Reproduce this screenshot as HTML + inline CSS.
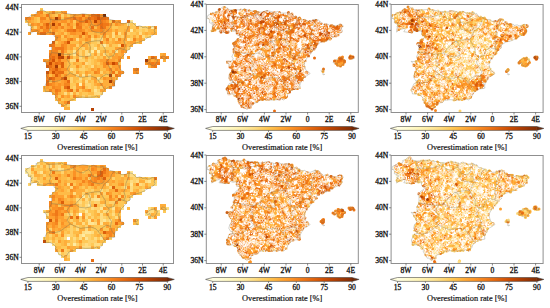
<!DOCTYPE html>
<html><head><meta charset="utf-8"><style>
html,body{margin:0;padding:0;background:#fff;width:550px;height:308px;overflow:hidden}
svg{display:block}
.t{font-family:"Liberation Serif",serif;font-size:7.6px;fill:#111;stroke:#111;stroke-width:0.3px}
.t2{font-family:"Liberation Serif",serif;font-size:8.3px;fill:#111;stroke:#111;stroke-width:0.2px}
</style></head><body>
<svg width="550" height="308" viewBox="0 0 550 308">
<defs><marker id="ra" markerUnits="userSpaceOnUse" markerWidth="8" markerHeight="8" refX="4" refY="4" overflow="visible"><circle cx="4" cy="4" r="2.40" fill="none" stroke="#fff" stroke-width="1.00"/></marker><marker id="rb" markerUnits="userSpaceOnUse" markerWidth="8" markerHeight="8" refX="4" refY="4" overflow="visible"><circle cx="4" cy="4" r="3.00" fill="none" stroke="#fff" stroke-width="1.10"/></marker></defs>
<rect width="550" height="308" fill="#fff"/>
<g shape-rendering="crispEdges"><path fill="#fff2b1" d="M79 83h3v3h-3z"/><path fill="#feeba2" d="M151 26h3v3h-3zM130 29h3v3h-3zM103 44h3v3h-3zM91 50h3v3h-3zM97 50h3v3h-3z"/><path fill="#fee595" d="M130 20h3v3h-3zM127 23h3v3h-3zM127 38h3v3h-3zM94 47h3v3h-3zM73 50h3v3h-3zM115 50h3v3h-3zM73 53h3v3h-3zM88 53h3v3h-3zM70 68h3v3h-3zM82 74h3v3h-3zM97 77h3v3h-3zM94 89h3v3h-3z"/><path fill="#fedc82" d="M139 26h3v3h-3zM112 32h3v3h-3zM118 32h3v3h-3zM139 32h3v3h-3zM112 35h3v3h-3zM142 35h3v3h-3zM76 38h3v3h-3zM91 38h3v3h-3zM100 38h3v3h-3zM118 44h3v3h-3zM85 50h3v3h-3zM85 53h3v3h-3zM103 53h3v3h-3zM79 56h3v3h-3zM70 59h3v3h-3zM73 59h3v3h-3zM85 62h3v3h-3zM91 65h3v3h-3zM76 74h3v3h-3zM88 74h3v3h-3zM79 77h3v3h-3zM85 80h3v3h-3zM64 92h3v3h-3zM70 92h3v3h-3zM94 92h3v3h-3zM97 92h3v3h-3z"/><path fill="#fed26d" d="M61 14h3v3h-3zM28 23h3v3h-3zM133 23h3v3h-3zM34 26h3v3h-3zM142 26h3v3h-3zM145 26h3v3h-3zM139 29h3v3h-3zM145 29h3v3h-3zM127 32h3v3h-3zM121 35h3v3h-3zM148 35h3v3h-3zM97 38h3v3h-3zM115 38h3v3h-3zM130 38h3v3h-3zM97 41h3v3h-3zM76 44h3v3h-3zM91 44h3v3h-3zM100 44h3v3h-3zM106 44h3v3h-3zM82 47h3v3h-3zM91 47h3v3h-3zM127 47h3v3h-3zM79 50h3v3h-3zM79 53h3v3h-3zM97 53h3v3h-3zM94 56h3v3h-3zM79 59h3v3h-3zM82 59h3v3h-3zM88 59h3v3h-3zM88 62h3v3h-3zM82 65h3v3h-3zM73 68h3v3h-3zM79 68h3v3h-3zM82 68h3v3h-3zM73 71h3v3h-3zM100 71h3v3h-3zM112 74h3v3h-3zM70 77h3v3h-3zM88 77h3v3h-3zM70 80h3v3h-3zM79 80h3v3h-3zM100 80h3v3h-3zM85 83h3v3h-3zM88 83h3v3h-3zM73 86h3v3h-3zM88 86h3v3h-3zM94 86h3v3h-3zM100 86h3v3h-3zM97 89h3v3h-3zM76 92h3v3h-3zM100 92h3v3h-3zM82 95h3v3h-3zM88 95h3v3h-3zM67 104h3v3h-3z"/><path fill="#fec857" d="M40 8h3v3h-3zM43 11h3v3h-3zM46 11h3v3h-3zM58 11h3v3h-3zM55 14h3v3h-3zM67 14h3v3h-3zM37 17h3v3h-3zM61 17h3v3h-3zM25 20h3v3h-3zM37 20h3v3h-3zM73 20h3v3h-3zM109 20h3v3h-3zM130 23h3v3h-3zM73 26h3v3h-3zM112 26h3v3h-3zM115 26h3v3h-3zM130 26h3v3h-3zM133 26h3v3h-3zM136 29h3v3h-3zM142 29h3v3h-3zM64 32h3v3h-3zM130 32h3v3h-3zM133 32h3v3h-3zM61 35h3v3h-3zM91 35h3v3h-3zM100 35h3v3h-3zM106 35h3v3h-3zM118 35h3v3h-3zM130 35h3v3h-3zM136 35h3v3h-3zM145 35h3v3h-3zM94 38h3v3h-3zM109 38h3v3h-3zM55 41h3v3h-3zM82 41h3v3h-3zM91 41h3v3h-3zM94 41h3v3h-3zM136 41h3v3h-3zM88 44h3v3h-3zM94 44h3v3h-3zM112 44h3v3h-3zM115 44h3v3h-3zM73 47h3v3h-3zM79 47h3v3h-3zM100 47h3v3h-3zM103 47h3v3h-3zM106 47h3v3h-3zM109 47h3v3h-3zM112 47h3v3h-3zM67 50h3v3h-3zM88 50h3v3h-3zM109 50h3v3h-3zM64 53h3v3h-3zM70 53h3v3h-3zM91 53h3v3h-3zM106 53h3v3h-3zM73 56h3v3h-3zM82 56h3v3h-3zM88 56h3v3h-3zM100 56h3v3h-3zM106 56h3v3h-3zM109 56h3v3h-3zM91 59h3v3h-3zM70 62h3v3h-3zM91 62h3v3h-3zM97 62h3v3h-3zM118 62h3v3h-3zM70 65h3v3h-3zM73 65h3v3h-3zM88 65h3v3h-3zM85 68h3v3h-3zM82 71h3v3h-3zM115 71h3v3h-3zM103 74h3v3h-3zM106 74h3v3h-3zM85 77h3v3h-3zM76 80h3v3h-3zM91 80h3v3h-3zM97 80h3v3h-3zM70 83h3v3h-3zM73 83h3v3h-3zM91 83h3v3h-3zM70 86h3v3h-3zM85 86h3v3h-3zM91 86h3v3h-3zM73 89h3v3h-3zM79 89h3v3h-3zM91 89h3v3h-3zM82 92h3v3h-3zM85 92h3v3h-3zM58 95h3v3h-3zM70 95h3v3h-3zM91 95h3v3h-3zM94 95h3v3h-3zM61 98h3v3h-3zM73 98h3v3h-3z"/><path fill="#febb47" d="M55 11h3v3h-3zM52 14h3v3h-3zM34 17h3v3h-3zM34 20h3v3h-3zM61 23h3v3h-3zM73 23h3v3h-3zM112 23h3v3h-3zM124 23h3v3h-3zM31 26h3v3h-3zM94 26h3v3h-3zM118 26h3v3h-3zM121 26h3v3h-3zM124 26h3v3h-3zM49 29h3v3h-3zM61 29h3v3h-3zM112 29h3v3h-3zM118 29h3v3h-3zM121 29h3v3h-3zM133 29h3v3h-3zM148 29h3v3h-3zM151 29h3v3h-3zM154 29h3v3h-3zM55 32h3v3h-3zM88 32h3v3h-3zM91 32h3v3h-3zM97 32h3v3h-3zM121 32h3v3h-3zM136 32h3v3h-3zM142 32h3v3h-3zM148 32h3v3h-3zM70 35h3v3h-3zM82 35h3v3h-3zM115 35h3v3h-3zM127 35h3v3h-3zM61 38h3v3h-3zM64 38h3v3h-3zM142 38h3v3h-3zM70 41h3v3h-3zM73 41h3v3h-3zM76 41h3v3h-3zM103 41h3v3h-3zM109 41h3v3h-3zM124 41h3v3h-3zM127 44h3v3h-3zM88 47h3v3h-3zM97 47h3v3h-3zM70 50h3v3h-3zM82 50h3v3h-3zM100 50h3v3h-3zM82 53h3v3h-3zM112 53h3v3h-3zM91 56h3v3h-3zM97 56h3v3h-3zM85 59h3v3h-3zM94 59h3v3h-3zM67 62h3v3h-3zM76 62h3v3h-3zM79 62h3v3h-3zM94 62h3v3h-3zM67 65h3v3h-3zM79 65h3v3h-3zM85 65h3v3h-3zM97 65h3v3h-3zM100 65h3v3h-3zM109 65h3v3h-3zM76 68h3v3h-3zM88 68h3v3h-3zM100 68h3v3h-3zM103 68h3v3h-3zM67 71h3v3h-3zM70 71h3v3h-3zM79 71h3v3h-3zM91 71h3v3h-3zM106 71h3v3h-3zM49 74h3v3h-3zM91 74h3v3h-3zM94 74h3v3h-3zM97 74h3v3h-3zM67 77h3v3h-3zM73 77h3v3h-3zM76 77h3v3h-3zM82 77h3v3h-3zM100 77h3v3h-3zM115 77h3v3h-3zM49 80h3v3h-3zM73 80h3v3h-3zM88 80h3v3h-3zM61 86h3v3h-3zM97 86h3v3h-3zM106 86h3v3h-3zM43 89h3v3h-3zM61 89h3v3h-3zM61 92h3v3h-3zM67 92h3v3h-3zM79 92h3v3h-3zM88 92h3v3h-3zM91 92h3v3h-3zM79 95h3v3h-3zM85 95h3v3h-3zM97 95h3v3h-3zM55 98h3v3h-3zM64 98h3v3h-3zM67 98h3v3h-3zM70 98h3v3h-3zM58 101h3v3h-3zM64 104h3v3h-3z"/><path fill="#feae3b" d="M49 11h3v3h-3zM31 14h3v3h-3zM43 14h3v3h-3zM49 14h3v3h-3zM64 14h3v3h-3zM70 14h3v3h-3zM85 14h3v3h-3zM46 17h3v3h-3zM31 20h3v3h-3zM67 20h3v3h-3zM40 23h3v3h-3zM64 23h3v3h-3zM85 23h3v3h-3zM121 23h3v3h-3zM64 26h3v3h-3zM82 26h3v3h-3zM88 26h3v3h-3zM109 26h3v3h-3zM148 26h3v3h-3zM40 29h3v3h-3zM58 29h3v3h-3zM85 29h3v3h-3zM124 29h3v3h-3zM58 32h3v3h-3zM67 32h3v3h-3zM94 32h3v3h-3zM106 32h3v3h-3zM109 32h3v3h-3zM145 32h3v3h-3zM151 32h3v3h-3zM154 32h3v3h-3zM67 35h3v3h-3zM73 35h3v3h-3zM76 35h3v3h-3zM97 35h3v3h-3zM109 35h3v3h-3zM133 35h3v3h-3zM79 38h3v3h-3zM82 38h3v3h-3zM103 38h3v3h-3zM112 38h3v3h-3zM121 38h3v3h-3zM136 38h3v3h-3zM58 41h3v3h-3zM85 41h3v3h-3zM88 41h3v3h-3zM112 41h3v3h-3zM121 41h3v3h-3zM127 41h3v3h-3zM139 41h3v3h-3zM55 44h3v3h-3zM58 44h3v3h-3zM67 44h3v3h-3zM79 44h3v3h-3zM85 44h3v3h-3zM97 44h3v3h-3zM109 44h3v3h-3zM130 44h3v3h-3zM67 47h3v3h-3zM76 47h3v3h-3zM85 47h3v3h-3zM124 47h3v3h-3zM58 50h3v3h-3zM76 50h3v3h-3zM94 50h3v3h-3zM103 50h3v3h-3zM106 50h3v3h-3zM118 50h3v3h-3zM67 53h3v3h-3zM100 53h3v3h-3zM109 53h3v3h-3zM118 53h3v3h-3zM160 53h3v3h-3zM76 56h3v3h-3zM121 56h3v3h-3zM148 56h3v3h-3zM67 59h3v3h-3zM97 59h3v3h-3zM115 59h3v3h-3zM151 59h3v3h-3zM163 59h3v3h-3zM64 62h3v3h-3zM73 62h3v3h-3zM100 62h3v3h-3zM64 65h3v3h-3zM94 65h3v3h-3zM148 65h3v3h-3zM67 68h3v3h-3zM94 68h3v3h-3zM112 68h3v3h-3zM64 71h3v3h-3zM88 71h3v3h-3zM103 71h3v3h-3zM61 74h3v3h-3zM67 74h3v3h-3zM70 74h3v3h-3zM73 74h3v3h-3zM79 74h3v3h-3zM85 74h3v3h-3zM100 74h3v3h-3zM91 77h3v3h-3zM58 80h3v3h-3zM82 80h3v3h-3zM103 80h3v3h-3zM106 80h3v3h-3zM94 83h3v3h-3zM103 83h3v3h-3zM106 83h3v3h-3zM109 83h3v3h-3zM43 86h3v3h-3zM49 86h3v3h-3zM46 89h3v3h-3zM64 89h3v3h-3zM82 89h3v3h-3zM103 89h3v3h-3zM52 92h3v3h-3zM58 92h3v3h-3zM73 92h3v3h-3zM64 95h3v3h-3zM76 95h3v3h-3zM61 101h3v3h-3zM64 107h3v3h-3zM67 107h3v3h-3z"/><path fill="#fea030" d="M61 11h3v3h-3zM40 14h3v3h-3zM76 14h3v3h-3zM79 14h3v3h-3zM88 14h3v3h-3zM31 17h3v3h-3zM52 17h3v3h-3zM82 17h3v3h-3zM28 20h3v3h-3zM43 20h3v3h-3zM46 20h3v3h-3zM49 20h3v3h-3zM58 20h3v3h-3zM115 20h3v3h-3zM34 23h3v3h-3zM70 23h3v3h-3zM82 23h3v3h-3zM91 23h3v3h-3zM118 23h3v3h-3zM37 26h3v3h-3zM58 26h3v3h-3zM67 26h3v3h-3zM85 26h3v3h-3zM106 26h3v3h-3zM127 26h3v3h-3zM136 26h3v3h-3zM55 29h3v3h-3zM64 29h3v3h-3zM88 29h3v3h-3zM103 29h3v3h-3zM109 29h3v3h-3zM115 29h3v3h-3zM127 29h3v3h-3zM28 32h3v3h-3zM46 32h3v3h-3zM61 32h3v3h-3zM76 32h3v3h-3zM79 32h3v3h-3zM100 32h3v3h-3zM85 35h3v3h-3zM124 35h3v3h-3zM139 35h3v3h-3zM58 38h3v3h-3zM73 38h3v3h-3zM88 38h3v3h-3zM124 38h3v3h-3zM139 38h3v3h-3zM61 41h3v3h-3zM79 41h3v3h-3zM106 41h3v3h-3zM115 41h3v3h-3zM118 41h3v3h-3zM130 41h3v3h-3zM133 41h3v3h-3zM70 44h3v3h-3zM73 44h3v3h-3zM82 44h3v3h-3zM124 44h3v3h-3zM70 47h3v3h-3zM115 47h3v3h-3zM118 47h3v3h-3zM121 47h3v3h-3zM64 50h3v3h-3zM112 50h3v3h-3zM124 50h3v3h-3zM76 53h3v3h-3zM94 53h3v3h-3zM115 53h3v3h-3zM121 53h3v3h-3zM163 53h3v3h-3zM64 56h3v3h-3zM70 56h3v3h-3zM85 56h3v3h-3zM103 56h3v3h-3zM112 56h3v3h-3zM115 56h3v3h-3zM46 59h3v3h-3zM61 59h3v3h-3zM64 59h3v3h-3zM100 59h3v3h-3zM103 59h3v3h-3zM109 59h3v3h-3zM112 59h3v3h-3zM154 59h3v3h-3zM82 62h3v3h-3zM58 65h3v3h-3zM106 65h3v3h-3zM112 65h3v3h-3zM115 65h3v3h-3zM91 68h3v3h-3zM106 68h3v3h-3zM118 68h3v3h-3zM76 71h3v3h-3zM85 71h3v3h-3zM109 71h3v3h-3zM52 74h3v3h-3zM94 77h3v3h-3zM106 77h3v3h-3zM109 77h3v3h-3zM112 77h3v3h-3zM55 80h3v3h-3zM61 80h3v3h-3zM94 80h3v3h-3zM55 83h3v3h-3zM61 83h3v3h-3zM76 83h3v3h-3zM82 83h3v3h-3zM97 83h3v3h-3zM46 86h3v3h-3zM76 86h3v3h-3zM79 86h3v3h-3zM103 86h3v3h-3zM52 89h3v3h-3zM85 89h3v3h-3zM100 89h3v3h-3zM55 95h3v3h-3zM67 95h3v3h-3zM61 104h3v3h-3z"/><path fill="#fb9225" d="M37 11h3v3h-3zM64 11h3v3h-3zM34 14h3v3h-3zM37 14h3v3h-3zM58 14h3v3h-3zM73 14h3v3h-3zM100 14h3v3h-3zM49 17h3v3h-3zM64 17h3v3h-3zM67 17h3v3h-3zM40 20h3v3h-3zM55 20h3v3h-3zM61 20h3v3h-3zM64 20h3v3h-3zM70 20h3v3h-3zM76 20h3v3h-3zM91 20h3v3h-3zM106 20h3v3h-3zM118 20h3v3h-3zM31 23h3v3h-3zM37 23h3v3h-3zM49 23h3v3h-3zM55 23h3v3h-3zM88 23h3v3h-3zM94 23h3v3h-3zM109 23h3v3h-3zM115 23h3v3h-3zM43 26h3v3h-3zM49 26h3v3h-3zM52 26h3v3h-3zM70 26h3v3h-3zM97 26h3v3h-3zM154 26h3v3h-3zM31 29h3v3h-3zM34 29h3v3h-3zM37 29h3v3h-3zM52 29h3v3h-3zM76 29h3v3h-3zM82 29h3v3h-3zM91 29h3v3h-3zM94 29h3v3h-3zM97 29h3v3h-3zM106 29h3v3h-3zM37 32h3v3h-3zM49 32h3v3h-3zM70 32h3v3h-3zM73 32h3v3h-3zM85 32h3v3h-3zM115 32h3v3h-3zM124 32h3v3h-3zM55 35h3v3h-3zM58 35h3v3h-3zM64 35h3v3h-3zM94 35h3v3h-3zM103 35h3v3h-3zM55 38h3v3h-3zM67 38h3v3h-3zM85 38h3v3h-3zM64 44h3v3h-3zM64 47h3v3h-3zM49 50h3v3h-3zM121 50h3v3h-3zM118 56h3v3h-3zM127 56h3v3h-3zM163 56h3v3h-3zM43 59h3v3h-3zM55 59h3v3h-3zM148 59h3v3h-3zM157 59h3v3h-3zM103 62h3v3h-3zM145 62h3v3h-3zM76 65h3v3h-3zM103 65h3v3h-3zM118 65h3v3h-3zM61 68h3v3h-3zM64 68h3v3h-3zM97 68h3v3h-3zM115 68h3v3h-3zM49 71h3v3h-3zM97 71h3v3h-3zM121 71h3v3h-3zM133 71h3v3h-3zM136 71h3v3h-3zM64 74h3v3h-3zM118 74h3v3h-3zM55 77h3v3h-3zM58 77h3v3h-3zM103 77h3v3h-3zM64 80h3v3h-3zM112 80h3v3h-3zM52 83h3v3h-3zM58 83h3v3h-3zM100 83h3v3h-3zM55 86h3v3h-3zM58 86h3v3h-3zM88 89h3v3h-3zM61 95h3v3h-3zM58 98h3v3h-3zM64 101h3v3h-3z"/><path fill="#f5851f" d="M40 11h3v3h-3zM52 11h3v3h-3zM25 17h3v3h-3zM28 17h3v3h-3zM40 17h3v3h-3zM43 17h3v3h-3zM70 17h3v3h-3zM76 17h3v3h-3zM85 17h3v3h-3zM52 20h3v3h-3zM82 20h3v3h-3zM88 20h3v3h-3zM97 20h3v3h-3zM103 20h3v3h-3zM43 23h3v3h-3zM67 23h3v3h-3zM79 23h3v3h-3zM97 23h3v3h-3zM55 26h3v3h-3zM61 26h3v3h-3zM43 29h3v3h-3zM46 29h3v3h-3zM79 29h3v3h-3zM100 29h3v3h-3zM103 32h3v3h-3zM79 35h3v3h-3zM88 35h3v3h-3zM106 38h3v3h-3zM118 38h3v3h-3zM133 38h3v3h-3zM64 41h3v3h-3zM61 44h3v3h-3zM52 47h3v3h-3zM52 50h3v3h-3zM55 50h3v3h-3zM52 53h3v3h-3zM55 53h3v3h-3zM61 53h3v3h-3zM55 56h3v3h-3zM154 56h3v3h-3zM160 56h3v3h-3zM166 56h3v3h-3zM106 59h3v3h-3zM118 59h3v3h-3zM46 62h3v3h-3zM52 62h3v3h-3zM109 62h3v3h-3zM148 62h3v3h-3zM154 62h3v3h-3zM52 65h3v3h-3zM151 65h3v3h-3zM49 68h3v3h-3zM58 68h3v3h-3zM109 68h3v3h-3zM133 68h3v3h-3zM94 71h3v3h-3zM118 71h3v3h-3zM46 74h3v3h-3zM58 74h3v3h-3zM46 77h3v3h-3zM52 80h3v3h-3zM49 83h3v3h-3zM64 83h3v3h-3zM67 83h3v3h-3zM112 83h3v3h-3zM52 86h3v3h-3zM82 86h3v3h-3zM109 86h3v3h-3zM49 89h3v3h-3zM58 89h3v3h-3zM67 89h3v3h-3zM76 89h3v3h-3zM55 92h3v3h-3zM73 95h3v3h-3z"/><path fill="#f07818" d="M46 14h3v3h-3zM58 17h3v3h-3zM79 17h3v3h-3zM91 17h3v3h-3zM106 17h3v3h-3zM79 20h3v3h-3zM100 20h3v3h-3zM103 23h3v3h-3zM106 23h3v3h-3zM40 26h3v3h-3zM76 26h3v3h-3zM79 26h3v3h-3zM103 26h3v3h-3zM67 29h3v3h-3zM70 29h3v3h-3zM70 38h3v3h-3zM100 41h3v3h-3zM49 44h3v3h-3zM52 44h3v3h-3zM55 47h3v3h-3zM58 47h3v3h-3zM61 47h3v3h-3zM61 50h3v3h-3zM49 53h3v3h-3zM49 56h3v3h-3zM49 59h3v3h-3zM58 59h3v3h-3zM76 59h3v3h-3zM58 62h3v3h-3zM151 62h3v3h-3zM157 62h3v3h-3zM154 65h3v3h-3zM52 68h3v3h-3zM136 68h3v3h-3zM55 71h3v3h-3zM112 71h3v3h-3zM115 74h3v3h-3zM55 89h3v3h-3z"/><path fill="#e86c12" d="M82 14h3v3h-3zM91 14h3v3h-3zM94 14h3v3h-3zM73 17h3v3h-3zM88 17h3v3h-3zM94 17h3v3h-3zM100 17h3v3h-3zM103 17h3v3h-3zM112 20h3v3h-3zM127 20h3v3h-3zM58 23h3v3h-3zM76 23h3v3h-3zM100 23h3v3h-3zM46 26h3v3h-3zM91 26h3v3h-3zM100 26h3v3h-3zM73 29h3v3h-3zM40 32h3v3h-3zM43 32h3v3h-3zM52 32h3v3h-3zM52 56h3v3h-3zM151 56h3v3h-3zM55 62h3v3h-3zM115 62h3v3h-3zM49 65h3v3h-3zM58 71h3v3h-3zM61 71h3v3h-3zM52 77h3v3h-3zM61 77h3v3h-3zM46 80h3v3h-3zM67 80h3v3h-3zM46 83h3v3h-3zM64 86h3v3h-3zM70 89h3v3h-3zM67 101h3v3h-3z"/><path fill="#dd5f0c" d="M97 14h3v3h-3zM85 20h3v3h-3zM46 23h3v3h-3zM52 41h3v3h-3zM61 62h3v3h-3zM106 62h3v3h-3zM46 65h3v3h-3zM61 65h3v3h-3zM55 68h3v3h-3zM55 74h3v3h-3zM49 77h3v3h-3z"/><path fill="#d35406" d="M97 17h3v3h-3zM82 32h3v3h-3zM67 41h3v3h-3zM121 44h3v3h-3zM67 56h3v3h-3zM52 59h3v3h-3zM46 71h3v3h-3zM52 71h3v3h-3zM67 86h3v3h-3z"/><path fill="#c84a02" d="M58 56h3v3h-3zM49 62h3v3h-3zM112 62h3v3h-3z"/><path fill="#b84203" d="M94 20h3v3h-3zM61 56h3v3h-3zM109 74h3v3h-3zM64 77h3v3h-3zM91 108h3v3h-3z"/><path fill="#a63a03" d="M55 17h3v3h-3zM52 23h3v3h-3zM145 59h3v3h-3zM55 65h3v3h-3zM109 80h3v3h-3z"/><path fill="#762a05" d="M103 14h3v3h-3zM58 53h3v3h-3z"/></g>
<path d="M49.1 13.2L49.5 17.4L51.1 21.1L49.5 23.6L51.1 26.0L49.5 29.7L50.6 32.9M50.1 19.2L54.7 19.9L59.9 19.9L65.0 19.2L70.2 18.0L73.3 16.8L75.4 14.9M73.3 16.8L76.4 19.9L80.5 21.7L83.6 21.7L85.7 19.9L88.8 18.6L89.3 15.5M88.8 18.6L90.9 21.1L91.9 24.8L96.0 26.0L99.1 24.8L101.2 22.9L100.2 19.9L103.3 17.4L103.8 15.8M90.9 24.2L89.8 27.3L91.9 31.0L96.0 32.2L100.2 32.8L102.7 32.2L104.3 29.7L101.2 26.6M114.1 20.5L111.5 23.6L110.5 27.3L107.4 31.0L104.3 32.8M104.3 32.8L102.2 37.1L100.2 40.8L102.2 44.5L105.3 49.5L105.3 54.4L108.4 56.9M129.1 21.7L128.6 26.0L126.0 32.2L125.5 37.1L123.9 40.8L125.5 45.8L123.9 49.5M123.9 49.5L119.8 48.3L115.7 50.7L113.6 55.7L108.4 56.9M123.9 49.5L127.0 50.5M51.6 52.6L57.8 53.2L65.0 54.4L70.2 54.4L75.4 53.2M75.4 53.2L78.5 49.5L81.6 46.4L85.7 42.7L88.8 43.3L90.3 47.0L89.8 52.0L90.9 55.7L85.7 56.9L79.5 56.3L75.4 53.2M85.7 42.7L90.9 41.5L96.0 40.8L100.2 40.8M70.2 54.4L67.1 59.4L70.2 64.3L67.1 69.2L70.2 73.0M70.2 73.0L65.0 76.7L59.9 80.4L54.7 81.6L49.5 81.0M70.2 73.0L75.4 75.4L80.5 77.3L85.7 76.7L90.9 76.0L96.0 77.9L98.1 80.4M98.1 80.4L102.2 76.7L106.4 74.2L110.5 75.4M98.1 80.4L101.2 84.1L103.3 87.8L105.1 89.3M110.5 75.4L111.5 79.1L113.6 82.8L114.6 83.5M110.5 75.4L111.5 70.5L108.4 65.5L106.4 61.8L109.5 58.1L108.4 56.9M103.5 15.3L101.4 15.9L99.1 16.0L96.9 15.9L93.4 14.3L90.3 15.5L88.6 15.0L86.2 14.3L82.7 13.8L77.5 15.0L72.8 14.7L69.6 14.0L63.4 13.1L61.4 11.7L60.6 12.6L58.3 12.8L54.3 13.1L49.1 13.2L46.9 12.8L45.8 11.7L42.4 10.1L40.6 10.3L38.7 11.7L35.9 12.8L36.6 14.0L35.1 15.2L30.8 15.8L29.0 17.1L26.7 17.9L26.6 18.6L25.8 19.2L26.1 21.3L26.9 20.6L27.6 22.1L28.3 22.7L28.1 25.0L29.0 25.4L31.3 24.8L30.2 26.1L30.8 27.3L32.5 26.9L30.2 29.1L31.8 29.2L30.4 30.7L30.2 33.8L32.5 32.0L34.6 31.2L37.5 30.3L38.4 31.6L37.1 33.4L40.2 33.9L43.3 34.3L45.2 34.2L48.0 32.3L50.6 32.9L53.9 32.7L54.2 36.3L56.9 37.4L57.9 37.4L55.9 39.9L53.2 41.6L51.6 43.9L50.3 44.3L51.6 46.4L51.6 50.7L51.1 53.6L50.1 55.4L49.3 57.1L50.8 58.5L49.3 61.0L46.1 61.3L44.1 61.1L46.4 63.7L47.2 65.8L49.0 68.0L50.1 69.9L49.0 70.9L47.5 72.3L46.4 76.0L48.5 79.4L50.3 79.0L49.5 81.4L47.0 81.8L44.4 87.2L44.9 89.0L45.4 91.7L46.2 91.6L50.1 91.5L51.6 92.3L54.2 94.0L56.2 96.5L55.4 97.2L56.2 98.6L56.8 99.8L58.1 101.6L59.6 104.1L60.7 104.0L63.9 106.2L65.6 104.7L66.6 104.8L68.7 101.1L71.4 100.0L74.1 99.6L76.2 97.5L81.8 97.0L85.5 97.4L90.7 97.2L94.9 96.9L96.4 96.0L99.2 97.4L102.2 94.1L103.0 91.7L105.5 89.0L108.8 87.0L111.7 86.8L114.7 86.2L114.4 84.1L114.8 81.8L116.5 79.3L116.9 77.4L119.5 75.4L120.5 75.1L122.4 73.7L124.2 72.6L122.9 71.2L120.3 69.6L119.5 67.3L118.5 63.7L119.6 61.1L121.6 57.3L123.3 55.8L126.1 52.5L126.8 51.1L130.8 48.0L129.6 47.0L130.1 46.0L133.8 43.7L134.8 43.2L140.5 41.7L144.4 39.9L147.2 37.9L150.8 36.3L154.2 34.1L155.1 32.8L154.2 30.7L154.7 29.0L156.1 28.2L154.6 26.9L152.3 26.5L149.4 28.0L147.5 28.0L145.6 27.0L142.5 27.6L142.0 26.6L139.7 26.0L136.8 26.6L132.2 22.4L128.8 21.8L124.9 23.6L121.8 23.7L118.6 21.8L116.2 22.4L114.1 20.5L111.5 19.9L108.4 19.0L106.9 16.5L105.3 16.8ZM146.1 62.1L147.9 63.6L149.9 62.5L150.3 64.7L153.4 65.9L155.4 64.6L157.8 60.4L154.9 59.1L155.0 57.4L153.4 58.1L150.6 58.9L146.6 61.5ZM161.3 56.9L161.6 57.8L164.2 59.0L166.5 58.5L165.8 57.1L162.7 56.0ZM134.6 69.9L135.5 71.0L136.8 70.7L138.0 69.0L136.8 68.1L135.5 69.1ZM136.3 72.7L138.2 73.3L137.3 73.7L136.1 73.2Z" fill="none" stroke="#6f6b52" stroke-width="0.45" stroke-linejoin="round" opacity="0.85"/>
<rect x="21.5" y="4.5" width="152.0" height="108.0" fill="none" stroke="#8f8f8f" stroke-width="1"/>
<line x1="19.5" y1="7.5" x2="21.5" y2="7.5" stroke="#555" stroke-width="0.7"/>
<text x="18.7" y="10.1" class="t" text-anchor="end">44N</text>
<line x1="19.5" y1="32.2" x2="21.5" y2="32.2" stroke="#555" stroke-width="0.7"/>
<text x="18.7" y="34.8" class="t" text-anchor="end">42N</text>
<line x1="19.5" y1="56.9" x2="21.5" y2="56.9" stroke="#555" stroke-width="0.7"/>
<text x="18.7" y="59.5" class="t" text-anchor="end">40N</text>
<line x1="19.5" y1="81.6" x2="21.5" y2="81.6" stroke="#555" stroke-width="0.7"/>
<text x="18.7" y="84.2" class="t" text-anchor="end">38N</text>
<line x1="19.5" y1="106.3" x2="21.5" y2="106.3" stroke="#555" stroke-width="0.7"/>
<text x="18.7" y="108.9" class="t" text-anchor="end">36N</text>
<line x1="39.2" y1="112.5" x2="39.2" y2="114.5" stroke="#555" stroke-width="0.7"/>
<text x="39.2" y="121.9" class="t" text-anchor="middle">8W</text>
<line x1="59.9" y1="112.5" x2="59.9" y2="114.5" stroke="#555" stroke-width="0.7"/>
<text x="59.9" y="121.9" class="t" text-anchor="middle">6W</text>
<line x1="80.5" y1="112.5" x2="80.5" y2="114.5" stroke="#555" stroke-width="0.7"/>
<text x="80.5" y="121.9" class="t" text-anchor="middle">4W</text>
<line x1="101.2" y1="112.5" x2="101.2" y2="114.5" stroke="#555" stroke-width="0.7"/>
<text x="101.2" y="121.9" class="t" text-anchor="middle">2W</text>
<line x1="121.8" y1="112.5" x2="121.8" y2="114.5" stroke="#555" stroke-width="0.7"/>
<text x="121.8" y="121.9" class="t" text-anchor="middle">0</text>
<line x1="142.5" y1="112.5" x2="142.5" y2="114.5" stroke="#555" stroke-width="0.7"/>
<text x="142.5" y="121.9" class="t" text-anchor="middle">2E</text>
<line x1="163.2" y1="112.5" x2="163.2" y2="114.5" stroke="#555" stroke-width="0.7"/>
<text x="163.2" y="121.9" class="t" text-anchor="middle">4E</text>
<defs><linearGradient id="g0" x1="0" x2="1" y1="0" y2="0"><stop offset="0.000" stop-color="#ffffe5"/><stop offset="0.050" stop-color="#fffcd7"/><stop offset="0.100" stop-color="#fff9c7"/><stop offset="0.150" stop-color="#fff5b8"/><stop offset="0.200" stop-color="#ffeea8"/><stop offset="0.250" stop-color="#fee697"/><stop offset="0.300" stop-color="#fedc82"/><stop offset="0.350" stop-color="#fed069"/><stop offset="0.400" stop-color="#fec550"/><stop offset="0.450" stop-color="#feb541"/><stop offset="0.500" stop-color="#fea433"/><stop offset="0.550" stop-color="#fd9627"/><stop offset="0.600" stop-color="#f6861f"/><stop offset="0.650" stop-color="#ef7718"/><stop offset="0.700" stop-color="#e56910"/><stop offset="0.750" stop-color="#d95b09"/><stop offset="0.800" stop-color="#cd4d03"/><stop offset="0.850" stop-color="#bb4403"/><stop offset="0.900" stop-color="#a83b03"/><stop offset="0.950" stop-color="#943304"/><stop offset="1.000" stop-color="#812d05"/></linearGradient></defs>
<rect x="27.9" y="126.5" width="139.4" height="3.9" fill="url(#g0)"/>
<path d="M28.2 126.5 L20.8 128.4 L28.2 130.4 Z" fill="#fffddc"/>
<path d="M167.0 126.5 L174.3 128.4 L167.0 130.4 Z" fill="#712806"/>
<path d="M27.9 126.5L20.8 128.4L27.9 130.4L167.3 130.4L174.3 128.4L167.3 126.5Z" fill="none" stroke="#3a3a3a" stroke-width="0.55"/>
<line x1="27.9" y1="130.4" x2="27.9" y2="132.0" stroke="#444" stroke-width="0.6"/>
<text x="27.9" y="139.3" class="t" text-anchor="middle">15</text>
<line x1="55.8" y1="130.4" x2="55.8" y2="132.0" stroke="#444" stroke-width="0.6"/>
<text x="55.8" y="139.3" class="t" text-anchor="middle">30</text>
<line x1="83.7" y1="130.4" x2="83.7" y2="132.0" stroke="#444" stroke-width="0.6"/>
<text x="83.7" y="139.3" class="t" text-anchor="middle">45</text>
<line x1="111.5" y1="130.4" x2="111.5" y2="132.0" stroke="#444" stroke-width="0.6"/>
<text x="111.5" y="139.3" class="t" text-anchor="middle">60</text>
<line x1="139.4" y1="130.4" x2="139.4" y2="132.0" stroke="#444" stroke-width="0.6"/>
<text x="139.4" y="139.3" class="t" text-anchor="middle">75</text>
<line x1="167.3" y1="130.4" x2="167.3" y2="132.0" stroke="#444" stroke-width="0.6"/>
<text x="167.3" y="139.3" class="t" text-anchor="middle">90</text>
<text x="97.4" y="150.4" class="t2" text-anchor="middle">Overestimation rate [%]</text>
<g fill="none" stroke-linecap="round" transform="scale(0.5)"><path stroke="#fec857" stroke-width="6.00" d="M574 113h0M533 173h0M593 105h0"/><path stroke="#febb47" stroke-width="6.00" d="M480 123h0M531 137h0M540 54h0M472 151h0M476 145h0M616 98h0M600 139h0M588 58h0M593 82h0M605 119h0"/><path stroke="#feae3b" stroke-width="6.00" d="M522 135h0M554 169h0M562 47h0M562 184h0M608 83h0M574 136h0M494 171h0M521 122h0M548 171h0M475 106h0M659 58h0M476 106h0M552 74h0M595 39h0M556 188h0M440 29h0M580 79h0M512 163h0M672 57h0M513 63h0M563 179h0M557 81h0M565 126h0M459 179h0M578 61h0M536 93h0M491 143h0M468 154h0M571 84h0M583 91h0M521 122h0M612 145h0M646 143h0"/><path stroke="#fea030" stroke-width="6.00" d="M633 49h0M557 92h0M539 155h0M670 62h0M610 113h0M493 155h0M533 193h0M503 72h0M439 25h0M524 108h0M570 139h0M565 103h0M534 176h0M505 173h0M564 170h0M554 163h0M501 190h0M589 154h0M609 53h0M513 169h0M525 139h0M533 148h0M560 44h0M497 78h0M547 123h0M559 93h0M508 160h0M499 191h0M498 87h0M495 121h0M567 59h0M503 169h0M531 86h0M510 148h0M442 51h0M526 69h0M564 115h0M585 120h0M505 163h0M468 21h0M598 38h0M570 189h0M498 107h0M531 104h0M532 104h0M475 91h0M490 105h0M588 125h0M439 25h0M528 127h0M605 156h0M549 196h0M599 105h0M476 113h0M549 107h0M569 155h0"/><path stroke="#fb9225" stroke-width="6.00" d="M483 23h0M545 188h0M481 81h0M427 34h0M590 38h0M474 63h0M567 119h0M517 199h0M529 52h0M562 148h0M530 79h0M517 114h0M579 180h0M535 27h0M559 80h0M483 43h0M576 40h0M577 82h0M603 116h0M469 147h0M480 203h0M461 154h0M532 36h0M469 89h0M534 174h0M584 100h0M583 99h0M602 158h0M490 142h0M590 72h0M507 168h0M474 186h0M619 51h0M602 73h0M468 185h0M549 183h0M558 48h0M568 122h0M574 107h0M516 25h0M526 184h0M584 178h0M569 79h0M530 190h0M632 57h0M487 171h0M590 115h0M485 70h0M527 158h0M511 172h0M538 113h0M438 45h0M468 144h0M609 51h0M619 92h0M453 22h0M497 194h0M500 30h0M605 143h0M672 127h0M681 129h0M683 122h0M671 122h0"/><path stroke="#f5851f" stroke-width="6.00" d="M460 156h0M576 70h0M484 132h0M468 104h0M637 51h0M658 74h0M502 186h0M597 122h0M508 97h0M500 42h0M535 125h0M482 30h0M605 114h0M568 110h0M519 174h0M507 100h0M558 46h0M590 94h0M487 157h0M503 189h0M486 158h0M553 81h0M561 64h0M521 171h0M485 34h0M582 143h0M489 170h0M460 151h0M448 34h0M614 99h0M508 171h0M455 125h0M595 177h0M539 68h0M476 79h0M536 94h0M576 47h0M488 205h0M616 45h0M575 177h0M489 58h0M474 43h0M431 30h0M476 161h0M495 200h0M612 109h0M547 26h0M501 214h0M601 142h0M575 68h0M506 115h0M541 93h0M604 141h0M548 95h0M573 156h0M604 45h0M555 172h0M591 176h0M518 36h0M495 27h0M479 113h0M498 160h0M447 25h0M521 31h0M542 82h0M521 79h0M569 188h0M589 107h0M482 121h0M586 109h0M494 190h0M502 83h0M506 197h0M509 32h0M578 153h0M516 138h0M539 196h0M626 79h0M440 56h0M487 182h0M551 144h0M679 128h0M681 128h0M685 114h0"/><path stroke="#f07818" stroke-width="6.00" d="M492 159h0M478 87h0M563 141h0M585 53h0M561 32h0M531 108h0M489 127h0M536 199h0M597 146h0M509 164h0M541 55h0M513 154h0M602 54h0M499 165h0M579 55h0M538 48h0M571 56h0M639 79h0M515 128h0M454 43h0M529 40h0M463 45h0M561 173h0M447 18h0M616 68h0M661 77h0M615 102h0M485 67h0M478 198h0M469 86h0M521 149h0M521 162h0M482 20h0M571 163h0M558 50h0M515 52h0M623 91h0M588 157h0M578 153h0M519 127h0M505 35h0M494 112h0M486 100h0M495 205h0M511 70h0M487 104h0M526 149h0M550 36h0M618 78h0M428 42h0M542 78h0M558 176h0M482 167h0M507 193h0M487 33h0M512 171h0M468 184h0M460 43h0M582 169h0M525 159h0M569 181h0M495 198h0M427 29h0M581 129h0M491 172h0M499 100h0M602 76h0"/><path stroke="#e86c12" stroke-width="6.00" d="M495 32h0M532 135h0M476 181h0M619 45h0M536 179h0M545 86h0M491 21h0M486 160h0M532 53h0M571 148h0M466 180h0M493 105h0M527 37h0M652 52h0M574 129h0M467 37h0M540 87h0M495 78h0M682 63h0M586 65h0M486 164h0M498 181h0M560 191h0M555 61h0M540 184h0M541 130h0M601 50h0M604 161h0M479 192h0M536 124h0M564 171h0M484 181h0M617 47h0M485 45h0M506 72h0M502 180h0M503 47h0M614 145h0M572 100h0M584 84h0M511 54h0M469 187h0M629 116h0"/><path stroke="#dd5f0c" stroke-width="6.00" d="M521 37h0M579 159h0M495 208h0M540 187h0M475 35h0M653 54h0M534 191h0M470 184h0M525 53h0M530 33h0M452 61h0M484 197h0M526 90h0M456 45h0M468 45h0M471 25h0M639 46h0M481 95h0M620 44h0M553 52h0M490 178h0M438 35h0M498 34h0M472 100h0M578 134h0M582 114h0M509 69h0M627 63h0M571 49h0"/><path stroke="#d35406" stroke-width="6.00" d="M469 56h0M632 90h0M601 45h0M509 164h0M516 151h0M504 193h0M510 198h0M539 81h0M557 34h0M443 43h0M590 48h0M578 48h0M468 183h0M617 68h0M533 69h0M488 96h0"/><path stroke="#c84a02" stroke-width="6.00" d="M544 30h0M504 29h0M447 54h0M529 196h0M681 58h0M538 61h0M508 33h0M640 64h0M648 62h0M451 55h0M538 47h0"/><path stroke="#a63a03" stroke-width="6.00" d="M588 171h0"/><path stroke="#862e05" stroke-width="6.00" d="M609 49h0"/><path stroke="#fed26d" stroke-width="6.00" d="M635 85h0"/><path stroke="#fec857" stroke-width="6.00" d="M615 72h0"/><path stroke="#febb47" stroke-width="6.00" d="M551 160h0M481 151h0M519 175h0M534 104h0M508 92h0M548 96h0M568 188h0M517 156h0M575 185h0M576 87h0M540 173h0M469 155h0"/><path stroke="#feae3b" stroke-width="6.00" d="M556 83h0M635 46h0M540 73h0M488 201h0M516 181h0M566 185h0M478 202h0M556 171h0M517 93h0M547 168h0M423 36h0M535 180h0M559 192h0M572 186h0M496 98h0M475 145h0M480 81h0M448 34h0M561 178h0M555 111h0M511 83h0M556 126h0M600 72h0M511 72h0M575 47h0M504 132h0"/><path stroke="#fea030" stroke-width="6.00" d="M528 141h0M535 153h0M517 152h0M500 81h0M516 197h0M539 100h0M516 165h0M529 137h0M495 170h0M618 73h0M538 160h0M617 100h0M538 178h0M615 68h0M494 73h0M532 178h0M622 87h0M432 47h0M500 172h0M519 131h0M559 135h0M531 147h0M534 197h0M517 60h0M532 105h0M576 32h0M476 91h0M488 122h0M525 62h0M603 116h0M529 172h0M539 95h0M615 105h0M498 101h0M586 60h0M537 89h0M532 89h0M462 150h0M480 26h0M520 188h0M546 146h0M541 111h0M593 102h0M500 122h0M540 61h0M533 110h0M642 55h0M565 173h0M605 89h0M497 129h0M483 170h0M518 167h0"/><path stroke="#fb9225" stroke-width="6.00" d="M581 150h0M600 130h0M488 187h0M518 109h0M523 98h0M518 119h0M574 66h0M527 64h0M515 97h0M559 177h0M585 108h0M487 167h0M567 153h0M484 175h0M500 79h0M489 20h0M562 98h0M545 51h0M490 104h0M534 55h0M565 50h0M596 172h0M506 135h0M507 117h0M508 62h0M575 145h0M591 98h0M606 108h0M560 124h0M556 90h0M468 53h0M551 83h0M553 97h0M586 61h0M556 156h0M465 134h0M608 52h0M544 36h0M594 160h0M594 39h0M583 59h0M520 123h0M473 118h0M502 42h0M550 170h0M565 61h0M582 29h0M516 88h0M548 177h0M633 67h0M643 70h0M500 100h0M569 85h0M480 157h0M590 109h0M541 139h0M630 60h0M654 59h0M676 63h0M463 170h0M557 127h0M530 181h0M529 154h0M547 90h0M503 77h0M631 79h0M519 145h0M629 43h0M611 89h0M525 199h0M480 109h0M516 134h0M571 195h0M611 58h0M592 115h0M465 44h0M482 73h0M502 103h0M464 58h0M493 184h0M593 83h0M480 27h0M598 42h0M613 99h0M539 177h0M675 125h0M701 112h0M681 126h0M686 129h0M705 114h0"/><path stroke="#f5851f" stroke-width="6.00" d="M470 136h0M649 50h0M529 67h0M585 147h0M472 178h0M671 72h0M525 82h0M486 84h0M552 114h0M519 139h0M475 97h0M479 54h0M564 192h0M595 175h0M600 77h0M497 215h0M429 45h0M569 194h0M535 168h0M426 61h0M551 136h0M540 116h0M594 44h0M512 96h0M596 64h0M510 87h0M575 149h0M525 167h0M604 152h0M513 193h0M608 100h0M474 107h0M423 28h0M630 85h0M667 62h0M479 104h0M518 197h0M490 60h0M630 53h0M564 128h0M536 173h0M496 201h0M637 60h0M518 41h0M517 123h0M540 72h0M586 70h0M626 68h0M570 43h0M584 77h0M472 86h0M600 154h0M553 96h0M510 91h0M555 134h0M491 66h0M510 165h0M565 47h0M483 123h0M523 157h0M546 167h0M459 173h0M488 204h0M560 82h0M520 76h0M477 121h0M604 62h0M563 89h0M589 117h0M585 77h0M484 178h0M526 184h0M599 36h0M568 142h0M482 160h0M531 126h0M595 67h0M618 45h0M485 122h0M549 78h0M487 201h0M544 170h0M540 185h0M597 155h0M669 65h0M680 116h0"/><path stroke="#f07818" stroke-width="6.00" d="M434 40h0M475 132h0M493 81h0M507 88h0M465 154h0M615 99h0M559 103h0M526 128h0M548 54h0M444 25h0M636 54h0M640 77h0M508 149h0M535 174h0M486 118h0M540 174h0M593 101h0M569 127h0M571 46h0M513 73h0M492 100h0M568 174h0M473 130h0M428 47h0M553 89h0M439 24h0M482 36h0M535 83h0M560 46h0M545 139h0M532 77h0M558 101h0M520 31h0M472 47h0M592 157h0M517 189h0M540 179h0M490 76h0M500 125h0M547 55h0M485 131h0M588 135h0M610 41h0M575 124h0M557 48h0M454 42h0M549 168h0M491 189h0M471 123h0M488 173h0M583 37h0M464 24h0M458 173h0M593 151h0M479 151h0M590 83h0M554 83h0M602 135h0M518 27h0M593 51h0M676 125h0"/><path stroke="#e86c12" stroke-width="6.00" d="M580 145h0M540 62h0M447 19h0M590 55h0M555 47h0M453 65h0M491 150h0M567 30h0M508 50h0M569 181h0M489 207h0M592 119h0M468 131h0M555 80h0M621 64h0M495 88h0M682 62h0M509 101h0M613 103h0M528 25h0M577 27h0M493 183h0M567 93h0M534 81h0M442 62h0M468 134h0M490 215h0M516 193h0M552 176h0M545 82h0M466 144h0M587 90h0M548 189h0M483 120h0M479 123h0M620 57h0M661 52h0M603 155h0M565 54h0M485 55h0M510 55h0M603 132h0M538 61h0M611 66h0M548 29h0M547 119h0M556 51h0M493 42h0M575 55h0M565 144h0M578 114h0M502 69h0M470 169h0M681 50h0M671 55h0M508 24h0M486 82h0M551 29h0M489 179h0M700 116h0"/><path stroke="#dd5f0c" stroke-width="6.00" d="M533 90h0M529 177h0M467 183h0M572 173h0M643 82h0M447 45h0M447 38h0M479 158h0M450 48h0M610 89h0M538 26h0M527 43h0M509 72h0M629 74h0M587 50h0M519 179h0M463 171h0M666 72h0M468 163h0M466 25h0M562 58h0M706 114h0"/><path stroke="#d35406" stroke-width="6.00" d="M526 43h0M609 153h0M499 72h0M484 30h0M478 68h0M450 39h0M488 70h0M538 120h0M535 72h0M595 125h0M676 130h0"/><path stroke="#c84a02" stroke-width="6.00" d="M451 58h0"/><path stroke="#b84203" stroke-width="6.00" d="M534 23h0"/><path stroke="#a63a03" stroke-width="6.00" d="M527 168h0"/><path stroke="#862e05" stroke-width="6.00" d="M542 53h0"/><path stroke="#fed26d" stroke-width="6.00" d="M605 103h0"/><path stroke="#fec857" stroke-width="6.00" d="M526 95h0M544 178h0M611 102h0M593 122h0M523 73h0"/><path stroke="#febb47" stroke-width="6.00" d="M581 141h0M630 68h0M548 192h0M526 152h0M468 184h0M534 97h0M493 31h0M571 153h0M508 103h0M581 114h0M435 56h0M616 98h0M564 180h0"/><path stroke="#feae3b" stroke-width="6.00" d="M541 61h0M663 60h0M539 137h0M607 153h0M645 78h0M543 36h0M558 178h0M424 61h0M486 126h0M474 122h0M483 63h0M546 185h0M488 46h0M514 133h0M565 137h0M527 186h0M579 117h0M558 193h0M506 120h0M565 159h0M592 38h0M555 77h0M516 67h0M584 61h0M578 130h0M565 173h0M568 144h0M547 65h0M613 96h0M447 37h0"/><path stroke="#fea030" stroke-width="6.00" d="M471 99h0M534 167h0M551 162h0M486 164h0M537 120h0M473 125h0M556 182h0M515 133h0M539 46h0M531 157h0M465 127h0M615 94h0M578 137h0M555 121h0M497 47h0M562 173h0M552 102h0M512 157h0M501 77h0M536 118h0M433 31h0M570 144h0M564 135h0M480 49h0M603 153h0M513 86h0M570 103h0M462 147h0M486 59h0M493 116h0M532 198h0M525 145h0M539 87h0M500 211h0M559 184h0M512 72h0M623 101h0M519 118h0M479 84h0M568 45h0M511 143h0M470 185h0M481 174h0M609 100h0M536 134h0M477 165h0M479 203h0M538 157h0M508 99h0M582 33h0M569 149h0M675 130h0M674 124h0M678 119h0"/><path stroke="#fb9225" stroke-width="6.00" d="M536 199h0M602 66h0M568 176h0M585 113h0M585 172h0M451 48h0M475 173h0M549 119h0M560 111h0M574 142h0M539 90h0M527 185h0M518 93h0M541 123h0M576 68h0M559 152h0M608 41h0M557 130h0M489 192h0M518 116h0M544 180h0M577 111h0M474 92h0M561 70h0M509 69h0M497 94h0M540 132h0M562 103h0M588 81h0M503 192h0M473 190h0M546 179h0M501 29h0M515 167h0M557 113h0M559 181h0M470 123h0M548 139h0M557 146h0M596 78h0M501 30h0M447 41h0M550 185h0M616 76h0M485 150h0M495 55h0M466 177h0M525 83h0M542 180h0M437 41h0M562 160h0M621 79h0M556 179h0M498 119h0M507 106h0M591 139h0M609 64h0M501 177h0M579 127h0M495 141h0M556 103h0M525 66h0M604 98h0M502 26h0M596 123h0M529 117h0M546 72h0M507 156h0M468 103h0M534 196h0M529 186h0M517 137h0M517 130h0M607 105h0M533 190h0M489 95h0M507 49h0"/><path stroke="#f5851f" stroke-width="6.00" d="M477 121h0M628 68h0M499 153h0M516 147h0M531 58h0M477 99h0M455 124h0M489 121h0M589 88h0M574 169h0M511 88h0M485 76h0M531 163h0M575 158h0M593 80h0M512 201h0M477 107h0M538 180h0M646 78h0M475 105h0M502 69h0M498 21h0M618 97h0M500 149h0M534 73h0M535 83h0M587 55h0M551 159h0M587 166h0M529 91h0M537 149h0M617 55h0M477 63h0M518 106h0M457 185h0M533 143h0M654 75h0M510 118h0M614 59h0M514 133h0M552 76h0M598 111h0M541 168h0M516 190h0M523 163h0M579 150h0M440 31h0M453 23h0M635 47h0M579 144h0M563 162h0M573 149h0M505 75h0M545 167h0M653 62h0M508 126h0M676 70h0M501 112h0M577 72h0M589 47h0M575 78h0M611 62h0M582 78h0M605 99h0M487 117h0M589 173h0M546 194h0M521 189h0M587 120h0M560 120h0M487 36h0M640 74h0M517 78h0M509 128h0M437 55h0M595 109h0M606 150h0M551 129h0M567 121h0M561 147h0M547 111h0M675 129h0M677 123h0M684 117h0M700 116h0"/><path stroke="#f07818" stroke-width="6.00" d="M490 214h0M529 192h0M507 64h0M539 102h0M483 126h0M555 112h0M547 30h0M562 161h0M481 118h0M463 57h0M501 125h0M480 202h0M607 102h0M496 48h0M519 81h0M545 98h0M452 55h0M506 53h0M528 134h0M559 25h0M468 157h0M524 70h0M632 82h0M543 51h0M568 176h0M538 46h0M541 198h0M599 134h0M500 102h0M520 32h0M514 71h0M486 42h0M532 141h0M499 73h0M488 214h0M533 50h0M472 104h0M642 47h0M514 182h0M515 190h0M569 161h0M591 109h0M512 177h0M470 176h0M614 44h0M503 79h0M517 160h0M647 54h0M551 136h0M497 139h0M466 45h0M497 212h0M492 133h0M505 180h0M680 53h0M567 45h0M625 97h0M511 126h0M634 63h0M476 189h0M507 34h0M490 203h0M525 64h0M526 133h0M626 61h0M534 99h0M486 142h0M524 142h0M495 123h0M488 196h0M435 34h0M647 71h0M591 108h0M489 173h0M598 147h0M643 69h0M523 116h0M647 138h0M686 126h0"/><path stroke="#e86c12" stroke-width="6.00" d="M444 54h0M636 55h0M469 158h0M533 37h0M553 149h0M642 57h0M546 140h0M555 36h0M536 113h0M463 22h0M450 50h0M583 59h0M460 134h0M497 210h0M466 184h0M580 71h0M507 137h0M469 56h0M584 32h0M464 51h0M567 182h0M597 165h0M634 86h0M572 180h0M485 140h0M483 188h0M584 51h0M491 84h0M483 45h0M503 92h0M478 113h0M455 64h0M661 69h0M563 111h0M470 141h0M585 55h0M556 160h0M568 187h0M492 196h0M649 69h0M465 158h0M598 157h0M668 53h0M501 208h0M501 210h0M450 36h0M493 137h0M532 189h0M518 90h0M568 156h0M508 58h0M652 50h0M501 212h0M625 68h0M669 122h0M669 122h0"/><path stroke="#dd5f0c" stroke-width="6.00" d="M451 60h0M553 143h0M623 69h0M457 40h0M641 80h0M563 88h0M560 53h0M475 158h0M567 184h0M626 42h0M544 106h0M510 147h0M654 69h0M490 141h0M557 31h0M600 102h0M498 196h0M492 147h0M599 153h0M501 122h0M530 136h0M448 39h0M497 58h0M539 39h0M547 84h0M442 64h0M561 78h0M505 43h0M456 45h0M617 90h0M456 64h0M612 72h0M511 23h0M683 125h0"/><path stroke="#d35406" stroke-width="6.00" d="M453 21h0M580 175h0M565 59h0M587 116h0M569 167h0M444 47h0M556 68h0M589 169h0M525 27h0M542 28h0M533 53h0M492 24h0M497 37h0M446 23h0M525 43h0M494 137h0M578 178h0M572 162h0M588 167h0M457 52h0"/><path stroke="#c84a02" stroke-width="6.00" d="M472 34h0M522 187h0M475 170h0M555 130h0M452 59h0M471 21h0M564 140h0M447 56h0M525 44h0"/><path stroke="#b84203" stroke-width="6.00" d="M474 111h0M583 81h0M570 146h0M526 88h0"/><path stroke="#a63a03" stroke-width="6.00" d="M580 83h0"/><path stroke="#fec857" stroke-width="6.00" d="M589 92h0M496 144h0M487 122h0"/><path stroke="#febb47" stroke-width="6.00" d="M507 149h0M509 101h0M543 150h0M515 185h0M594 42h0M565 192h0M522 149h0M581 150h0M580 133h0"/><path stroke="#feae3b" stroke-width="6.00" d="M544 140h0M625 83h0M517 74h0M508 161h0M554 130h0M582 134h0M529 170h0M493 34h0M619 101h0M511 159h0M595 67h0M496 65h0M482 203h0M498 154h0M475 124h0M590 147h0M518 75h0M538 191h0M540 99h0M484 22h0M581 106h0M533 113h0M608 107h0M487 136h0"/><path stroke="#fea030" stroke-width="6.00" d="M469 185h0M534 166h0M520 43h0M511 61h0M524 119h0M537 86h0M580 173h0M528 192h0M606 127h0M502 136h0M539 91h0M442 44h0M601 39h0M509 172h0M535 128h0M580 146h0M509 55h0M627 65h0M433 25h0M548 157h0M605 83h0M569 51h0M542 60h0M464 61h0M468 140h0M489 167h0M476 129h0M573 144h0M623 97h0M493 102h0M555 72h0M516 98h0M427 34h0M500 101h0M583 145h0M521 170h0M419 36h0M638 71h0M555 100h0M573 174h0M439 26h0M430 60h0M468 45h0M558 152h0M679 127h0"/><path stroke="#fb9225" stroke-width="6.00" d="M612 80h0M597 122h0M577 66h0M652 60h0M527 82h0M544 154h0M514 133h0M591 89h0M511 86h0M605 109h0M509 122h0M590 112h0M449 20h0M438 49h0M567 145h0M460 180h0M615 92h0M484 30h0M425 28h0M607 92h0M595 98h0M514 202h0M552 82h0M502 186h0M585 84h0M498 167h0M468 123h0M491 112h0M564 170h0M578 114h0M570 78h0M505 32h0M608 41h0M438 57h0M519 181h0M559 188h0M586 39h0M560 69h0M538 159h0M497 41h0M497 170h0M559 101h0M500 203h0M472 138h0M552 100h0M562 113h0M475 40h0M457 180h0M470 158h0M458 173h0M538 187h0M476 155h0M571 181h0M476 42h0M487 156h0M579 92h0M522 37h0M555 123h0M437 43h0M549 52h0M512 197h0M484 161h0M498 104h0M682 125h0M687 121h0"/><path stroke="#f5851f" stroke-width="6.00" d="M522 84h0M556 149h0M644 76h0M444 47h0M452 39h0M504 123h0M583 61h0M571 91h0M555 197h0M535 163h0M506 133h0M570 110h0M615 107h0M496 213h0M546 168h0M572 154h0M577 155h0M470 42h0M533 162h0M521 116h0M605 119h0M562 31h0M566 102h0M520 121h0M497 158h0M496 202h0M472 84h0M552 81h0M547 179h0M570 70h0M527 175h0M474 39h0M627 81h0M457 52h0M564 173h0M592 139h0M522 166h0M531 87h0M603 48h0M539 124h0M476 85h0M582 176h0M521 157h0M460 157h0M621 76h0M474 36h0M518 97h0M683 52h0M509 28h0M576 173h0M506 112h0M503 65h0M480 181h0M577 41h0M487 133h0M585 114h0M584 55h0M551 124h0M519 90h0M502 106h0M490 172h0M681 132h0M679 116h0M677 124h0"/><path stroke="#f07818" stroke-width="6.00" d="M474 193h0M568 38h0M549 55h0M671 70h0M575 55h0M549 73h0M507 72h0M494 132h0M493 189h0M547 142h0M598 156h0M500 32h0M507 28h0M489 121h0M480 192h0M550 175h0M629 80h0M671 61h0M540 129h0M512 53h0M496 138h0M522 147h0M493 92h0M593 38h0M573 147h0M593 72h0M593 167h0M584 40h0M487 127h0M461 49h0M469 49h0M608 71h0M533 121h0M509 176h0M591 91h0M514 119h0M594 105h0M522 128h0M580 70h0M550 25h0M619 88h0M531 51h0M543 152h0M532 174h0M540 61h0M427 56h0M665 63h0M579 65h0M513 137h0M618 52h0M632 87h0M543 50h0M609 48h0M591 144h0M510 140h0M455 20h0M506 44h0M590 114h0M539 109h0M463 29h0M475 189h0M587 78h0M538 119h0M547 54h0M540 41h0M567 103h0M543 65h0M582 150h0M654 66h0M460 24h0M486 126h0M542 152h0M523 48h0M628 98h0M607 42h0M481 133h0M589 81h0M591 174h0M504 159h0M532 77h0M646 55h0M542 48h0M565 158h0M582 152h0M457 32h0M485 113h0M513 177h0M600 122h0M616 45h0M643 69h0M620 43h0M538 111h0M599 41h0M521 196h0M526 85h0M552 77h0M686 125h0M679 121h0M677 122h0M701 115h0M682 121h0"/><path stroke="#e86c12" stroke-width="6.00" d="M522 31h0M537 77h0M631 64h0M586 62h0M570 39h0M584 49h0M500 41h0M498 120h0M542 76h0M502 59h0M554 149h0M521 70h0M512 155h0M577 25h0M541 170h0M547 30h0M488 46h0M508 57h0M572 152h0M595 47h0M524 171h0M502 132h0M541 163h0M478 188h0M547 150h0M626 77h0M496 48h0M493 89h0M468 127h0M580 57h0M638 65h0M529 186h0M508 34h0M636 81h0M552 46h0M468 99h0M586 128h0M481 112h0M514 82h0M538 65h0M625 63h0M450 63h0M541 78h0M479 121h0M435 35h0M541 53h0M600 130h0M606 76h0M504 195h0M615 74h0M470 26h0M679 58h0M617 112h0M533 110h0M523 54h0M519 196h0M531 31h0M528 60h0M481 68h0M503 209h0M597 57h0M529 197h0M532 146h0M525 78h0M501 79h0M689 122h0"/><path stroke="#dd5f0c" stroke-width="6.00" d="M610 50h0M632 42h0M559 153h0M573 49h0M547 46h0M503 104h0M587 38h0M494 30h0M605 115h0M510 96h0M448 50h0M494 48h0M530 133h0M579 41h0M495 138h0M572 37h0M501 40h0M480 127h0M455 177h0M575 53h0M472 172h0M544 72h0M590 160h0M496 213h0M539 85h0M700 114h0"/><path stroke="#d35406" stroke-width="6.00" d="M467 34h0M559 198h0M526 112h0M652 58h0M476 120h0M578 43h0M439 19h0M675 57h0M451 48h0M517 54h0M600 49h0M448 26h0M449 53h0M486 213h0M552 27h0"/><path stroke="#c84a02" stroke-width="6.00" d="M515 39h0M510 122h0M610 71h0M427 51h0"/><path stroke="#963304" stroke-width="6.00" d="M550 57h0"/><path stroke="#fec857" stroke-width="6.00" d="M426 41h0M536 121h0M598 71h0M562 117h0M589 123h0"/><path stroke="#febb47" stroke-width="6.00" d="M526 193h0M507 121h0M523 78h0M546 160h0M537 174h0"/><path stroke="#feae3b" stroke-width="6.00" d="M531 124h0M583 145h0M508 177h0M573 97h0M556 79h0M534 191h0M548 198h0M510 153h0M581 108h0M601 139h0M607 125h0M446 42h0M506 42h0M486 157h0M522 52h0M524 67h0M566 82h0M468 150h0M513 99h0M604 112h0M627 78h0M469 156h0M543 78h0M573 130h0M526 158h0M522 188h0M469 190h0M532 57h0M506 56h0M678 129h0"/><path stroke="#fea030" stroke-width="6.00" d="M557 96h0M509 194h0M509 38h0M494 118h0M546 95h0M612 61h0M523 132h0M533 108h0M566 189h0M424 34h0M550 123h0M468 160h0M554 195h0M594 71h0M555 132h0M549 104h0M509 64h0M463 178h0M559 112h0M588 70h0M578 50h0M534 178h0M520 198h0M590 87h0M507 127h0M460 131h0M588 157h0M582 113h0M514 86h0M469 126h0M443 49h0M507 138h0M574 86h0M563 194h0M556 124h0M533 144h0M477 88h0M564 110h0M503 163h0M573 77h0M558 35h0M564 155h0M592 89h0M484 144h0M474 95h0M518 151h0M467 155h0M513 202h0M544 110h0M572 129h0M473 55h0M600 112h0M626 59h0M525 171h0M685 126h0"/><path stroke="#fb9225" stroke-width="6.00" d="M599 99h0M604 156h0M614 60h0M544 42h0M528 187h0M604 111h0M578 126h0M533 112h0M480 53h0M502 195h0M508 129h0M648 82h0M482 112h0M469 26h0M493 38h0M483 123h0M485 48h0M423 28h0M634 76h0M532 176h0M562 132h0M557 85h0M489 93h0M498 181h0M583 152h0M427 32h0M501 137h0M662 63h0M554 145h0M533 26h0M587 173h0M593 70h0M565 109h0M520 126h0M504 187h0M485 71h0M549 158h0M482 67h0M512 192h0M565 114h0M511 142h0M446 53h0M584 134h0M521 147h0M554 29h0M554 168h0M514 60h0M597 68h0M581 109h0M594 105h0M539 28h0M541 67h0M505 135h0M435 33h0M571 128h0M541 133h0M563 110h0M555 80h0M484 26h0M508 121h0M511 119h0M425 28h0M583 49h0M448 26h0M524 61h0M488 44h0M614 46h0M549 88h0M566 196h0M506 156h0M544 154h0M597 134h0M592 93h0M570 118h0M483 150h0M570 48h0M480 43h0M583 97h0M581 131h0M684 116h0"/><path stroke="#f5851f" stroke-width="6.00" d="M513 42h0M525 176h0M491 101h0M521 75h0M582 35h0M470 190h0M545 182h0M499 135h0M510 59h0M556 33h0M531 96h0M489 151h0M551 58h0M468 124h0M500 151h0M467 87h0M608 106h0M554 167h0M587 38h0M561 84h0M541 76h0M493 116h0M569 164h0M633 45h0M518 75h0M574 166h0M545 68h0M518 86h0M506 52h0M580 104h0M508 151h0M433 51h0M465 129h0M516 186h0M490 153h0M474 107h0M462 179h0M569 178h0M658 74h0M537 197h0M522 166h0M541 79h0M666 70h0M611 100h0M585 93h0M476 81h0M551 163h0M570 129h0M544 103h0M490 35h0M578 172h0M556 58h0M592 67h0M573 193h0M500 134h0M560 149h0M570 133h0M549 83h0M541 73h0M516 122h0M473 35h0M455 124h0M578 176h0M480 163h0M608 152h0M486 213h0M540 71h0M545 31h0M551 99h0M620 66h0M610 122h0M587 83h0M505 108h0M466 28h0M671 69h0M562 63h0M458 27h0M585 149h0M583 97h0M596 141h0M654 71h0M627 94h0M510 58h0M579 164h0M572 99h0M598 164h0M468 187h0M526 197h0M500 55h0M526 103h0M438 30h0M683 119h0M682 116h0"/><path stroke="#f07818" stroke-width="6.00" d="M601 157h0M454 178h0M541 132h0M587 111h0M606 116h0M584 28h0M650 58h0M563 56h0M524 71h0M528 168h0M488 67h0M614 102h0M516 84h0M471 103h0M501 84h0M543 59h0M574 132h0M475 40h0M566 134h0M554 166h0M449 52h0M570 96h0M603 147h0M516 52h0M504 106h0M530 74h0M512 51h0M576 76h0M584 28h0M567 100h0M581 129h0M448 33h0M483 210h0M652 80h0M459 124h0M621 87h0M572 91h0M596 81h0M601 161h0M648 79h0M547 65h0M636 79h0M493 40h0M500 195h0M561 34h0M538 178h0M599 115h0M590 50h0M539 45h0M522 178h0M632 41h0M498 74h0M477 171h0M441 29h0M462 160h0M531 129h0M535 88h0M514 147h0M442 29h0M639 60h0M513 44h0M492 71h0M483 142h0M583 140h0M484 213h0M612 58h0M573 135h0M487 34h0M544 168h0M633 58h0M564 174h0M567 153h0M703 116h0"/><path stroke="#e86c12" stroke-width="6.00" d="M485 204h0M572 78h0M490 113h0M665 57h0M573 41h0M549 188h0M561 173h0M484 178h0M608 58h0M614 94h0M595 77h0M546 103h0M545 94h0M573 64h0M653 51h0M597 156h0M599 58h0M571 145h0M459 43h0M580 79h0M537 146h0M514 75h0M514 57h0M535 196h0M664 71h0M604 78h0M549 131h0M501 205h0M517 70h0M489 36h0M489 208h0M457 44h0M462 134h0M590 138h0M675 58h0M549 63h0M630 54h0M583 167h0M617 96h0M532 46h0M488 64h0M547 33h0M489 51h0M554 96h0M599 72h0M596 155h0M597 101h0M472 52h0M465 141h0M589 137h0M480 206h0M563 70h0M496 69h0M683 118h0"/><path stroke="#dd5f0c" stroke-width="6.00" d="M474 190h0M446 52h0M470 92h0M603 51h0M530 158h0M624 67h0M588 177h0M485 33h0M639 69h0M668 57h0M529 151h0M594 55h0M465 32h0M458 40h0M572 39h0M522 43h0M514 100h0M519 58h0M513 47h0M479 178h0M630 94h0M483 134h0M577 135h0M496 109h0M442 27h0M569 42h0M470 175h0M501 191h0M461 24h0M560 65h0M505 188h0M517 199h0M628 79h0"/><path stroke="#d35406" stroke-width="6.00" d="M516 179h0M488 36h0M449 45h0M620 104h0M570 90h0M457 32h0M496 150h0M543 62h0M555 51h0M650 53h0M451 24h0M449 48h0M518 90h0M493 211h0M517 41h0M484 40h0M655 77h0"/><path stroke="#c84a02" stroke-width="6.00" d="M520 69h0M658 66h0M471 145h0M471 60h0M472 110h0M541 64h0M577 135h0"/><path stroke="#b84203" stroke-width="6.00" d="M521 45h0"/><path stroke="#a63a03" stroke-width="6.00" d="M512 33h0M628 87h0"/><path stroke="#963304" stroke-width="6.00" d="M600 141h0M466 144h0"/><path stroke="#fec857" stroke-width="6.00" d="M507 104h0M529 167h0M480 145h0"/><path stroke="#febb47" stroke-width="6.00" d="M603 108h0M592 75h0M497 175h0M485 27h0M536 118h0M574 130h0M481 166h0M499 122h0M570 171h0M583 55h0M467 134h0M471 111h0"/><path stroke="#feae3b" stroke-width="6.00" d="M573 150h0M512 150h0M620 85h0M487 60h0M573 97h0M543 126h0M554 81h0M527 109h0M640 54h0M501 203h0M524 183h0M518 127h0M486 131h0M491 102h0M604 125h0M511 144h0M504 107h0M527 190h0M564 114h0M558 47h0M498 92h0M582 84h0M587 97h0M478 40h0M577 71h0M546 134h0M604 79h0M496 38h0M516 137h0"/><path stroke="#fea030" stroke-width="6.00" d="M562 122h0M527 101h0M436 46h0M554 86h0M548 111h0M590 133h0M510 23h0M535 134h0M624 49h0M527 76h0M488 148h0M502 58h0M510 155h0M477 122h0M508 76h0M602 59h0M616 59h0M496 40h0M571 107h0M483 103h0M568 83h0M557 50h0M574 85h0M594 116h0M532 102h0M598 140h0M616 91h0M514 177h0M428 53h0M492 56h0M608 134h0M599 175h0M571 144h0M442 37h0M487 99h0M543 132h0M520 175h0M607 88h0M559 92h0M524 72h0M476 127h0M660 78h0M547 86h0M531 140h0M598 175h0M449 15h0M505 126h0M512 102h0M583 89h0M489 204h0M506 141h0M679 63h0M567 76h0M525 107h0M459 173h0M482 129h0M680 129h0"/><path stroke="#fb9225" stroke-width="6.00" d="M531 160h0M503 92h0M597 136h0M544 47h0M609 77h0M605 102h0M595 107h0M454 44h0M531 185h0M551 27h0M501 184h0M446 26h0M484 31h0M551 142h0M561 169h0M544 91h0M560 66h0M491 185h0M471 153h0M606 111h0M493 188h0M567 66h0M465 134h0M499 121h0M493 193h0M542 29h0M626 93h0M491 211h0M584 127h0M591 78h0M495 192h0M547 112h0M536 116h0M478 120h0M457 55h0M542 156h0M573 47h0M570 195h0M447 37h0M474 112h0M433 35h0M585 167h0M539 67h0M570 35h0M483 38h0M553 54h0M524 192h0M474 55h0M555 188h0M514 143h0M484 157h0M553 115h0M585 82h0M577 129h0M513 96h0M548 192h0M528 196h0M519 188h0M504 108h0M601 131h0M540 103h0M492 187h0M580 117h0M636 65h0M576 98h0M535 43h0M498 173h0M470 98h0M554 181h0M483 144h0M543 118h0M495 149h0M498 69h0M554 149h0"/><path stroke="#f5851f" stroke-width="6.00" d="M467 133h0M637 54h0M465 186h0M513 176h0M504 175h0M607 119h0M527 29h0M515 131h0M507 132h0M488 64h0M490 188h0M664 51h0M478 133h0M536 84h0M606 137h0M514 187h0M556 193h0M458 46h0M527 127h0M611 63h0M589 98h0M503 78h0M570 172h0M647 55h0M532 84h0M463 134h0M480 84h0M602 41h0M625 64h0M505 85h0M585 165h0M543 145h0M586 170h0M604 117h0M479 128h0M648 75h0M508 100h0M594 117h0M652 52h0M509 26h0M476 190h0M542 57h0M675 53h0M576 145h0M488 153h0M602 129h0M482 114h0M552 112h0M513 46h0M467 50h0M526 123h0M474 138h0M571 32h0M548 126h0M486 74h0M623 66h0M652 63h0M531 166h0M565 174h0M555 62h0M628 92h0M591 174h0M483 130h0M478 179h0M481 83h0M617 60h0M573 168h0M581 165h0M537 81h0M515 76h0M602 64h0M573 108h0M523 120h0M512 144h0M536 136h0M578 38h0M533 87h0M630 93h0M444 29h0M484 136h0M625 46h0M572 66h0M527 32h0M626 86h0M551 160h0M537 73h0M507 185h0M512 89h0M481 37h0"/><path stroke="#f07818" stroke-width="6.00" d="M490 172h0M493 193h0M529 68h0M515 63h0M489 103h0M530 167h0M548 42h0M581 67h0M474 54h0M548 50h0M478 95h0M495 194h0M471 125h0M535 79h0M614 146h0M494 134h0M591 34h0M522 56h0M474 66h0M508 123h0M548 144h0M557 105h0M638 55h0M592 166h0M439 47h0M567 100h0M607 61h0M635 86h0M506 207h0M476 103h0M486 119h0M508 169h0M571 92h0M521 146h0M536 31h0M553 48h0M579 80h0M485 207h0M491 121h0M522 76h0M588 131h0M496 50h0M492 198h0M595 155h0M655 74h0M564 74h0M470 161h0M445 28h0M525 182h0M544 132h0M496 185h0M482 151h0M583 134h0M503 85h0M670 71h0M452 54h0M521 85h0M458 188h0M565 141h0M442 43h0M583 157h0M492 136h0M518 46h0M565 48h0M562 63h0M592 69h0M603 71h0M585 160h0M518 84h0M449 24h0M472 186h0M477 163h0M507 58h0M563 113h0M550 97h0M517 83h0M624 62h0M469 182h0M652 58h0M513 57h0M567 186h0M689 124h0"/><path stroke="#e86c12" stroke-width="6.00" d="M530 136h0M490 46h0M502 205h0M679 60h0M455 48h0M484 135h0M533 52h0M552 192h0M526 189h0M524 154h0M497 52h0M512 126h0M446 61h0M491 74h0M465 172h0M499 33h0M538 178h0M582 76h0M527 57h0M486 42h0M487 100h0M498 124h0M541 43h0M546 112h0M518 64h0M551 187h0M499 171h0M485 166h0M496 86h0M483 119h0M519 165h0M452 61h0M512 30h0M589 80h0M500 149h0M589 52h0M527 29h0M503 192h0M550 148h0M554 55h0M668 61h0M488 94h0M550 129h0M585 32h0M485 37h0M668 57h0M545 120h0M643 81h0M431 33h0M579 44h0M554 36h0M633 75h0M533 82h0M448 51h0M621 57h0M589 171h0M533 166h0M485 83h0M547 73h0M530 187h0M500 37h0M583 63h0M658 70h0M549 222h0"/><path stroke="#dd5f0c" stroke-width="6.00" d="M549 52h0M525 57h0M481 65h0M518 173h0M594 43h0M525 185h0M579 184h0M674 54h0M546 54h0M528 139h0M572 121h0M456 179h0M524 36h0M508 186h0M451 58h0M597 67h0M459 43h0M560 97h0M500 162h0M462 151h0M543 30h0M615 91h0M556 41h0M580 36h0M489 33h0M489 33h0M502 157h0M445 51h0M607 48h0M595 161h0M681 118h0"/><path stroke="#d35406" stroke-width="6.00" d="M537 68h0M524 155h0M614 103h0M472 131h0M570 47h0M466 179h0M526 79h0M478 178h0M543 76h0M536 26h0M558 34h0"/><path stroke="#c84a02" stroke-width="6.00" d="M627 97h0M555 49h0M464 52h0M569 118h0M481 176h0M612 103h0M643 68h0M654 65h0"/><path stroke="#b84203" stroke-width="6.00" d="M502 138h0M653 71h0M523 29h0M478 198h0"/><path stroke="#fff" stroke-width="2.00" d="M489 196h0M547 155h0M538 190h0M636 63h0M489 206h0M487 161h0M512 32h0M503 96h0M475 26h0M516 32h0M530 163h0M505 200h0M646 49h0M489 178h0M512 159h0M567 186h0M531 194h0M520 178h0M488 115h0M533 134h0M653 72h0M495 202h0M567 116h0M610 128h0M458 33h0M545 114h0M519 50h0M519 183h0M439 45h0M531 179h0M487 213h0M604 101h0M647 60h0M507 25h0M596 170h0M462 50h0M586 93h0M514 83h0M485 89h0M685 51h0M594 117h0M535 106h0M483 40h0M534 157h0M554 152h0M665 67h0M537 61h0M487 32h0M598 62h0M617 73h0M572 73h0M497 164h0M532 122h0M554 60h0M469 163h0M423 25h0M480 156h0M455 180h0M541 105h0M616 115h0M540 109h0M560 107h0M600 99h0M502 206h0M470 27h0M610 134h0M612 146h0M552 148h0M496 107h0M592 52h0M549 43h0M608 54h0M637 55h0M519 140h0M565 100h0M504 198h0M461 46h0M495 185h0M523 123h0M447 46h0M612 92h0M605 153h0M462 125h0M482 209h0M539 153h0M599 37h0M591 149h0M640 73h0M517 77h0M496 19h0M612 39h0M539 162h0M581 137h0M475 59h0M532 23h0M500 173h0M482 209h0M422 31h0M593 114h0M555 78h0M482 52h0M476 49h0M535 147h0M506 30h0M637 38h0M627 53h0M466 160h0M519 27h0M501 183h0M543 32h0M485 81h0M469 100h0M473 178h0M535 51h0M540 122h0M468 154h0M504 130h0M538 22h0M490 17h0M473 176h0M575 161h0M543 201h0M510 109h0M639 62h0M509 105h0M605 77h0M459 152h0M552 86h0M594 159h0M527 187h0M569 115h0M676 62h0M427 37h0M551 49h0M585 130h0M516 58h0M488 28h0M499 150h0M559 200h0M529 40h0M650 55h0M575 181h0M570 175h0M476 194h0M666 70h0M526 48h0M548 167h0M563 158h0M553 191h0M497 187h0"/><path stroke="#fff" stroke-width="2.80" d="M545 60h0M629 78h0M460 43h0M572 148h0M483 51h0M532 167h0M617 146h0M490 194h0M570 39h0M673 70h0M576 47h0M465 157h0M547 79h0M627 87h0M492 188h0M555 51h0M526 135h0M524 122h0M593 164h0M551 137h0M603 132h0M558 166h0M554 94h0M429 23h0M556 178h0M555 134h0M551 58h0M473 167h0M585 143h0M501 121h0M487 120h0M582 146h0M608 85h0M600 109h0M684 47h0M456 58h0M641 57h0M657 82h0M560 37h0M586 125h0M534 143h0M593 68h0M618 49h0M525 158h0M510 161h0M532 170h0M612 94h0M542 103h0M521 192h0M493 175h0M685 47h0M472 50h0M582 133h0M486 37h0M570 146h0M584 79h0M616 81h0M470 63h0M555 156h0M508 148h0M498 194h0M465 51h0M430 35h0M553 189h0M508 105h0M552 188h0M566 47h0M488 92h0M598 163h0M602 77h0M492 107h0M499 36h0M573 192h0M478 130h0M548 121h0M433 53h0M576 184h0M470 92h0M560 41h0M550 117h0M556 127h0M590 142h0M549 142h0M624 71h0M489 57h0M488 103h0M541 137h0M503 138h0M605 163h0M638 42h0M559 125h0M534 41h0M520 40h0M570 66h0M561 155h0M493 78h0M672 61h0M514 55h0M588 98h0M524 124h0M573 175h0M559 152h0M614 43h0M558 171h0M600 60h0M552 147h0M526 52h0M594 38h0M501 90h0M589 46h0M465 62h0M547 57h0M444 34h0M503 175h0M591 42h0M594 115h0M504 33h0M535 125h0M526 74h0M612 85h0M574 140h0M468 136h0M490 216h0M529 195h0M634 84h0M555 126h0M542 156h0M441 48h0M542 185h0M459 181h0M529 115h0M502 19h0M463 162h0M523 93h0M464 117h0M492 220h0M479 174h0M506 184h0M572 145h0M513 118h0M567 139h0M666 71h0M548 164h0M630 55h0M671 50h0M550 136h0M617 76h0M569 28h0M441 58h0M661 68h0"/><path stroke="#fff" stroke-width="3.60" d="M571 76h0M491 43h0M518 53h0M513 145h0M590 40h0M599 67h0M517 196h0M516 167h0M646 51h0M601 59h0M566 74h0M433 32h0M548 31h0M512 136h0M608 83h0M553 95h0M579 164h0M486 159h0M460 131h0M482 207h0M541 108h0M486 174h0M529 122h0M513 107h0M601 80h0M424 33h0M527 142h0M627 57h0M605 143h0M552 111h0M533 36h0M464 30h0M487 159h0M499 172h0M456 152h0M613 51h0M540 32h0M471 137h0M471 38h0M483 155h0M593 160h0M571 106h0M538 184h0M569 131h0M523 104h0M555 60h0M529 160h0M536 24h0M510 164h0M642 45h0M458 190h0M469 130h0M507 167h0M470 189h0M521 127h0M489 202h0M531 121h0M550 96h0M577 78h0M509 94h0M609 119h0M417 30h0M580 171h0M550 144h0M585 95h0M422 59h0M529 113h0M586 132h0M501 32h0M587 74h0M541 165h0M441 35h0M630 65h0M601 98h0M544 101h0M509 209h0M572 107h0M575 55h0M602 64h0M487 154h0M632 65h0M472 149h0M567 35h0M462 39h0M522 121h0M644 55h0M575 38h0M547 85h0M510 149h0M505 85h0M505 158h0M568 199h0M564 63h0M503 172h0M506 110h0M580 174h0M476 70h0M464 122h0M520 91h0M559 152h0M490 200h0M596 142h0M525 191h0M490 101h0M528 94h0M516 164h0M454 60h0M636 70h0M611 79h0M498 35h0M608 119h0M444 19h0M472 164h0M468 189h0M611 125h0M581 57h0M560 179h0M589 104h0M488 67h0M639 62h0M483 19h0M541 113h0M491 55h0M626 64h0M502 184h0M535 154h0M539 135h0M504 200h0M502 132h0M533 118h0M640 76h0M541 201h0M542 180h0M559 27h0M471 56h0M497 96h0M531 29h0M577 72h0M487 73h0M504 136h0M539 182h0M508 102h0M512 169h0M503 89h0M493 69h0M597 92h0M462 18h0M576 184h0M573 190h0M485 77h0"/><path stroke="none" marker-start="url(#ra)" marker-mid="url(#ra)" marker-end="url(#ra)" d="M514 160L522 88L536 199L541 38L524 115L492 131L509 86L517 183L680 48L582 34L549 168L586 150L588 143L493 47L468 160L418 33L484 179L462 27L585 111L531 176L479 88L520 70L652 66L490 63L589 132L664 73L481 19L555 160L549 116L528 30L504 138L553 94L482 183L616 60L520 175L577 46L615 71L661 61L640 88L491 35L455 53L502 202L482 24L568 72L549 82L524 111L592 73L479 118L485 97L434 49L414 30L495 149L640 86L544 165L602 127L619 62L574 88L597 65L462 165L518 166L541 44L624 95L494 145L496 138L663 65L631 67L517 126L511 59L589 84L439 25L633 61L563 84L556 173L518 40L554 147L591 76L542 176L625 54L532 158L643 62L594 74L527 140L651 56L671 50L507 59L492 168L601 172L591 176L566 67L523 35L539 167L453 120L584 84L511 200L594 55L482 117L467 104L542 179L505 190L502 210L569 69L581 119L514 116L502 152L563 147L548 26L624 55L507 138L514 125L452 32L666 59L447 63L549 152L607 39L483 104L506 86L489 148L510 194L499 67L497 41L575 169L522 93L603 107L554 24L551 112L480 153L593 168L426 27L510 144L517 158L603 43L524 60L487 108L424 46L546 80L535 182L602 102L562 100L517 171L558 185L516 104L507 54L569 89L563 23L661 60L538 106L587 163L418 40L536 96L485 57L537 80L483 85L503 202L467 62L554 183L497 206L466 188L505 91L637 55L501 35L498 33L486 148L594 99L517 159L477 43L455 24L526 75L485 75L549 100L525 105L631 57L505 37L482 31L571 99L484 131L587 84L564 104L562 176L574 91L538 178L470 60L521 188L458 157L588 32L495 220L457 121L490 38L534 75L594 44L634 44L622 43L552 60L481 114L488 191L623 98L511 31L568 145L494 23L519 119L635 67L465 128L603 44L461 123L481 118L563 169L618 63L426 34L566 81L573 54L484 57L543 119L492 128L542 163L599 111L569 122L511 132L461 35L603 44L506 44L433 38L509 143L616 142L462 52L639 51L480 86L580 47L430 41L558 148L444 25L632 77L468 65L539 93L620 106L443 36L488 123L504 165L649 62L606 102L596 94L556 181L509 131L576 87L657 50L484 116L684 63L540 156L605 136L666 48L557 194L541 140L503 80L473 118L519 74L501 212L483 176L551 141L512 73L683 56L482 156L523 79L504 188L461 53L481 65L659 60L505 136L539 59L592 160L418 38L509 41L419 34L472 180L505 162L605 144L509 96L507 77L455 187L472 33L598 174L478 123L578 28L596 67L534 173L477 86L602 165L507 134L487 123L551 27L502 67L496 118L583 158L434 26L518 26L610 152L657 71L500 159L609 137L550 145L479 134L492 105L521 113L582 157L475 122L480 144L612 148L540 130L544 173L527 108L500 121L639 85L566 189L477 159L611 60L507 41L499 35L465 49L458 127L496 127L481 182L482 113L481 184L512 43L557 126L518 34L613 151L603 110"/><path stroke="none" marker-start="url(#rb)" marker-mid="url(#rb)" marker-end="url(#rb)" d="M521 37L602 68L649 48L546 57L604 67L511 79L480 170L574 151L685 60L504 122L556 144L597 174L622 91L486 129L599 173L543 143L497 129L501 99L589 72L442 53L606 138L579 30L510 192L537 20L491 90L482 63L418 32L490 153L494 131L631 66L551 73L543 32L567 54L570 170L547 78L464 182L586 92L566 41L510 199L477 152L574 72L553 27L454 17L482 74L510 59L610 128L502 54L567 87L493 196L478 39L554 22L606 89L575 173L575 164L542 192L484 22L488 175L495 82L678 70L572 184L602 52L456 127L466 164L579 126L526 37L462 39L474 99L515 111L447 61L477 136L587 107L477 100L541 87L559 150L555 144L474 67L586 29L458 61L528 28L428 49L609 80L542 150L507 128L583 121L514 36L531 135L571 148L481 201L608 54L422 34L478 61L507 113L553 55L535 197L475 36L447 51L562 55L536 56L426 34L438 62L563 163L616 103L581 39L664 72L627 97L591 87L527 113L545 141L485 178L462 40L547 141L596 100L497 101L540 128L524 172L564 190L487 113L477 45L570 37L541 177L602 85L509 125L465 116L685 58L520 78L517 111L607 77L543 180L499 154L518 79L532 94L592 173L545 118L564 200L609 56L605 125L542 85L455 47L481 205L497 22L522 72L495 155L447 19L497 86L536 194L512 32L492 212L458 48L646 72L681 61L472 134L507 37L593 167L589 42L587 70L589 174L534 96L669 66L571 149L524 131L527 74L683 65L514 65L549 55L426 47L555 157L535 65L603 100L458 167L507 166L526 80L519 172L514 131L493 27L545 94L542 81L522 180L444 22L560 191L538 164L669 73L563 62L508 170L518 35L484 137L490 195L564 186L507 163L549 145L627 75L497 104L615 57L459 160L458 129L553 61L524 126L557 195L507 194L494 217L545 38L493 50L591 146L587 155L486 100L534 75L466 152L573 128L526 171L592 69L534 158L583 150L595 124L488 26L518 108L496 139L534 167L518 170L594 126L566 106L517 106L542 138L564 114L502 120L530 183L487 214L453 186L606 80L469 118L517 124L423 49L487 156L465 185L497 180L520 181L518 108L536 63L625 73L464 41L496 141L494 70L561 108L464 185L630 52L599 120L537 190L579 143L458 23L559 172L494 182L484 94L481 192L591 168L422 49L489 43L573 138L570 113L533 179L442 30L528 124L492 193L611 105L549 89L556 111L547 86L467 52L502 181L583 139L571 87L516 197L633 59L538 134L528 173L511 96L591 146L532 131L508 187L624 45L606 119L535 155L514 189L555 198L420 39L603 42L619 82L601 169L518 95L527 30L481 79L584 91L485 61L535 22L576 79L504 213L636 46L529 127L493 155L574 116L498 92L594 143L612 85L427 37L587 71L484 141L472 98L508 98L601 130L597 77L505 113L566 147L426 51L547 89L540 169L550 70L488 175L506 98L515 82L660 81L579 177L490 106L571 85L614 62L443 27L564 35L471 138L545 100"/></g>
<path d="M231.6 10.1L232.0 14.6L233.6 18.5L232.0 21.2L233.6 23.8L232.0 27.8L233.1 31.2M232.5 16.5L237.4 17.2L242.8 17.2L248.2 16.5L253.6 15.2L256.8 13.9L259.0 11.9M256.8 13.9L260.1 17.2L264.4 19.2L267.6 19.2L269.8 17.2L273.0 15.9L273.6 12.6M273.0 15.9L275.2 18.5L276.3 22.5L280.6 23.8L283.8 22.5L286.0 20.5L284.9 17.2L288.2 14.6L288.7 12.8M275.2 21.8L274.1 25.1L276.3 29.1L280.6 30.4L284.9 31.1L287.6 30.4L289.2 27.8L286.0 24.5M299.5 17.9L296.8 21.2L295.7 25.1L292.5 29.1L289.2 31.1M289.2 31.1L287.1 35.7L284.9 39.6L287.1 43.6L290.3 48.9L290.3 54.2L293.6 56.8M315.2 19.2L314.6 23.8L311.9 30.4L311.4 35.7L309.8 39.6L311.4 44.9L309.8 48.9M309.8 48.9L305.4 47.6L301.1 50.2L299.0 55.5L293.6 56.8M309.8 48.9L313.0 49.9M234.2 52.2L240.6 52.8L248.2 54.2L253.6 54.2L259.0 52.8M259.0 52.8L262.2 48.9L265.5 45.6L269.8 41.6L273.0 42.3L274.7 46.2L274.1 51.5L275.2 55.5L269.8 56.8L263.3 56.1L259.0 52.8M269.8 41.6L275.2 40.3L280.6 39.6L284.9 39.6M253.6 54.2L250.4 59.4L253.6 64.7L250.4 70.0L253.6 74.0M253.6 74.0L248.2 77.9L242.8 81.9L237.4 83.2L232.0 82.5M253.6 74.0L259.0 76.6L264.4 78.6L269.8 77.9L275.2 77.3L280.6 79.2L282.8 81.9M282.8 81.9L287.1 77.9L291.4 75.3L295.7 76.6M282.8 81.9L286.0 85.8L288.2 89.8L290.1 91.4M295.7 76.6L296.8 80.6L299.0 84.5L300.0 85.2M295.7 76.6L296.8 71.3L293.6 66.0L291.4 62.1L294.6 58.1L293.6 56.8M288.4 12.3L286.2 13.0L283.8 13.1L281.5 13.0L277.9 11.3L274.7 12.6L272.8 12.1L270.3 11.3L266.7 10.7L261.3 12.1L256.3 11.7L253.0 11.0L246.5 9.9L244.4 8.5L243.6 9.4L241.2 9.7L237.0 9.9L231.6 10.1L229.2 9.7L228.1 8.5L224.5 6.8L222.6 7.0L220.7 8.5L217.7 9.7L218.5 11.0L216.9 12.2L212.5 12.8L210.5 14.3L208.1 15.1L208.0 15.9L207.2 16.5L207.5 18.8L208.3 18.0L209.1 19.6L209.8 20.2L209.5 22.7L210.5 23.1L212.9 22.5L211.8 23.9L212.5 25.1L214.2 24.7L211.8 27.1L213.4 27.2L212.0 28.8L211.8 32.1L214.2 30.1L216.3 29.3L219.4 28.4L220.3 29.7L219.0 31.7L222.3 32.2L225.5 32.6L227.5 32.5L230.4 30.5L233.1 31.2L236.5 30.9L236.9 34.8L239.7 35.9L240.7 35.9L238.7 38.6L235.8 40.4L234.2 42.9L232.8 43.3L234.2 45.6L234.2 50.2L233.6 53.2L232.5 55.2L231.8 57.1L233.3 58.5L231.8 61.2L228.4 61.6L226.3 61.3L228.8 64.1L229.5 66.3L231.5 68.7L232.5 70.7L231.5 71.7L229.8 73.3L228.8 77.3L230.9 80.8L232.8 80.4L232.0 82.9L229.3 83.5L226.6 89.1L227.1 91.1L227.7 94.0L228.5 93.9L232.5 93.8L234.2 94.7L236.9 96.4L238.9 99.2L238.2 99.8L238.9 101.4L239.6 102.6L241.0 104.6L242.5 107.2L243.7 107.1L247.0 109.5L248.7 107.9L249.8 108.0L252.0 104.1L254.9 102.9L257.7 102.5L259.9 100.2L265.7 99.7L269.6 100.1L275.0 99.8L279.4 99.6L281.0 98.6L283.9 100.1L287.1 96.5L287.9 94.0L290.5 91.1L294.0 89.0L297.0 88.7L300.1 88.1L299.8 85.8L300.3 83.5L302.0 80.7L302.4 78.7L305.1 76.6L306.2 76.2L308.1 74.8L310.1 73.6L308.7 72.1L306.0 70.4L305.1 67.9L304.1 64.1L305.2 61.3L307.4 57.2L309.1 55.6L312.0 52.0L312.8 50.6L317.0 47.3L315.7 46.2L316.2 45.2L320.1 42.7L321.1 42.1L327.1 40.6L331.1 38.6L334.1 36.5L337.8 34.8L341.4 32.4L342.4 31.1L341.4 28.8L341.9 27.0L343.5 26.2L341.8 24.7L339.5 24.3L336.4 25.9L334.4 25.9L332.4 24.9L329.2 25.5L328.7 24.5L326.3 23.8L323.3 24.5L318.4 20.0L314.8 19.3L310.8 21.2L307.6 21.3L304.3 19.3L301.7 20.0L299.5 17.9L296.8 17.2L293.6 16.3L291.9 13.6L290.3 13.9ZM333.0 62.3L334.8 63.9L337.0 62.7L337.3 65.1L340.5 66.4L342.7 65.0L345.2 60.5L342.2 59.2L342.3 57.3L340.5 58.1L337.6 58.9L333.5 61.7ZM348.9 56.8L349.2 57.7L351.9 59.0L354.3 58.5L353.5 57.1L350.3 55.9ZM320.9 70.7L321.9 71.8L323.3 71.6L324.4 69.7L323.3 68.8L321.9 69.9ZM322.7 73.7L324.7 74.4L323.8 74.8L322.5 74.2Z" fill="none" stroke="#6f6b52" stroke-width="0.45" stroke-linejoin="round" opacity="0.65"/>
<rect x="206.3" y="4.5" width="152.0" height="108.0" fill="none" stroke="#8f8f8f" stroke-width="1"/>
<line x1="204.3" y1="4.0" x2="206.3" y2="4.0" stroke="#555" stroke-width="0.7"/>
<text x="203.5" y="6.6" class="t" text-anchor="end">44N</text>
<line x1="204.3" y1="30.4" x2="206.3" y2="30.4" stroke="#555" stroke-width="0.7"/>
<text x="203.5" y="33.0" class="t" text-anchor="end">42N</text>
<line x1="204.3" y1="56.8" x2="206.3" y2="56.8" stroke="#555" stroke-width="0.7"/>
<text x="203.5" y="59.4" class="t" text-anchor="end">40N</text>
<line x1="204.3" y1="83.2" x2="206.3" y2="83.2" stroke="#555" stroke-width="0.7"/>
<text x="203.5" y="85.8" class="t" text-anchor="end">38N</text>
<line x1="204.3" y1="109.6" x2="206.3" y2="109.6" stroke="#555" stroke-width="0.7"/>
<text x="203.5" y="112.2" class="t" text-anchor="end">36N</text>
<line x1="221.2" y1="112.5" x2="221.2" y2="114.5" stroke="#555" stroke-width="0.7"/>
<text x="221.2" y="121.9" class="t" text-anchor="middle">8W</text>
<line x1="242.8" y1="112.5" x2="242.8" y2="114.5" stroke="#555" stroke-width="0.7"/>
<text x="242.8" y="121.9" class="t" text-anchor="middle">6W</text>
<line x1="264.4" y1="112.5" x2="264.4" y2="114.5" stroke="#555" stroke-width="0.7"/>
<text x="264.4" y="121.9" class="t" text-anchor="middle">4W</text>
<line x1="286.0" y1="112.5" x2="286.0" y2="114.5" stroke="#555" stroke-width="0.7"/>
<text x="286.0" y="121.9" class="t" text-anchor="middle">2W</text>
<line x1="307.6" y1="112.5" x2="307.6" y2="114.5" stroke="#555" stroke-width="0.7"/>
<text x="307.6" y="121.9" class="t" text-anchor="middle">0</text>
<line x1="329.2" y1="112.5" x2="329.2" y2="114.5" stroke="#555" stroke-width="0.7"/>
<text x="329.2" y="121.9" class="t" text-anchor="middle">2E</text>
<line x1="350.8" y1="112.5" x2="350.8" y2="114.5" stroke="#555" stroke-width="0.7"/>
<text x="350.8" y="121.9" class="t" text-anchor="middle">4E</text>
<defs><linearGradient id="g1" x1="0" x2="1" y1="0" y2="0"><stop offset="0.000" stop-color="#ffffe5"/><stop offset="0.050" stop-color="#fffcd7"/><stop offset="0.100" stop-color="#fff9c7"/><stop offset="0.150" stop-color="#fff5b8"/><stop offset="0.200" stop-color="#ffeea8"/><stop offset="0.250" stop-color="#fee697"/><stop offset="0.300" stop-color="#fedc82"/><stop offset="0.350" stop-color="#fed069"/><stop offset="0.400" stop-color="#fec550"/><stop offset="0.450" stop-color="#feb541"/><stop offset="0.500" stop-color="#fea433"/><stop offset="0.550" stop-color="#fd9627"/><stop offset="0.600" stop-color="#f6861f"/><stop offset="0.650" stop-color="#ef7718"/><stop offset="0.700" stop-color="#e56910"/><stop offset="0.750" stop-color="#d95b09"/><stop offset="0.800" stop-color="#cd4d03"/><stop offset="0.850" stop-color="#bb4403"/><stop offset="0.900" stop-color="#a83b03"/><stop offset="0.950" stop-color="#943304"/><stop offset="1.000" stop-color="#812d05"/></linearGradient></defs>
<rect x="212.7" y="126.5" width="139.4" height="3.9" fill="url(#g1)"/>
<path d="M213.0 126.5 L205.6 128.4 L213.0 130.4 Z" fill="#fffddc"/>
<path d="M351.8 126.5 L359.1 128.4 L351.8 130.4 Z" fill="#712806"/>
<path d="M212.7 126.5L205.6 128.4L212.7 130.4L352.1 130.4L359.1 128.4L352.1 126.5Z" fill="none" stroke="#3a3a3a" stroke-width="0.55"/>
<line x1="212.7" y1="130.4" x2="212.7" y2="132.0" stroke="#444" stroke-width="0.6"/>
<text x="212.7" y="139.3" class="t" text-anchor="middle">15</text>
<line x1="240.6" y1="130.4" x2="240.6" y2="132.0" stroke="#444" stroke-width="0.6"/>
<text x="240.6" y="139.3" class="t" text-anchor="middle">30</text>
<line x1="268.5" y1="130.4" x2="268.5" y2="132.0" stroke="#444" stroke-width="0.6"/>
<text x="268.5" y="139.3" class="t" text-anchor="middle">45</text>
<line x1="296.3" y1="130.4" x2="296.3" y2="132.0" stroke="#444" stroke-width="0.6"/>
<text x="296.3" y="139.3" class="t" text-anchor="middle">60</text>
<line x1="324.2" y1="130.4" x2="324.2" y2="132.0" stroke="#444" stroke-width="0.6"/>
<text x="324.2" y="139.3" class="t" text-anchor="middle">75</text>
<line x1="352.1" y1="130.4" x2="352.1" y2="132.0" stroke="#444" stroke-width="0.6"/>
<text x="352.1" y="139.3" class="t" text-anchor="middle">90</text>
<text x="282.2" y="150.4" class="t2" text-anchor="middle">Overestimation rate [%]</text>
<g fill="none" stroke-linecap="round" transform="scale(0.5)"><path stroke="#fffacb" stroke-width="6.00" d="M981 57h0"/><path stroke="#fff7be" stroke-width="6.00" d="M901 152h0"/><path stroke="#fff2b1" stroke-width="6.00" d="M972 87h0M921 110h0M950 134h0"/><path stroke="#feeba2" stroke-width="6.00" d="M888 65h0M873 30h0M880 38h0M932 86h0M894 106h0"/><path stroke="#fee595" stroke-width="6.00" d="M973 79h0M901 50h0M875 206h0M944 45h0M981 150h0M885 36h0M915 108h0M913 84h0M925 122h0M901 45h0M953 75h0M831 186h0M972 98h0M930 177h0M961 69h0"/><path stroke="#fedc82" stroke-width="6.00" d="M885 60h0M860 202h0M922 120h0M858 154h0M878 78h0M953 60h0M904 61h0M1014 76h0M938 61h0M890 102h0M883 110h0M900 72h0M892 30h0M985 113h0M971 102h0M833 145h0M905 189h0M948 91h0M948 57h0M877 189h0M880 161h0M938 137h0M839 127h0M876 22h0M867 83h0M914 60h0M847 129h0M869 34h0"/><path stroke="#fed26d" stroke-width="6.00" d="M966 112h0M924 140h0M939 48h0M926 85h0M880 29h0M915 156h0M900 114h0M863 203h0M848 163h0M910 65h0M905 138h0M913 165h0M952 75h0M878 69h0M908 57h0M905 185h0M941 147h0M896 163h0M972 61h0M913 154h0M911 142h0M930 115h0M887 42h0M928 59h0M936 58h0M978 106h0M928 157h0M887 112h0M860 210h0M889 28h0M973 88h0M911 112h0M932 146h0M838 114h0M911 107h0"/><path stroke="#fec857" stroke-width="6.00" d="M907 124h0M937 195h0M953 117h0M955 59h0M884 121h0M960 105h0M957 57h0M934 27h0M917 78h0M946 110h0M918 46h0M916 108h0M985 66h0M869 95h0M853 160h0M988 93h0M933 77h0M922 60h0M852 168h0M823 20h0M885 166h0M855 186h0M835 49h0M858 155h0M907 123h0M971 122h0M914 65h0M966 136h0M999 41h0M880 170h0M907 95h0M945 81h0M790 36h0M866 130h0M919 152h0M857 156h0M933 99h0M919 58h0M911 74h0M960 105h0M1051 124h0"/><path stroke="#febb47" stroke-width="6.00" d="M882 66h0M964 112h0M920 25h0M924 103h0M893 198h0M995 55h0M907 24h0M951 57h0M870 49h0M909 83h0M867 81h0M912 55h0M891 38h0M868 120h0M947 77h0M831 180h0M909 35h0M871 184h0M925 76h0M883 69h0M943 62h0M936 148h0M833 166h0M919 70h0M886 27h0M956 95h0M903 131h0M964 81h0M964 117h0M935 125h0M842 105h0M859 129h0M875 111h0M869 105h0M834 177h0M976 141h0M951 144h0M924 103h0M850 167h0M907 110h0M985 66h0M872 209h0M945 130h0M907 182h0M898 108h0M841 135h0M847 199h0M866 42h0M920 119h0M890 150h0M881 91h0M963 38h0M917 58h0M889 130h0M839 160h0M955 128h0M840 110h0M962 133h0M882 27h0M948 180h0"/><path stroke="#feae3b" stroke-width="6.00" d="M835 37h0M980 102h0M878 52h0M898 102h0M903 91h0M955 114h0M1002 57h0M934 87h0M944 113h0M887 157h0M902 119h0M930 38h0M972 110h0M950 61h0M903 81h0M902 33h0M955 133h0M886 168h0M1040 59h0M928 55h0M879 161h0M834 139h0M986 144h0M865 153h0M938 164h0M858 166h0M983 147h0M846 143h0M876 109h0M938 58h0M852 30h0M885 112h0M850 149h0M890 132h0M887 119h0M908 28h0M861 87h0M948 153h0M897 80h0M890 42h0M896 42h0M837 176h0M895 83h0M963 152h0M846 58h0M1033 74h0M879 114h0M942 137h0M849 172h0M957 79h0M1048 117h0"/><path stroke="#fea030" stroke-width="6.00" d="M861 172h0M849 64h0M993 101h0M999 84h0M926 175h0M923 135h0M969 87h0M929 113h0M860 194h0M864 188h0M879 96h0M889 142h0M848 116h0M817 31h0M1012 49h0M925 106h0M857 49h0M996 80h0M841 174h0M933 81h0M847 70h0M931 170h0M919 98h0M1014 65h0M933 167h0M958 154h0M986 48h0M972 127h0M932 142h0M1033 55h0M800 41h0M919 41h0M938 171h0M969 83h0M1051 61h0M867 54h0M955 155h0M949 178h0M847 120h0M846 168h0M881 100h0M913 57h0M845 79h0M834 177h0M873 74h0M800 46h0M1038 58h0M859 196h0M874 186h0M960 156h0M886 107h0M899 62h0M872 155h0M878 157h0M892 47h0M955 38h0M955 121h0M976 139h0M927 188h0M904 159h0M873 148h0M877 133h0M967 122h0M981 70h0M924 114h0M863 79h0M966 128h0M906 40h0M849 118h0M866 116h0M1049 125h0M1071 116h0"/><path stroke="#fb9225" stroke-width="6.00" d="M876 191h0M969 135h0M793 36h0M793 33h0M946 91h0M874 201h0M918 198h0M843 84h0M943 72h0M864 200h0M857 145h0M977 57h0M874 80h0M945 41h0M948 94h0M850 102h0M898 40h0M858 37h0M900 181h0M848 117h0M922 101h0M848 48h0M859 196h0M853 172h0M965 70h0M876 68h0M1002 78h0M1026 65h0M871 189h0M914 79h0M847 24h0M924 145h0M1032 76h0M936 49h0M827 37h0M816 14h0M1007 60h0M807 27h0M978 75h0M873 39h0M931 174h0M954 169h0M918 166h0M809 20h0M949 167h0M1050 131h0"/><path stroke="#f5851f" stroke-width="6.00" d="M868 208h0M820 40h0M944 111h0M992 65h0M842 174h0M850 191h0M849 116h0M925 138h0M847 28h0M827 44h0M930 37h0M956 136h0M839 172h0M1036 60h0M915 114h0M889 31h0M841 135h0M857 170h0M858 56h0M916 28h0M843 180h0M983 116h0M878 72h0M957 67h0M995 79h0M1022 50h0M1015 49h0M870 124h0M860 61h0M982 70h0M884 171h0M831 25h0M819 19h0M1074 114h0M1048 131h0"/><path stroke="#f07818" stroke-width="6.00" d="M862 214h0M909 193h0M791 31h0M965 171h0M864 194h0M845 87h0M1047 69h0M878 181h0M1009 48h0M849 47h0M855 89h0M861 210h0M838 31h0M949 174h0M943 173h0M824 34h0"/><path stroke="#e86c12" stroke-width="6.00" d="M830 53h0M891 63h0M834 60h0M873 97h0M857 169h0M835 26h0M847 54h0M935 61h0M844 41h0M889 174h0M917 42h0M872 74h0M961 152h0M797 46h0M943 61h0M992 97h0M892 49h0"/><path stroke="#dd5f0c" stroke-width="6.00" d="M842 122h0M857 100h0M1011 75h0M947 139h0M954 178h0M1045 68h0M848 117h0M1023 65h0"/><path stroke="#d35406" stroke-width="6.00" d="M832 49h0M962 173h0"/><path stroke="#c84a02" stroke-width="6.00" d="M847 67h0M845 94h0M846 62h0M1047 128h0"/><path stroke="#fffacb" stroke-width="6.00" d="M938 112h0"/><path stroke="#feeba2" stroke-width="6.00" d="M923 82h0M938 100h0M908 68h0M939 143h0M907 112h0M967 57h0M911 53h0M899 172h0M932 138h0M898 64h0M954 72h0M868 161h0M957 144h0"/><path stroke="#fee595" stroke-width="6.00" d="M883 44h0M833 168h0M907 94h0M926 61h0M868 31h0M919 183h0M981 108h0M930 87h0M869 175h0M934 130h0"/><path stroke="#fedc82" stroke-width="6.00" d="M954 57h0M915 32h0M964 48h0M876 53h0M935 71h0M938 127h0M898 164h0M893 62h0M854 139h0M911 108h0M914 49h0M945 40h0M898 156h0M890 88h0M871 152h0M933 36h0M897 64h0M978 83h0M945 128h0M900 138h0M900 79h0M858 175h0M914 51h0"/><path stroke="#fed26d" stroke-width="6.00" d="M888 94h0M912 25h0M905 93h0M916 112h0M886 121h0M886 115h0M979 64h0M955 43h0M981 42h0M809 55h0M887 118h0M931 145h0M952 83h0M947 45h0M884 79h0M917 63h0M922 183h0M933 122h0M946 152h0M891 101h0M935 122h0M906 109h0M881 138h0M922 144h0M986 45h0M913 70h0M909 162h0M938 151h0M964 94h0M913 75h0M913 65h0M927 93h0M982 66h0M908 99h0M955 154h0M863 64h0M908 58h0M932 79h0M963 134h0M940 175h0M967 54h0M924 68h0M1050 123h0M920 222h0"/><path stroke="#fec857" stroke-width="6.00" d="M877 185h0M981 84h0M968 38h0M998 49h0M879 93h0M956 48h0M910 194h0M909 48h0M972 87h0M968 55h0M951 42h0M904 118h0M875 61h0M920 112h0M906 126h0M890 24h0M879 108h0M996 93h0M912 32h0M908 31h0M897 40h0M1011 66h0M939 151h0M939 115h0M859 159h0M929 118h0M835 177h0M909 47h0M833 170h0M942 29h0M1022 79h0M882 70h0M968 153h0M869 84h0M978 46h0M799 33h0M874 51h0M935 78h0M909 130h0M838 165h0M872 69h0M874 143h0M976 65h0M866 73h0M810 23h0M962 60h0M857 110h0M992 106h0M970 77h0M892 47h0M850 165h0M1052 123h0"/><path stroke="#febb47" stroke-width="6.00" d="M839 165h0M874 103h0M871 201h0M930 177h0M1014 60h0M919 157h0M960 141h0M894 124h0M924 199h0M937 195h0M920 91h0M1050 59h0M1013 49h0M866 27h0M915 162h0M896 49h0M995 97h0M894 53h0M946 88h0M954 84h0M882 100h0M933 93h0M878 125h0M958 125h0M1015 59h0M940 170h0M884 74h0M868 31h0M935 64h0M870 57h0M883 136h0M834 171h0M912 31h0M928 119h0M945 67h0M897 169h0M878 197h0M916 39h0M852 28h0M837 142h0M865 39h0M939 113h0M892 46h0M830 151h0M868 167h0M957 44h0M953 77h0M862 172h0M909 47h0M1020 67h0M973 69h0M853 41h0M1008 77h0M863 160h0M945 119h0M923 113h0M973 70h0M858 33h0M936 161h0M879 66h0M865 22h0M850 177h0M1046 129h0M1051 125h0M1048 131h0"/><path stroke="#feae3b" stroke-width="6.00" d="M888 152h0M947 175h0M854 185h0M834 147h0M837 41h0M1048 52h0M880 43h0M903 149h0M932 99h0M833 61h0M967 147h0M867 139h0M936 51h0M949 107h0M990 53h0M925 140h0M862 65h0M937 175h0M919 189h0M999 83h0M834 22h0M939 195h0M887 129h0M853 193h0M860 150h0M886 116h0M952 127h0M945 25h0M901 133h0M825 179h0M1015 64h0M910 90h0M952 149h0M855 53h0M855 134h0M952 79h0M871 30h0M921 183h0M921 195h0M885 102h0M877 172h0M882 60h0M842 121h0M978 124h0M907 170h0M976 139h0M875 26h0M951 56h0M963 115h0M865 48h0M893 59h0M912 134h0M997 90h0M880 194h0M826 55h0M933 163h0M874 47h0M953 164h0M1021 70h0M859 28h0M964 50h0M1044 120h0M1048 126h0"/><path stroke="#fea030" stroke-width="6.00" d="M847 46h0M934 181h0M966 90h0M805 27h0M920 87h0M938 61h0M997 46h0M868 61h0M922 85h0M919 184h0M922 189h0M924 43h0M912 197h0M919 71h0M929 190h0M949 133h0M864 207h0M930 62h0M927 41h0M890 195h0M828 131h0M917 78h0M869 38h0M881 43h0M838 165h0M872 80h0M929 50h0M906 91h0M833 33h0M870 147h0M980 68h0M809 20h0M1003 47h0M866 21h0M938 55h0M846 163h0M876 179h0M851 164h0M884 62h0M851 173h0M967 152h0M869 190h0M838 39h0M984 94h0M870 90h0M1037 56h0M893 87h0M863 127h0M1012 64h0M848 59h0M1031 63h0"/><path stroke="#fb9225" stroke-width="6.00" d="M898 140h0M858 175h0M888 188h0M786 31h0M912 115h0M881 57h0M869 125h0M844 49h0M797 59h0M899 45h0M849 67h0M811 22h0M987 56h0M879 185h0M806 22h0M993 73h0M895 193h0M953 33h0M874 94h0M815 32h0M841 169h0M836 126h0M805 36h0M844 51h0M851 53h0M1015 79h0M945 145h0M864 46h0M859 195h0M825 43h0M902 184h0M960 41h0M979 151h0M877 175h0M831 145h0M948 106h0M988 59h0M933 57h0M936 152h0M994 56h0M840 188h0M840 163h0M1007 72h0M1005 75h0M848 196h0M1050 120h0M1038 126h0M1053 131h0"/><path stroke="#f5851f" stroke-width="6.00" d="M823 64h0M889 80h0M958 142h0M911 177h0M833 37h0M837 24h0M870 164h0M1028 62h0M810 20h0M867 26h0M847 46h0M971 44h0M927 177h0M847 163h0M950 177h0M819 41h0M861 93h0M847 47h0M855 86h0M853 126h0M836 115h0M988 73h0M1040 67h0M981 111h0M855 175h0M1017 54h0M1001 39h0M871 89h0M982 72h0M952 72h0M922 184h0M1045 130h0M1073 115h0"/><path stroke="#f07818" stroke-width="6.00" d="M896 111h0M913 93h0M834 126h0M901 139h0M858 105h0M872 46h0M863 116h0M876 145h0M837 58h0M971 41h0M799 39h0M867 87h0M855 26h0M845 126h0M899 27h0M854 48h0M984 148h0"/><path stroke="#e86c12" stroke-width="6.00" d="M845 134h0M854 99h0M867 193h0M838 148h0M1018 80h0M869 195h0M939 28h0M1032 67h0M869 153h0M852 71h0M849 186h0M965 174h0M869 42h0M896 197h0M991 90h0"/><path stroke="#dd5f0c" stroke-width="6.00" d="M866 212h0M1022 53h0M990 43h0M834 143h0M829 59h0M832 56h0M862 193h0M802 42h0M1073 115h0"/><path stroke="#d35406" stroke-width="6.00" d="M934 44h0M878 194h0M825 49h0"/><path stroke="#963304" stroke-width="6.00" d="M1004 71h0"/><path stroke="#fffacb" stroke-width="6.00" d="M923 44h0"/><path stroke="#fff7be" stroke-width="6.00" d="M879 145h0M927 57h0"/><path stroke="#fff2b1" stroke-width="6.00" d="M886 106h0M847 136h0M906 100h0M959 54h0M953 68h0"/><path stroke="#feeba2" stroke-width="6.00" d="M946 140h0M947 126h0M911 52h0M901 98h0M879 51h0M900 113h0M928 27h0M861 134h0M951 64h0M888 131h0M926 170h0"/><path stroke="#fee595" stroke-width="6.00" d="M905 98h0M976 94h0M858 174h0M940 181h0M969 48h0M903 41h0M907 67h0M934 153h0M896 99h0M861 167h0M902 140h0M941 63h0M893 104h0M894 156h0M897 34h0M881 120h0"/><path stroke="#fedc82" stroke-width="6.00" d="M968 90h0M904 55h0M933 27h0M988 101h0M842 167h0M903 97h0M853 138h0M848 170h0M967 69h0M900 64h0M933 127h0M916 38h0M985 74h0M902 192h0M893 86h0M961 88h0M804 52h0M954 84h0M937 65h0M937 145h0M944 89h0M870 130h0M926 70h0M929 118h0M947 26h0M960 104h0M906 140h0M930 122h0M1057 119h0"/><path stroke="#fed26d" stroke-width="6.00" d="M929 69h0M917 36h0M795 37h0M878 133h0M993 86h0M941 33h0M983 45h0M854 177h0M934 101h0M943 167h0M880 59h0M932 136h0M929 123h0M899 100h0M925 152h0M947 122h0M942 63h0M936 177h0M883 45h0M934 146h0M918 83h0M901 50h0M792 32h0M951 48h0M926 135h0M864 78h0M860 33h0M869 45h0M893 125h0M854 144h0M903 64h0"/><path stroke="#fec857" stroke-width="6.00" d="M951 56h0M905 94h0M882 51h0M902 107h0M994 48h0M991 67h0M916 134h0M903 153h0M933 53h0M974 156h0M899 78h0M967 103h0M972 118h0M901 117h0M924 99h0M954 143h0M932 168h0M841 23h0M963 106h0M921 198h0M862 129h0M900 150h0M859 138h0M894 45h0M981 84h0M888 74h0M809 40h0M985 89h0M832 150h0M908 58h0M899 53h0M967 124h0M930 59h0M974 44h0M945 74h0M949 50h0M799 33h0M866 133h0M883 80h0M912 135h0M903 68h0M889 106h0M906 69h0M885 172h0M975 105h0M878 67h0M847 39h0M940 27h0M890 182h0M892 150h0M805 27h0M892 59h0M951 91h0M866 137h0M931 109h0M969 36h0M913 197h0M856 206h0M867 159h0"/><path stroke="#febb47" stroke-width="6.00" d="M953 132h0M888 49h0M1019 51h0M955 130h0M883 68h0M964 73h0M970 108h0M873 145h0M945 65h0M797 51h0M884 168h0M863 21h0M974 117h0M834 153h0M888 173h0M940 66h0M882 39h0M983 60h0M854 136h0M926 61h0M896 59h0M876 102h0M951 161h0M966 156h0M870 114h0M902 188h0M890 116h0M995 84h0M835 172h0M908 151h0M934 158h0M973 97h0M917 169h0M865 42h0M892 189h0M871 148h0M891 113h0M852 41h0M852 167h0M985 95h0M886 29h0M945 94h0M884 168h0M917 51h0M870 102h0M913 50h0M840 136h0M977 97h0M1044 69h0M930 47h0M932 77h0M825 36h0M948 118h0M892 164h0M993 68h0M925 167h0M991 52h0M878 31h0M911 156h0M944 117h0M873 68h0M906 31h0M879 48h0M915 44h0M973 115h0"/><path stroke="#feae3b" stroke-width="6.00" d="M928 81h0M872 172h0M927 58h0M974 47h0M835 133h0M885 200h0M859 178h0M888 46h0M877 68h0M882 123h0M950 96h0M839 58h0M893 159h0M941 194h0M942 39h0M869 111h0M887 108h0M871 92h0M878 32h0M962 94h0M858 169h0M841 163h0M1035 67h0M913 69h0M913 137h0M1034 72h0M929 114h0M979 50h0M868 73h0M992 88h0M930 164h0M921 37h0M865 108h0M867 50h0M876 89h0M794 27h0M990 92h0M888 197h0M842 176h0M920 110h0M915 157h0M835 145h0M813 48h0M920 193h0M880 139h0M899 165h0M943 78h0M981 59h0M890 155h0M999 50h0M921 150h0M844 99h0M848 186h0M844 44h0"/><path stroke="#fea030" stroke-width="6.00" d="M831 184h0M900 67h0M828 29h0M1022 51h0M887 175h0M904 141h0M836 164h0M889 165h0M854 185h0M913 193h0M832 33h0M974 42h0M831 148h0M971 53h0M1017 75h0M890 187h0M943 53h0M906 183h0M958 40h0M930 172h0M920 128h0M863 105h0M921 112h0M996 76h0M862 188h0M896 184h0M836 27h0M987 77h0M840 91h0M930 171h0M874 198h0M840 116h0M972 40h0M963 42h0M841 86h0M880 95h0M899 71h0M839 188h0M926 89h0M838 29h0M956 171h0M954 152h0M1005 58h0M851 41h0M955 150h0M932 193h0M974 112h0M961 76h0M971 66h0M851 74h0M951 31h0M1009 77h0M969 85h0M829 178h0M1001 94h0M946 56h0M859 201h0M991 82h0"/><path stroke="#fb9225" stroke-width="6.00" d="M893 148h0M843 135h0M936 32h0M979 85h0M848 187h0M928 27h0M808 22h0M829 174h0M955 97h0M863 178h0M938 66h0M866 55h0M905 171h0M889 85h0M857 70h0M882 55h0M816 26h0M845 149h0M849 154h0M986 74h0M917 56h0M869 186h0M867 46h0M969 134h0M999 41h0M863 53h0M919 45h0M931 40h0M1003 86h0M892 180h0M857 64h0M849 182h0M872 190h0M989 85h0M1012 45h0M943 59h0M902 100h0M1006 78h0M869 55h0M857 142h0M838 43h0M865 126h0M873 173h0M852 31h0M953 114h0M968 147h0M969 52h0M849 39h0M879 65h0M1017 80h0M1041 122h0M1052 129h0"/><path stroke="#f5851f" stroke-width="6.00" d="M856 55h0M870 189h0M939 176h0M876 191h0M959 169h0M1023 58h0M810 48h0M856 94h0M867 47h0M1042 53h0M925 140h0M923 35h0M863 67h0M797 58h0M828 130h0M847 172h0M876 41h0M848 101h0M925 170h0M820 31h0M848 41h0M839 146h0M851 49h0M867 89h0M924 171h0M799 28h0M953 173h0M814 21h0M926 161h0M866 77h0M816 42h0M838 189h0M880 173h0M979 63h0M863 206h0M880 125h0M878 101h0M901 23h0M953 154h0M864 98h0M1039 125h0M1072 118h0"/><path stroke="#f07818" stroke-width="6.00" d="M799 26h0M819 63h0M833 28h0M898 45h0M854 109h0M858 40h0M945 174h0M853 113h0M980 142h0M901 117h0M837 119h0M910 35h0M860 86h0M859 214h0M961 164h0M846 47h0M930 65h0M849 134h0M879 123h0M945 187h0M1013 143h0"/><path stroke="#e86c12" stroke-width="6.00" d="M914 31h0M876 170h0M982 93h0M950 166h0M1041 65h0M858 206h0M846 147h0M817 26h0M904 168h0M864 92h0M892 196h0M958 163h0"/><path stroke="#dd5f0c" stroke-width="6.00" d="M875 204h0M1009 49h0M883 144h0M819 40h0M849 180h0"/><path stroke="#d35406" stroke-width="6.00" d="M860 212h0M854 42h0M1073 118h0"/><path stroke="#b84203" stroke-width="6.00" d="M848 107h0"/><path stroke="#a63a03" stroke-width="6.00" d="M1047 55h0"/><path stroke="#fffacb" stroke-width="6.00" d="M901 102h0"/><path stroke="#fff7be" stroke-width="6.00" d="M871 25h0M904 123h0"/><path stroke="#fff2b1" stroke-width="6.00" d="M924 65h0M929 112h0"/><path stroke="#feeba2" stroke-width="6.00" d="M911 104h0M861 207h0M872 109h0M900 83h0M940 107h0M857 18h0"/><path stroke="#fee595" stroke-width="6.00" d="M895 159h0M888 101h0M935 110h0M888 82h0M910 76h0M974 51h0M884 80h0M913 116h0M890 103h0"/><path stroke="#fedc82" stroke-width="6.00" d="M842 24h0M797 27h0M881 104h0M914 97h0M901 46h0M950 81h0M938 43h0M984 113h0M905 74h0M902 106h0M887 33h0M934 130h0M925 92h0M934 130h0M950 36h0M976 80h0M903 56h0M880 117h0M911 150h0M943 104h0M910 105h0M903 48h0M902 29h0"/><path stroke="#fed26d" stroke-width="6.00" d="M970 119h0M988 99h0M878 160h0M870 172h0M910 144h0M955 37h0M890 64h0M924 180h0M859 200h0M875 66h0M887 50h0M962 81h0M918 169h0M936 132h0M934 152h0M940 110h0M935 131h0M968 142h0M906 140h0M974 145h0M892 123h0M872 165h0M891 68h0M895 128h0M939 189h0M879 109h0M792 43h0M885 85h0M909 136h0M938 149h0M885 26h0M869 73h0M938 58h0M844 134h0M949 52h0M884 186h0M889 103h0M898 129h0"/><path stroke="#fec857" stroke-width="6.00" d="M888 95h0M977 51h0M899 124h0M832 123h0M880 30h0M934 176h0M882 51h0M881 42h0M874 175h0M934 189h0M871 106h0M991 79h0M906 142h0M892 42h0M900 107h0M935 177h0M879 64h0M846 170h0M921 147h0M905 115h0M839 47h0M904 173h0M925 155h0M952 133h0M924 71h0M878 164h0M946 176h0M917 40h0M848 46h0M867 58h0M939 120h0M968 82h0M886 33h0M921 124h0M970 61h0"/><path stroke="#febb47" stroke-width="6.00" d="M847 129h0M944 68h0M923 98h0M871 96h0M967 159h0M1048 51h0M919 191h0M938 72h0M949 155h0M860 160h0M913 120h0M856 27h0M896 131h0M971 57h0M904 129h0M942 181h0M868 147h0M811 26h0M805 30h0M944 108h0M956 117h0M896 154h0M926 130h0M904 25h0M838 160h0M834 143h0M863 115h0M921 129h0M862 58h0M935 197h0M953 59h0M962 174h0M933 143h0M909 168h0M955 112h0M871 196h0M1000 77h0M868 49h0M873 144h0M919 35h0M949 139h0M976 115h0M944 64h0M884 52h0M965 90h0M890 146h0M837 41h0M877 77h0M876 160h0M975 55h0M842 188h0M970 90h0M954 61h0M850 68h0M865 41h0M986 147h0M958 63h0M787 31h0M930 171h0M937 115h0M915 105h0M937 28h0M917 169h0M951 161h0M923 119h0"/><path stroke="#feae3b" stroke-width="6.00" d="M918 148h0M897 187h0M965 37h0M940 43h0M853 152h0M957 70h0M837 131h0M920 172h0M922 189h0M853 41h0M918 41h0M876 64h0M836 164h0M886 72h0M892 183h0M837 142h0M881 47h0M987 72h0M869 54h0M882 157h0M889 50h0M873 104h0M909 54h0M902 38h0M894 126h0M839 189h0M979 107h0M868 188h0M845 114h0M959 65h0M867 71h0M972 159h0M976 48h0M927 198h0M797 29h0M1033 66h0M904 151h0M860 162h0M985 94h0M848 51h0M874 53h0M933 44h0M923 89h0M1048 123h0M1051 132h0"/><path stroke="#fea030" stroke-width="6.00" d="M963 64h0M851 108h0M862 33h0M955 113h0M987 92h0M907 192h0M912 190h0M978 112h0M952 112h0M908 48h0M918 126h0M913 57h0M882 200h0M970 40h0M878 157h0M973 138h0M916 59h0M850 205h0M883 27h0M864 114h0M953 37h0M867 29h0M883 40h0M862 169h0M915 69h0M844 146h0M970 136h0M842 111h0M854 55h0M880 189h0M868 141h0M855 175h0M937 124h0M920 174h0M842 81h0M934 162h0M895 180h0M940 62h0M840 98h0M819 18h0M825 31h0M935 85h0M901 162h0M858 154h0M943 66h0M929 171h0M906 31h0M1011 68h0M869 182h0M943 32h0M806 36h0M926 188h0M875 116h0M889 76h0M858 66h0M869 113h0M872 26h0M828 39h0M959 133h0M930 70h0M907 137h0M921 74h0M905 23h0M1022 55h0M1055 129h0M1052 131h0"/><path stroke="#fb9225" stroke-width="6.00" d="M1012 81h0M963 90h0M844 108h0M855 87h0M865 146h0M854 95h0M858 90h0M857 22h0M881 26h0M897 117h0M834 146h0M891 78h0M867 146h0M960 73h0M858 48h0M878 189h0M916 31h0M893 80h0M849 54h0M926 28h0M811 34h0M899 126h0M864 152h0M944 50h0M821 30h0M862 99h0M862 183h0M866 30h0M864 184h0M928 167h0M820 42h0M846 88h0M887 185h0M935 186h0M991 87h0M1032 61h0M888 103h0M974 47h0M999 60h0M996 49h0M1022 78h0M903 67h0M880 121h0M835 25h0M975 150h0M848 63h0M915 80h0M832 181h0M833 135h0M890 48h0M887 148h0M890 178h0M874 173h0M1059 125h0"/><path stroke="#f5851f" stroke-width="6.00" d="M895 173h0M836 171h0M999 48h0M929 197h0M871 146h0M980 142h0M864 93h0M898 184h0M879 152h0M971 153h0M886 44h0M874 208h0M844 179h0M841 144h0M1028 67h0M869 188h0M946 72h0M856 167h0M975 156h0M866 188h0M925 28h0M889 35h0M837 178h0M939 49h0M955 34h0M960 175h0M881 101h0M884 137h0M831 153h0M944 72h0M877 98h0M871 221h0"/><path stroke="#f07818" stroke-width="6.00" d="M967 141h0M943 40h0M832 22h0M912 189h0M1011 80h0M851 46h0M968 64h0M834 59h0M845 170h0M885 77h0M839 54h0M815 43h0M823 47h0M852 182h0M856 50h0M1003 61h0M898 78h0M869 50h0M840 91h0M931 140h0M923 78h0M972 93h0M1070 115h0"/><path stroke="#e86c12" stroke-width="6.00" d="M862 152h0M990 76h0M858 123h0M847 90h0M953 172h0M916 152h0M972 127h0M954 157h0M1019 63h0M822 54h0M859 128h0M854 212h0M923 132h0M861 215h0M907 47h0M936 174h0"/><path stroke="#dd5f0c" stroke-width="6.00" d="M866 197h0M1020 73h0M855 91h0M833 47h0M855 112h0M975 156h0M850 53h0"/><path stroke="#d35406" stroke-width="6.00" d="M834 61h0M850 53h0"/><path stroke="#c84a02" stroke-width="6.00" d="M905 68h0"/><path stroke="#a63a03" stroke-width="6.00" d="M823 48h0"/><path stroke="#fff7be" stroke-width="6.00" d="M904 177h0"/><path stroke="#fff2b1" stroke-width="6.00" d="M966 41h0M900 169h0M920 155h0M963 94h0M927 141h0"/><path stroke="#feeba2" stroke-width="6.00" d="M948 107h0M924 141h0M921 34h0M946 137h0M896 95h0M913 85h0"/><path stroke="#fee595" stroke-width="6.00" d="M959 143h0M932 80h0M894 29h0M918 89h0M951 113h0M978 49h0M973 139h0M913 126h0M974 97h0M899 54h0M939 153h0M950 98h0M979 106h0M953 124h0"/><path stroke="#fedc82" stroke-width="6.00" d="M908 200h0M795 29h0M981 139h0M922 122h0M912 133h0M955 137h0M798 49h0M891 132h0M892 99h0M901 114h0M841 168h0M894 76h0M927 60h0M919 80h0M845 132h0M943 92h0M871 39h0M911 162h0M981 111h0M903 29h0M926 122h0M838 149h0M987 96h0"/><path stroke="#fed26d" stroke-width="6.00" d="M897 102h0M976 73h0M851 160h0M936 138h0M981 146h0M831 176h0M894 105h0M979 83h0M873 187h0M930 53h0M890 44h0M930 66h0M964 128h0M861 38h0M861 28h0M897 54h0M922 30h0M899 92h0M934 160h0M1012 52h0M932 96h0M879 98h0M908 73h0M934 122h0M945 159h0M914 138h0M966 57h0M892 98h0M904 157h0M944 144h0M887 82h0M873 45h0M934 190h0M864 192h0M940 139h0M941 86h0M951 90h0M982 102h0M967 118h0M967 138h0M909 161h0M853 117h0M948 104h0M1044 52h0"/><path stroke="#fec857" stroke-width="6.00" d="M939 104h0M923 121h0M942 45h0M993 80h0M910 126h0M837 139h0M961 139h0M978 51h0M965 116h0M915 83h0M866 146h0M973 91h0M951 114h0M951 80h0M924 180h0M909 64h0M930 72h0M855 40h0M926 110h0M881 125h0M845 39h0M883 169h0M915 66h0M888 149h0M900 97h0M827 179h0M864 122h0M806 28h0M981 62h0M917 194h0M901 72h0M839 58h0M925 191h0M847 177h0M872 88h0M868 55h0M947 177h0M959 81h0M948 79h0M940 132h0M870 125h0M947 52h0M865 117h0M960 42h0M943 75h0M913 150h0M894 143h0M873 88h0M952 69h0M941 143h0M842 163h0M950 66h0"/><path stroke="#febb47" stroke-width="6.00" d="M873 134h0M881 113h0M879 90h0M920 90h0M913 42h0M954 81h0M1005 40h0M947 86h0M877 61h0M945 181h0M962 85h0M985 66h0M915 146h0M851 195h0M937 157h0M940 173h0M966 154h0M876 131h0M928 87h0M963 100h0M916 60h0M871 90h0M909 41h0M879 80h0M956 59h0M932 138h0M916 77h0M951 72h0M941 123h0M976 89h0M1014 66h0M935 163h0M918 72h0M908 102h0M879 174h0M935 63h0M999 51h0M833 146h0M926 25h0M875 176h0M907 71h0M981 58h0M973 126h0M942 36h0M926 60h0M881 82h0M862 73h0M849 139h0M990 46h0M1042 56h0M866 48h0M880 72h0M969 109h0M932 48h0M1042 67h0M889 45h0M921 123h0M865 187h0M1016 139h0"/><path stroke="#feae3b" stroke-width="6.00" d="M901 57h0M826 42h0M922 187h0M1050 66h0M997 94h0M831 172h0M885 125h0M910 91h0M926 53h0M989 108h0M868 167h0M910 94h0M939 52h0M942 29h0M795 39h0M860 94h0M867 136h0M863 180h0M934 189h0M888 161h0M899 78h0M866 59h0M848 53h0M861 94h0M925 182h0M879 178h0M917 47h0M972 159h0M851 200h0M1002 59h0M868 39h0M900 65h0M922 140h0M913 110h0M847 94h0M964 60h0M945 143h0M963 92h0M913 43h0M906 98h0M891 67h0M842 46h0M852 162h0M928 65h0M871 162h0M894 161h0M820 23h0M905 181h0M977 75h0M965 117h0M839 123h0M906 126h0M938 165h0M987 67h0M932 85h0M929 30h0M934 96h0M928 153h0M1044 123h0M1045 129h0"/><path stroke="#fea030" stroke-width="6.00" d="M976 46h0M847 67h0M936 97h0M883 184h0M923 59h0M902 174h0M827 31h0M863 82h0M887 191h0M989 46h0M895 63h0M897 72h0M874 107h0M895 176h0M869 61h0M917 134h0M861 117h0M856 78h0M887 109h0M842 164h0M897 127h0M869 106h0M965 51h0M975 151h0M855 27h0M889 39h0M936 169h0M908 189h0M835 142h0M862 126h0M1004 70h0M907 109h0M866 48h0M931 163h0M949 38h0M852 55h0M857 101h0M998 90h0M848 171h0M868 79h0M926 78h0M1002 61h0M864 65h0M967 162h0M858 18h0M882 110h0M885 160h0M959 60h0M857 173h0M1016 140h0M1047 118h0"/><path stroke="#fb9225" stroke-width="6.00" d="M933 167h0M923 181h0M862 184h0M1045 60h0M817 41h0M902 110h0M886 130h0M866 93h0M863 107h0M905 50h0M845 154h0M896 170h0M969 100h0M1015 56h0M945 162h0M909 71h0M971 67h0M962 165h0M878 182h0M881 163h0M891 195h0M920 168h0M901 126h0M847 185h0M830 178h0M861 205h0M941 123h0M855 131h0M1031 71h0M899 54h0M936 79h0M806 45h0M914 173h0M879 158h0M842 146h0M897 195h0M927 42h0M918 173h0M1020 49h0M861 97h0M874 187h0M939 156h0M873 91h0M949 175h0M868 29h0M898 65h0M1071 114h0"/><path stroke="#f5851f" stroke-width="6.00" d="M1014 81h0M901 39h0M995 44h0M817 44h0M839 172h0M961 168h0M1001 83h0M945 120h0M905 87h0M853 124h0M839 27h0M928 100h0M1002 79h0M970 106h0M876 197h0M957 94h0M800 47h0M818 44h0M973 56h0M856 86h0M819 34h0M901 29h0M865 176h0M863 198h0M859 147h0M841 86h0M807 49h0M911 91h0M964 160h0M879 128h0M1052 119h0"/><path stroke="#f07818" stroke-width="6.00" d="M859 121h0M818 37h0M945 162h0M886 167h0M972 128h0M829 176h0M859 119h0M852 100h0M893 180h0M948 165h0M967 153h0M1032 70h0M1045 54h0M1048 67h0M1000 92h0M822 60h0M825 31h0M987 57h0"/><path stroke="#e86c12" stroke-width="6.00" d="M852 108h0M953 53h0M1007 66h0M862 159h0M962 163h0M866 95h0M918 99h0M997 50h0M843 84h0M866 214h0M830 33h0"/><path stroke="#dd5f0c" stroke-width="6.00" d="M910 199h0M851 116h0M838 22h0M824 38h0M810 24h0M994 81h0M1021 72h0M878 202h0M857 48h0M993 51h0M864 218h0M856 89h0"/><path stroke="#d35406" stroke-width="6.00" d="M836 50h0M962 170h0"/><path stroke="#c84a02" stroke-width="6.00" d="M858 94h0M1070 115h0"/><path stroke="#fff7be" stroke-width="6.00" d="M916 78h0M926 61h0"/><path stroke="#fff2b1" stroke-width="6.00" d="M877 45h0M970 86h0"/><path stroke="#feeba2" stroke-width="6.00" d="M960 81h0M915 55h0M904 157h0M958 77h0"/><path stroke="#fee595" stroke-width="6.00" d="M839 130h0M952 74h0M929 69h0M926 33h0M941 155h0M897 75h0M982 87h0M985 61h0M907 72h0M912 57h0M948 115h0"/><path stroke="#fedc82" stroke-width="6.00" d="M891 66h0M977 105h0M904 141h0M878 29h0M869 40h0M899 180h0M893 61h0M864 213h0M925 79h0M911 46h0M937 69h0M962 130h0M848 174h0M972 134h0M940 56h0M945 154h0M896 27h0M907 103h0M907 143h0M897 53h0M907 179h0M931 42h0M798 50h0M923 90h0"/><path stroke="#fed26d" stroke-width="6.00" d="M871 119h0M872 31h0M956 36h0M901 77h0M877 201h0M943 105h0M871 182h0M967 92h0M1011 63h0M888 138h0M930 79h0M933 86h0M861 22h0M867 148h0M910 139h0M923 161h0M970 95h0M880 59h0M897 181h0M859 186h0M845 41h0M992 69h0M852 195h0M882 31h0M861 148h0M926 150h0M903 39h0M956 86h0M961 34h0M927 42h0M933 64h0M843 21h0M904 175h0M884 123h0M969 131h0M989 48h0M867 159h0M871 125h0M922 143h0"/><path stroke="#fec857" stroke-width="6.00" d="M881 156h0M958 48h0M859 62h0M953 58h0M949 138h0M869 108h0M912 55h0M868 149h0M943 82h0M910 90h0M952 143h0M923 57h0M968 44h0M856 49h0M823 42h0M950 166h0M865 26h0M894 57h0M917 89h0M917 120h0M900 149h0M908 78h0M922 190h0M905 146h0M937 132h0M888 88h0M847 24h0M955 81h0M834 172h0M872 154h0M944 35h0M877 160h0M907 148h0M916 42h0M918 59h0M892 36h0M939 40h0M907 90h0M881 110h0M900 161h0M838 189h0M935 32h0M797 34h0M898 36h0M795 28h0M870 92h0M913 186h0M944 66h0M895 73h0M946 131h0M891 190h0M842 144h0M938 46h0M900 72h0M897 65h0M896 52h0M1045 119h0"/><path stroke="#febb47" stroke-width="6.00" d="M980 150h0M934 77h0M889 91h0M867 41h0M870 149h0M965 125h0M811 43h0M822 35h0M897 120h0M818 39h0M800 57h0M910 199h0M923 166h0M896 42h0M870 113h0M888 81h0M981 49h0M881 115h0M928 82h0M885 102h0M968 134h0M865 144h0M965 91h0M901 100h0M920 162h0M978 144h0M882 155h0M952 48h0M877 195h0M961 155h0M859 61h0M848 88h0M854 43h0M925 137h0M882 123h0M882 152h0M970 81h0M1024 68h0M890 103h0M838 26h0M939 104h0M880 153h0M861 31h0M929 85h0M944 28h0M846 41h0M954 132h0M791 38h0M851 32h0M959 158h0M998 52h0M894 62h0M884 39h0M936 62h0M904 56h0M1045 120h0"/><path stroke="#feae3b" stroke-width="6.00" d="M923 178h0M913 63h0M880 176h0M941 121h0M896 66h0M846 68h0M870 202h0M919 28h0M945 138h0M926 35h0M1017 56h0M977 135h0M916 140h0M872 134h0M853 63h0M960 75h0M966 56h0M1028 55h0M905 48h0M792 44h0M890 166h0M872 200h0M966 48h0M838 142h0M845 37h0M868 51h0M874 47h0M853 183h0M949 160h0M906 111h0M855 122h0M904 120h0M980 108h0M971 130h0M919 53h0M881 58h0M875 39h0M911 62h0M878 150h0M918 130h0M824 180h0M869 39h0M924 130h0M971 162h0M906 69h0M942 45h0M886 79h0M854 140h0M922 163h0M901 107h0M1034 66h0M1015 141h0M1053 116h0"/><path stroke="#fea030" stroke-width="6.00" d="M842 29h0M967 53h0M869 213h0M848 155h0M805 54h0M846 104h0M887 136h0M930 62h0M905 145h0M975 53h0M1026 72h0M842 35h0M938 96h0M939 123h0M998 77h0M941 74h0M951 111h0M1021 65h0M954 136h0M987 106h0M1043 64h0M960 37h0M960 101h0M950 181h0M836 148h0M980 150h0M833 131h0M825 18h0M955 40h0M848 186h0M977 115h0M940 178h0M799 44h0M1011 75h0M930 156h0M873 124h0M836 169h0M891 83h0M839 134h0M945 169h0M970 142h0M874 170h0M993 90h0M826 24h0M1000 88h0M1036 72h0M978 69h0M941 194h0M883 203h0M813 54h0M861 132h0M900 162h0M940 165h0"/><path stroke="#fb9225" stroke-width="6.00" d="M998 80h0M853 59h0M864 202h0M873 80h0M903 184h0M853 189h0M1054 53h0M905 70h0M835 23h0M863 51h0M1049 57h0M878 202h0M944 29h0M998 44h0M864 211h0M894 114h0M914 170h0M849 143h0M966 56h0M990 107h0M991 72h0M837 105h0M855 167h0M853 209h0M922 167h0M846 38h0M921 50h0M1051 63h0M938 187h0M830 36h0M859 191h0M857 154h0M1011 72h0M946 109h0M938 175h0M979 46h0M836 87h0M939 171h0M1051 119h0M1056 128h0"/><path stroke="#f5851f" stroke-width="6.00" d="M1011 59h0M820 29h0M894 75h0M855 72h0M916 172h0M996 99h0M964 158h0M865 184h0M849 67h0M862 201h0M809 38h0M851 107h0M910 73h0M971 139h0M827 177h0M951 52h0M933 78h0M953 135h0M841 114h0M843 117h0M1054 51h0M932 179h0M857 114h0M859 85h0M844 125h0M857 165h0M970 162h0M835 172h0M984 91h0M988 107h0M864 112h0M803 25h0M820 33h0M845 31h0M1051 62h0M964 151h0M900 80h0M953 157h0M848 92h0"/><path stroke="#f07818" stroke-width="6.00" d="M819 31h0M838 34h0M886 99h0M864 32h0M905 185h0M906 177h0M864 88h0M968 154h0M935 31h0M804 47h0M836 150h0M807 31h0M906 79h0M870 55h0M1015 70h0M846 44h0M906 48h0M862 97h0M799 53h0M936 34h0M947 166h0M966 155h0"/><path stroke="#e86c12" stroke-width="6.00" d="M875 54h0M824 53h0M894 126h0M815 48h0M871 97h0M833 39h0M912 191h0M857 212h0M934 40h0"/><path stroke="#dd5f0c" stroke-width="6.00" d="M854 62h0M952 170h0M860 51h0M1000 80h0M818 24h0M836 88h0M954 167h0M845 42h0M839 167h0M820 47h0"/><path stroke="#d35406" stroke-width="6.00" d="M827 41h0M894 56h0"/><path stroke="#c84a02" stroke-width="6.00" d="M859 74h0M912 149h0M1042 60h0"/><path stroke="#a63a03" stroke-width="6.00" d="M824 41h0"/><path stroke="#762a05" stroke-width="6.00" d="M839 93h0"/><path stroke="#fff" stroke-width="2.00" d="M841 138h0M865 81h0M869 112h0M856 182h0M912 42h0M926 65h0M957 75h0M957 149h0M869 170h0M952 78h0M859 153h0M957 117h0M927 41h0M898 150h0M891 100h0M964 115h0M851 116h0M886 146h0M888 80h0M982 155h0M999 54h0M968 108h0M913 114h0M1016 55h0M941 182h0M953 103h0M998 60h0M914 73h0M899 43h0M863 172h0M902 112h0M879 110h0M947 132h0M981 107h0M955 149h0M893 125h0M907 91h0M870 55h0M999 40h0M917 190h0M885 113h0M936 29h0M992 100h0M892 135h0M849 118h0M940 196h0M869 180h0M893 121h0M908 122h0M979 143h0M861 119h0M854 30h0M965 100h0M861 109h0M931 133h0M822 176h0M948 120h0M928 113h0M881 168h0M833 23h0M838 171h0M860 194h0M876 179h0M930 64h0M945 105h0M915 73h0M796 55h0M923 82h0M953 149h0M843 178h0M937 158h0M856 81h0M940 70h0M987 96h0M953 100h0M903 186h0M948 184h0M855 41h0M925 61h0M928 165h0M937 190h0M874 147h0M950 74h0M974 121h0M986 98h0M949 67h0M873 141h0M968 92h0M858 94h0M914 85h0M896 82h0M874 33h0M865 45h0M882 201h0M895 40h0M966 60h0M1001 38h0M908 88h0M931 111h0M838 111h0M924 122h0M973 86h0M868 32h0M896 38h0M928 54h0M883 72h0M968 109h0M1045 54h0M872 180h0M846 108h0M989 61h0M1031 62h0M886 117h0M854 70h0M897 58h0M920 122h0M918 32h0M850 149h0M911 191h0M908 83h0M886 127h0M811 42h0M866 214h0M851 137h0M899 116h0M845 35h0M855 195h0M826 131h0M909 159h0M800 55h0M955 115h0M888 161h0M855 31h0M976 117h0M1020 60h0M888 174h0M839 184h0M868 136h0M943 35h0M943 60h0M960 155h0M1013 79h0M901 76h0M971 110h0M895 85h0M867 186h0M947 91h0M991 48h0M1039 53h0M936 36h0"/><path stroke="#fff" stroke-width="2.80" d="M1036 65h0M792 39h0M832 136h0M934 36h0M809 65h0M992 79h0M913 26h0M832 22h0M960 133h0M920 110h0M969 101h0M877 114h0M885 74h0M874 136h0M878 72h0M885 30h0M843 163h0M980 64h0M977 72h0M819 14h0M787 30h0M931 29h0M848 195h0M929 27h0M811 28h0M868 21h0M972 141h0M956 72h0M859 127h0M862 105h0M875 94h0M987 93h0M872 109h0M816 26h0M960 65h0M1037 65h0M946 170h0M910 146h0M999 64h0M986 53h0M966 98h0M960 117h0M870 91h0M870 120h0M904 157h0M890 37h0M964 102h0M906 74h0M868 198h0M893 85h0M893 30h0M1033 59h0M967 175h0M939 108h0M896 151h0M901 100h0M980 113h0M825 181h0M903 35h0M922 188h0M884 204h0M988 81h0M947 118h0M930 64h0M994 89h0M830 160h0M923 97h0M848 46h0M871 90h0M1038 54h0M907 123h0M972 156h0M929 117h0M944 186h0M993 91h0M887 65h0M861 171h0M952 81h0M873 151h0M912 157h0M862 182h0M971 58h0M894 158h0M942 56h0M887 151h0M1008 59h0M930 128h0M978 138h0M924 40h0M894 194h0M873 28h0M874 22h0M899 55h0M868 75h0M921 168h0M871 114h0M842 192h0M851 167h0M909 62h0M927 100h0M941 109h0M1022 81h0M882 147h0M957 60h0M939 153h0M934 199h0M842 39h0M851 154h0M970 136h0M826 171h0M965 163h0M844 151h0M883 42h0M940 118h0M1043 65h0M937 130h0M871 211h0M915 49h0M863 56h0M983 41h0M936 194h0M862 171h0M935 99h0M909 177h0M959 134h0M941 113h0M873 78h0M821 18h0M841 157h0M918 142h0M866 31h0M867 78h0M792 32h0M855 139h0M905 57h0M954 86h0M932 88h0M912 89h0M927 128h0M833 33h0M912 105h0M880 134h0M946 144h0M914 73h0M826 17h0M890 116h0M847 198h0M895 35h0M974 162h0M880 91h0"/><path stroke="#fff" stroke-width="3.60" d="M946 152h0M953 98h0M958 176h0M920 62h0M972 42h0M970 86h0M874 155h0M887 82h0M836 126h0M894 60h0M912 157h0M792 59h0M837 127h0M897 78h0M848 155h0M969 126h0M893 115h0M901 48h0M923 189h0M966 104h0M959 149h0M834 113h0M890 79h0M961 145h0M879 206h0M916 51h0M947 149h0M917 68h0M916 150h0M899 45h0M947 146h0M931 179h0M946 131h0M930 74h0M892 189h0M936 108h0M854 112h0M859 139h0M985 46h0M975 114h0M891 114h0M964 99h0M900 185h0M869 127h0M912 77h0M930 132h0M1026 72h0M894 117h0M1020 81h0M921 73h0M902 65h0M951 156h0M836 89h0M959 32h0M857 190h0M927 77h0M953 127h0M847 118h0M936 199h0M982 122h0M885 65h0M839 138h0M972 129h0M931 112h0M895 76h0M987 101h0M912 84h0M960 124h0M844 170h0M893 89h0M1037 68h0M958 99h0M956 54h0M925 70h0M951 125h0M902 137h0M874 57h0M794 56h0M893 200h0M979 146h0M893 174h0M867 71h0M859 42h0M868 65h0M892 91h0M815 66h0M886 106h0M904 99h0M943 145h0M960 147h0M787 33h0M928 33h0M860 154h0M892 169h0M985 61h0M977 73h0M923 112h0M935 148h0M938 92h0M951 25h0M785 37h0M881 163h0M865 143h0M1003 95h0M906 119h0M949 86h0M869 121h0M909 41h0M876 32h0M903 32h0M938 141h0M836 95h0M944 103h0M888 85h0M854 118h0M963 67h0M866 123h0M873 193h0M821 124h0M900 86h0M849 152h0M931 34h0M1022 59h0M807 42h0M934 112h0M835 142h0M852 23h0M984 45h0M812 15h0M930 185h0M956 128h0M944 62h0M855 142h0M886 27h0M880 65h0M925 41h0M972 49h0M922 40h0M962 144h0M1018 82h0M927 75h0M893 94h0M871 152h0M963 46h0M957 49h0M897 59h0M860 108h0M895 144h0M899 134h0M954 101h0"/><path stroke="none" marker-start="url(#ra)" marker-mid="url(#ra)" marker-end="url(#ra)" d="M915 144L922 136L918 124L904 131L811 34L845 195L887 92L916 110L1028 66L943 117L904 113L870 40L964 123L813 42L849 47L876 144L938 154L888 163L864 181L1030 62L1026 57L984 56L987 87L842 181L987 40L909 59L799 32L856 144L848 193L931 53L900 92L994 69L902 71L865 18L845 162L851 143L874 145L971 63L952 69L1017 65L930 151L829 148L902 103L932 99L922 104L987 97L925 102L908 46L978 101L1006 65L965 82L873 149L848 176L894 140L865 116L829 169L833 152L871 147L802 57L945 187L1003 91L886 164L1015 53L1039 49L958 104L917 167L910 77L931 95L998 46L888 99L885 164L932 94L963 53L932 175L893 121L830 22L894 109L980 89L900 84L848 103L866 177L927 151L929 92L879 142L868 136L839 166L900 202L853 141L912 176L905 25L857 101L875 196L904 194L963 143L872 66L934 41L985 111L914 105L858 40L947 187L903 23L868 113L882 144L1039 57L899 56L965 109L953 31L894 118L860 67L860 204L956 46L903 132L919 146L938 114L864 101L919 123L954 52L900 27L952 138L887 106L852 116L860 114L906 23L843 53L847 76L855 117L930 80L834 176L848 124L956 65L877 76L883 191L978 152L876 126L896 107L906 161L929 67L926 112L862 147L820 65L859 64L944 122L844 49L922 132L868 125L972 128L956 84L853 169L845 138L937 119L870 138L890 165L931 118L963 47L862 123L871 113L916 144L945 24L912 121L1005 60L880 178L973 129L936 164L970 62L1018 67L932 67L1007 65L976 133L941 187L893 175L954 149L950 37L898 21L972 85L883 202L846 149L871 35L961 50L974 103L929 180L965 180L909 75L930 86L879 116L955 127L879 154L883 150L989 46L943 124L1036 68L934 100L947 187L855 21L874 122L940 128L895 126L951 76L999 46L864 129L942 33L932 27L916 181L944 140L890 134L968 132L803 42L929 64L863 63L962 83L941 71L872 106L991 79L895 201L804 31L884 184L971 62L879 59L796 64L943 156L937 153L910 100L849 169L961 80L987 68L924 120L951 153L1005 43L940 73L890 113L1014 66L854 165L819 37L940 73L978 66L982 74L954 107L946 69L860 172L857 40L864 43L876 38L972 151L1039 50L861 169L1009 50L850 20L958 52L1022 78L911 70L899 100L821 22L834 133L1004 51L931 48L959 92L961 121L903 134L917 107L859 189L918 34L898 141L969 107L956 106L900 139L876 51L849 174L917 111L885 39L882 94L935 90L947 151L904 93L892 45L885 23L899 200L870 45L949 115L855 69L926 81L897 174L959 47L980 44L936 106L969 121L975 120L887 102L927 99L915 162L893 153L963 65"/><path stroke="none" marker-start="url(#rb)" marker-mid="url(#rb)" marker-end="url(#rb)" d="M865 32L975 106L1010 44L862 24L850 55L939 183L805 29L920 141L900 87L834 156L851 132L912 139L842 187L884 154L855 85L821 180L924 112L917 129L791 63L816 37L932 115L928 28L928 136L865 157L858 140L879 193L876 153L889 109L877 195L945 145L857 38L954 124L857 98L923 185L892 121L937 127L913 64L937 69L890 110L837 142L992 47L828 28L835 37L959 129L838 142L884 177L1030 64L967 85L840 24L976 154L988 53L947 118L988 87L846 199L973 125L938 193L887 143L956 80L936 115L995 66L854 20L855 86L864 174L970 106L888 66L865 198L885 167L941 60L923 135L875 34L931 146L860 208L916 114L956 69L959 133L951 33L1028 50L810 33L826 179L866 169L861 31L869 180L961 120L948 151L986 99L971 146L934 125L931 71L964 87L877 23L850 32L897 99L865 26L930 190L987 106L830 33L911 99L930 32L855 197L903 73L920 88L1045 59L948 56L951 56L802 44L794 56L910 20L874 177L936 191L954 125L969 54L889 52L960 140L851 55L949 98L858 56L911 154L935 145L957 96L878 136L808 53L933 54L885 168L872 37L859 203L845 122L909 128L926 42L939 72L1021 59L978 89L879 33L947 67L956 141L935 51L947 30L933 143L884 127L939 39L884 128L920 193L944 97L956 140L975 157L791 59L976 88L889 120L924 59L907 57L929 73L935 148L912 94L850 178L903 189L984 142L989 94L854 155L842 156L884 172L905 136L961 69L958 123L860 138L860 87L856 184L894 71L957 94L854 111L1053 50L804 21L936 189L928 152L981 98L976 72L957 153L935 145L891 163L881 197L863 77L863 137L976 136L842 114L912 111L983 54L908 100L832 182L1025 66L1022 65L837 109L958 64L950 113L839 176L893 86L865 168L870 123L896 122L964 78L919 101L859 129L909 197L924 201L996 79L983 116L872 138L844 104L924 120L975 146L900 168L908 42L936 83L912 138L849 135L878 130L948 83L844 38L951 131L883 162L917 70L977 71L889 28L952 109L947 34L946 145L939 102L915 54L928 30L967 146L988 145L865 95L879 187L836 53L866 169L888 167L904 154L796 26L951 80L1040 51L850 160L911 147L837 91L897 147L894 45L877 166L911 146L813 42L905 96L888 182L925 62L977 57L986 142L829 167L945 99L909 116L910 190L862 31L953 67L870 136L904 183L870 176L978 74L974 94L913 133L853 130L837 26L939 27L919 138L936 144L813 33L830 176L946 158L885 128L869 195L1008 56L880 159L850 133L865 199L1002 98L934 76L868 104L826 121L1001 55L897 187L924 157L800 35L971 61L869 135L883 45L1011 75L884 179L969 134"/></g>
<path d="M416.4 10.1L416.8 14.6L418.4 18.5L416.8 21.2L418.4 23.8L416.8 27.8L417.9 31.2M417.3 16.5L422.2 17.2L427.6 17.2L433.0 16.5L438.4 15.2L441.6 13.9L443.8 11.9M441.6 13.9L444.9 17.2L449.2 19.2L452.4 19.2L454.6 17.2L457.8 15.9L458.4 12.6M457.8 15.9L460.0 18.5L461.1 22.5L465.4 23.8L468.6 22.5L470.8 20.5L469.7 17.2L473.0 14.6L473.5 12.8M460.0 21.8L458.9 25.1L461.1 29.1L465.4 30.4L469.7 31.1L472.4 30.4L474.0 27.8L470.8 24.5M484.3 17.9L481.6 21.2L480.5 25.1L477.3 29.1L474.0 31.1M474.0 31.1L471.9 35.7L469.7 39.6L471.9 43.6L475.1 48.9L475.1 54.2L478.4 56.8M500.0 19.2L499.4 23.8L496.7 30.4L496.2 35.7L494.6 39.6L496.2 44.9L494.6 48.9M494.6 48.9L490.2 47.6L485.9 50.2L483.8 55.5L478.4 56.8M494.6 48.9L497.8 49.9M419.0 52.2L425.4 52.8L433.0 54.2L438.4 54.2L443.8 52.8M443.8 52.8L447.0 48.9L450.3 45.6L454.6 41.6L457.8 42.3L459.5 46.2L458.9 51.5L460.0 55.5L454.6 56.8L448.1 56.1L443.8 52.8M454.6 41.6L460.0 40.3L465.4 39.6L469.7 39.6M438.4 54.2L435.2 59.4L438.4 64.7L435.2 70.0L438.4 74.0M438.4 74.0L433.0 77.9L427.6 81.9L422.2 83.2L416.8 82.5M438.4 74.0L443.8 76.6L449.2 78.6L454.6 77.9L460.0 77.3L465.4 79.2L467.6 81.9M467.6 81.9L471.9 77.9L476.2 75.3L480.5 76.6M467.6 81.9L470.8 85.8L473.0 89.8L474.9 91.4M480.5 76.6L481.6 80.6L483.8 84.5L484.8 85.2M480.5 76.6L481.6 71.3L478.4 66.0L476.2 62.1L479.4 58.1L478.4 56.8M473.2 12.3L471.0 13.0L468.6 13.1L466.3 13.0L462.7 11.3L459.5 12.6L457.6 12.1L455.1 11.3L451.5 10.7L446.1 12.1L441.1 11.7L437.8 11.0L431.3 9.9L429.2 8.5L428.4 9.4L426.0 9.7L421.8 9.9L416.4 10.1L414.0 9.7L412.9 8.5L409.3 6.8L407.4 7.0L405.5 8.5L402.5 9.7L403.3 11.0L401.7 12.2L397.3 12.8L395.3 14.3L392.9 15.1L392.8 15.9L392.0 16.5L392.3 18.8L393.1 18.0L393.9 19.6L394.6 20.2L394.3 22.7L395.3 23.1L397.7 22.5L396.6 23.9L397.3 25.1L399.0 24.7L396.6 27.1L398.2 27.2L396.8 28.8L396.6 32.1L399.0 30.1L401.1 29.3L404.2 28.4L405.1 29.7L403.8 31.7L407.1 32.2L410.3 32.6L412.3 32.5L415.2 30.5L417.9 31.2L421.3 30.9L421.7 34.8L424.5 35.9L425.5 35.9L423.5 38.6L420.6 40.4L419.0 42.9L417.6 43.3L419.0 45.6L419.0 50.2L418.4 53.2L417.3 55.2L416.6 57.1L418.1 58.5L416.6 61.2L413.2 61.6L411.1 61.3L413.6 64.1L414.3 66.3L416.3 68.7L417.3 70.7L416.3 71.7L414.6 73.3L413.6 77.3L415.7 80.8L417.6 80.4L416.8 82.9L414.1 83.5L411.4 89.1L411.9 91.1L412.5 94.0L413.3 93.9L417.3 93.8L419.0 94.7L421.7 96.4L423.7 99.2L423.0 99.8L423.7 101.4L424.4 102.6L425.8 104.6L427.3 107.2L428.5 107.1L431.8 109.5L433.5 107.9L434.6 108.0L436.8 104.1L439.7 102.9L442.5 102.5L444.7 100.2L450.5 99.7L454.4 100.1L459.8 99.8L464.2 99.6L465.8 98.6L468.7 100.1L471.9 96.5L472.7 94.0L475.3 91.1L478.8 89.0L481.8 88.7L484.9 88.1L484.6 85.8L485.1 83.5L486.8 80.7L487.2 78.7L489.9 76.6L491.0 76.2L492.9 74.8L494.9 73.6L493.5 72.1L490.8 70.4L489.9 67.9L488.9 64.1L490.0 61.3L492.2 57.2L493.9 55.6L496.8 52.0L497.6 50.6L501.8 47.3L500.5 46.2L501.0 45.2L504.9 42.7L505.9 42.1L511.9 40.6L515.9 38.6L518.9 36.5L522.6 34.8L526.2 32.4L527.2 31.1L526.2 28.8L526.7 27.0L528.3 26.2L526.6 24.7L524.3 24.3L521.2 25.9L519.2 25.9L517.2 24.9L514.0 25.5L513.5 24.5L511.1 23.8L508.1 24.5L503.2 20.0L499.6 19.3L495.6 21.2L492.4 21.3L489.1 19.3L486.5 20.0L484.3 17.9L481.6 17.2L478.4 16.3L476.7 13.6L475.1 13.9ZM517.8 62.3L519.6 63.9L521.8 62.7L522.1 65.1L525.3 66.4L527.5 65.0L530.0 60.5L527.0 59.2L527.1 57.3L525.3 58.1L522.4 58.9L518.3 61.7ZM533.7 56.8L534.0 57.7L536.7 59.0L539.1 58.5L538.3 57.1L535.1 55.9ZM505.7 70.7L506.7 71.8L508.1 71.6L509.2 69.7L508.1 68.8L506.7 69.9ZM507.5 73.7L509.5 74.4L508.6 74.8L507.3 74.2Z" fill="none" stroke="#6f6b52" stroke-width="0.45" stroke-linejoin="round" opacity="0.65"/>
<rect x="391.1" y="4.5" width="152.0" height="108.0" fill="none" stroke="#8f8f8f" stroke-width="1"/>
<line x1="389.1" y1="4.0" x2="391.1" y2="4.0" stroke="#555" stroke-width="0.7"/>
<text x="388.3" y="6.6" class="t" text-anchor="end">44N</text>
<line x1="389.1" y1="30.4" x2="391.1" y2="30.4" stroke="#555" stroke-width="0.7"/>
<text x="388.3" y="33.0" class="t" text-anchor="end">42N</text>
<line x1="389.1" y1="56.8" x2="391.1" y2="56.8" stroke="#555" stroke-width="0.7"/>
<text x="388.3" y="59.4" class="t" text-anchor="end">40N</text>
<line x1="389.1" y1="83.2" x2="391.1" y2="83.2" stroke="#555" stroke-width="0.7"/>
<text x="388.3" y="85.8" class="t" text-anchor="end">38N</text>
<line x1="389.1" y1="109.6" x2="391.1" y2="109.6" stroke="#555" stroke-width="0.7"/>
<text x="388.3" y="112.2" class="t" text-anchor="end">36N</text>
<line x1="406.0" y1="112.5" x2="406.0" y2="114.5" stroke="#555" stroke-width="0.7"/>
<text x="406.0" y="121.9" class="t" text-anchor="middle">8W</text>
<line x1="427.6" y1="112.5" x2="427.6" y2="114.5" stroke="#555" stroke-width="0.7"/>
<text x="427.6" y="121.9" class="t" text-anchor="middle">6W</text>
<line x1="449.2" y1="112.5" x2="449.2" y2="114.5" stroke="#555" stroke-width="0.7"/>
<text x="449.2" y="121.9" class="t" text-anchor="middle">4W</text>
<line x1="470.8" y1="112.5" x2="470.8" y2="114.5" stroke="#555" stroke-width="0.7"/>
<text x="470.8" y="121.9" class="t" text-anchor="middle">2W</text>
<line x1="492.4" y1="112.5" x2="492.4" y2="114.5" stroke="#555" stroke-width="0.7"/>
<text x="492.4" y="121.9" class="t" text-anchor="middle">0</text>
<line x1="514.0" y1="112.5" x2="514.0" y2="114.5" stroke="#555" stroke-width="0.7"/>
<text x="514.0" y="121.9" class="t" text-anchor="middle">2E</text>
<line x1="535.6" y1="112.5" x2="535.6" y2="114.5" stroke="#555" stroke-width="0.7"/>
<text x="535.6" y="121.9" class="t" text-anchor="middle">4E</text>
<defs><linearGradient id="g2" x1="0" x2="1" y1="0" y2="0"><stop offset="0.000" stop-color="#ffffe5"/><stop offset="0.050" stop-color="#fffcd7"/><stop offset="0.100" stop-color="#fff9c7"/><stop offset="0.150" stop-color="#fff5b8"/><stop offset="0.200" stop-color="#ffeea8"/><stop offset="0.250" stop-color="#fee697"/><stop offset="0.300" stop-color="#fedc82"/><stop offset="0.350" stop-color="#fed069"/><stop offset="0.400" stop-color="#fec550"/><stop offset="0.450" stop-color="#feb541"/><stop offset="0.500" stop-color="#fea433"/><stop offset="0.550" stop-color="#fd9627"/><stop offset="0.600" stop-color="#f6861f"/><stop offset="0.650" stop-color="#ef7718"/><stop offset="0.700" stop-color="#e56910"/><stop offset="0.750" stop-color="#d95b09"/><stop offset="0.800" stop-color="#cd4d03"/><stop offset="0.850" stop-color="#bb4403"/><stop offset="0.900" stop-color="#a83b03"/><stop offset="0.950" stop-color="#943304"/><stop offset="1.000" stop-color="#812d05"/></linearGradient></defs>
<rect x="397.5" y="126.5" width="139.4" height="3.9" fill="url(#g2)"/>
<path d="M397.8 126.5 L390.4 128.4 L397.8 130.4 Z" fill="#fffddc"/>
<path d="M536.6 126.5 L543.9 128.4 L536.6 130.4 Z" fill="#712806"/>
<path d="M397.5 126.5L390.4 128.4L397.5 130.4L536.9 130.4L543.9 128.4L536.9 126.5Z" fill="none" stroke="#3a3a3a" stroke-width="0.55"/>
<line x1="397.5" y1="130.4" x2="397.5" y2="132.0" stroke="#444" stroke-width="0.6"/>
<text x="397.5" y="139.3" class="t" text-anchor="middle">15</text>
<line x1="425.4" y1="130.4" x2="425.4" y2="132.0" stroke="#444" stroke-width="0.6"/>
<text x="425.4" y="139.3" class="t" text-anchor="middle">30</text>
<line x1="453.3" y1="130.4" x2="453.3" y2="132.0" stroke="#444" stroke-width="0.6"/>
<text x="453.3" y="139.3" class="t" text-anchor="middle">45</text>
<line x1="481.1" y1="130.4" x2="481.1" y2="132.0" stroke="#444" stroke-width="0.6"/>
<text x="481.1" y="139.3" class="t" text-anchor="middle">60</text>
<line x1="509.0" y1="130.4" x2="509.0" y2="132.0" stroke="#444" stroke-width="0.6"/>
<text x="509.0" y="139.3" class="t" text-anchor="middle">75</text>
<line x1="536.9" y1="130.4" x2="536.9" y2="132.0" stroke="#444" stroke-width="0.6"/>
<text x="536.9" y="139.3" class="t" text-anchor="middle">90</text>
<text x="467.0" y="150.4" class="t2" text-anchor="middle">Overestimation rate [%]</text>
<g shape-rendering="crispEdges"><path fill="#feeba2" d="M25 171h3v3h-3zM82 195h3v3h-3zM88 204h3v3h-3zM82 234h3v3h-3zM73 243h3v3h-3zM58 252h3v3h-3z"/><path fill="#fee595" d="M28 168h3v3h-3zM58 168h3v3h-3zM28 171h3v3h-3zM40 171h3v3h-3zM130 171h3v3h-3zM148 180h3v3h-3zM130 183h3v3h-3zM94 198h3v3h-3zM97 198h3v3h-3zM100 207h3v3h-3zM112 207h3v3h-3zM85 210h3v3h-3zM46 213h3v3h-3zM88 219h3v3h-3zM103 219h3v3h-3zM88 222h3v3h-3zM91 222h3v3h-3zM100 222h3v3h-3zM85 231h3v3h-3zM88 231h3v3h-3zM85 237h3v3h-3zM100 237h3v3h-3z"/><path fill="#fedc82" d="M37 162h3v3h-3zM34 165h3v3h-3zM49 165h3v3h-3zM58 165h3v3h-3zM25 168h3v3h-3zM61 168h3v3h-3zM28 174h3v3h-3zM31 174h3v3h-3zM121 174h3v3h-3zM130 174h3v3h-3zM133 174h3v3h-3zM31 177h3v3h-3zM130 180h3v3h-3zM136 180h3v3h-3zM145 180h3v3h-3zM67 183h3v3h-3zM106 183h3v3h-3zM139 183h3v3h-3zM154 183h3v3h-3zM70 186h3v3h-3zM124 186h3v3h-3zM130 186h3v3h-3zM100 189h3v3h-3zM130 189h3v3h-3zM142 189h3v3h-3zM73 192h3v3h-3zM88 195h3v3h-3zM94 195h3v3h-3zM76 198h3v3h-3zM85 198h3v3h-3zM91 198h3v3h-3zM79 201h3v3h-3zM88 201h3v3h-3zM85 204h3v3h-3zM103 204h3v3h-3zM79 207h3v3h-3zM82 207h3v3h-3zM91 207h3v3h-3zM121 207h3v3h-3zM148 207h3v3h-3zM166 207h3v3h-3zM97 210h3v3h-3zM103 210h3v3h-3zM148 210h3v3h-3zM151 210h3v3h-3zM157 210h3v3h-3zM70 213h3v3h-3zM88 213h3v3h-3zM100 213h3v3h-3zM112 213h3v3h-3zM145 213h3v3h-3zM148 213h3v3h-3zM85 216h3v3h-3zM100 216h3v3h-3zM115 216h3v3h-3zM151 216h3v3h-3zM100 219h3v3h-3zM109 219h3v3h-3zM82 222h3v3h-3zM94 222h3v3h-3zM76 228h3v3h-3zM85 228h3v3h-3zM82 231h3v3h-3zM91 231h3v3h-3zM67 234h3v3h-3zM79 234h3v3h-3zM64 237h3v3h-3zM73 237h3v3h-3zM79 237h3v3h-3zM94 237h3v3h-3zM49 240h3v3h-3zM52 243h3v3h-3zM67 243h3v3h-3zM85 243h3v3h-3zM94 243h3v3h-3zM97 243h3v3h-3zM82 246h3v3h-3zM85 246h3v3h-3zM88 246h3v3h-3zM67 252h3v3h-3z"/><path fill="#fed26d" d="M55 162h3v3h-3zM40 165h3v3h-3zM46 165h3v3h-3zM55 165h3v3h-3zM52 168h3v3h-3zM55 168h3v3h-3zM37 171h3v3h-3zM61 171h3v3h-3zM43 174h3v3h-3zM34 177h3v3h-3zM88 177h3v3h-3zM112 177h3v3h-3zM133 177h3v3h-3zM136 177h3v3h-3zM148 177h3v3h-3zM31 180h3v3h-3zM37 180h3v3h-3zM133 180h3v3h-3zM154 180h3v3h-3zM28 183h3v3h-3zM40 183h3v3h-3zM142 183h3v3h-3zM109 186h3v3h-3zM85 189h3v3h-3zM91 189h3v3h-3zM106 189h3v3h-3zM139 189h3v3h-3zM82 192h3v3h-3zM97 192h3v3h-3zM103 192h3v3h-3zM118 195h3v3h-3zM130 195h3v3h-3zM79 198h3v3h-3zM127 198h3v3h-3zM76 201h3v3h-3zM85 201h3v3h-3zM94 201h3v3h-3zM97 201h3v3h-3zM109 201h3v3h-3zM112 201h3v3h-3zM79 204h3v3h-3zM100 204h3v3h-3zM85 207h3v3h-3zM94 207h3v3h-3zM97 207h3v3h-3zM43 210h3v3h-3zM79 210h3v3h-3zM106 210h3v3h-3zM112 210h3v3h-3zM67 213h3v3h-3zM76 213h3v3h-3zM85 213h3v3h-3zM79 216h3v3h-3zM91 216h3v3h-3zM103 216h3v3h-3zM70 219h3v3h-3zM79 219h3v3h-3zM106 219h3v3h-3zM73 222h3v3h-3zM70 225h3v3h-3zM76 225h3v3h-3zM85 225h3v3h-3zM49 228h3v3h-3zM70 228h3v3h-3zM58 231h3v3h-3zM70 231h3v3h-3zM49 234h3v3h-3zM64 234h3v3h-3zM70 234h3v3h-3zM85 234h3v3h-3zM88 234h3v3h-3zM88 237h3v3h-3zM109 237h3v3h-3zM55 240h3v3h-3zM73 240h3v3h-3zM88 240h3v3h-3zM91 240h3v3h-3zM94 240h3v3h-3zM76 243h3v3h-3zM82 243h3v3h-3zM88 243h3v3h-3zM100 243h3v3h-3zM94 246h3v3h-3zM64 249h3v3h-3zM64 252h3v3h-3zM61 255h3v3h-3zM67 255h3v3h-3z"/><path fill="#fec857" d="M40 159h3v3h-3zM43 162h3v3h-3zM61 162h3v3h-3zM34 168h3v3h-3zM37 168h3v3h-3zM40 168h3v3h-3zM46 168h3v3h-3zM70 168h3v3h-3zM31 171h3v3h-3zM49 171h3v3h-3zM82 171h3v3h-3zM127 174h3v3h-3zM40 177h3v3h-3zM46 177h3v3h-3zM49 177h3v3h-3zM67 177h3v3h-3zM130 177h3v3h-3zM142 177h3v3h-3zM151 177h3v3h-3zM40 180h3v3h-3zM52 180h3v3h-3zM55 180h3v3h-3zM124 180h3v3h-3zM127 180h3v3h-3zM151 180h3v3h-3zM37 183h3v3h-3zM73 183h3v3h-3zM124 183h3v3h-3zM148 183h3v3h-3zM151 183h3v3h-3zM82 186h3v3h-3zM88 186h3v3h-3zM121 186h3v3h-3zM133 186h3v3h-3zM136 186h3v3h-3zM142 186h3v3h-3zM67 189h3v3h-3zM88 189h3v3h-3zM103 189h3v3h-3zM88 192h3v3h-3zM94 192h3v3h-3zM121 192h3v3h-3zM124 192h3v3h-3zM127 192h3v3h-3zM139 192h3v3h-3zM64 195h3v3h-3zM85 195h3v3h-3zM103 195h3v3h-3zM106 195h3v3h-3zM124 195h3v3h-3zM88 198h3v3h-3zM100 198h3v3h-3zM124 198h3v3h-3zM82 201h3v3h-3zM91 201h3v3h-3zM106 201h3v3h-3zM118 201h3v3h-3zM121 201h3v3h-3zM58 204h3v3h-3zM82 204h3v3h-3zM97 204h3v3h-3zM112 204h3v3h-3zM118 204h3v3h-3zM121 204h3v3h-3zM88 207h3v3h-3zM109 207h3v3h-3zM151 207h3v3h-3zM70 210h3v3h-3zM82 210h3v3h-3zM88 210h3v3h-3zM91 210h3v3h-3zM163 210h3v3h-3zM64 213h3v3h-3zM91 213h3v3h-3zM109 213h3v3h-3zM118 213h3v3h-3zM157 213h3v3h-3zM97 216h3v3h-3zM106 216h3v3h-3zM112 216h3v3h-3zM85 219h3v3h-3zM94 219h3v3h-3zM136 219h3v3h-3zM109 222h3v3h-3zM136 222h3v3h-3zM79 225h3v3h-3zM94 225h3v3h-3zM97 225h3v3h-3zM100 225h3v3h-3zM103 225h3v3h-3zM118 225h3v3h-3zM67 228h3v3h-3zM73 228h3v3h-3zM91 228h3v3h-3zM94 228h3v3h-3zM97 228h3v3h-3zM103 228h3v3h-3zM106 228h3v3h-3zM115 228h3v3h-3zM55 231h3v3h-3zM64 231h3v3h-3zM97 231h3v3h-3zM58 234h3v3h-3zM73 234h3v3h-3zM91 234h3v3h-3zM100 234h3v3h-3zM43 237h3v3h-3zM49 237h3v3h-3zM55 237h3v3h-3zM61 237h3v3h-3zM70 237h3v3h-3zM76 237h3v3h-3zM91 237h3v3h-3zM97 237h3v3h-3zM46 240h3v3h-3zM70 240h3v3h-3zM82 240h3v3h-3zM85 240h3v3h-3zM103 240h3v3h-3zM55 243h3v3h-3zM58 243h3v3h-3zM70 243h3v3h-3zM91 243h3v3h-3zM61 246h3v3h-3zM64 246h3v3h-3zM58 249h3v3h-3zM67 249h3v3h-3zM73 249h3v3h-3zM61 252h3v3h-3z"/><path fill="#febb47" d="M40 162h3v3h-3zM49 162h3v3h-3zM58 162h3v3h-3zM31 165h3v3h-3zM37 165h3v3h-3zM67 165h3v3h-3zM88 165h3v3h-3zM43 168h3v3h-3zM64 168h3v3h-3zM88 168h3v3h-3zM46 171h3v3h-3zM55 171h3v3h-3zM58 171h3v3h-3zM67 171h3v3h-3zM85 171h3v3h-3zM88 171h3v3h-3zM115 171h3v3h-3zM40 174h3v3h-3zM46 174h3v3h-3zM61 174h3v3h-3zM94 174h3v3h-3zM115 174h3v3h-3zM118 174h3v3h-3zM37 177h3v3h-3zM52 177h3v3h-3zM61 177h3v3h-3zM64 177h3v3h-3zM115 177h3v3h-3zM118 177h3v3h-3zM124 177h3v3h-3zM139 177h3v3h-3zM145 177h3v3h-3zM34 180h3v3h-3zM43 180h3v3h-3zM46 180h3v3h-3zM61 180h3v3h-3zM67 180h3v3h-3zM70 180h3v3h-3zM73 180h3v3h-3zM115 180h3v3h-3zM61 183h3v3h-3zM112 183h3v3h-3zM115 183h3v3h-3zM127 183h3v3h-3zM133 183h3v3h-3zM64 186h3v3h-3zM79 186h3v3h-3zM91 186h3v3h-3zM97 186h3v3h-3zM106 186h3v3h-3zM115 186h3v3h-3zM118 186h3v3h-3zM139 186h3v3h-3zM148 186h3v3h-3zM55 189h3v3h-3zM64 189h3v3h-3zM94 189h3v3h-3zM97 189h3v3h-3zM127 189h3v3h-3zM133 189h3v3h-3zM58 192h3v3h-3zM61 192h3v3h-3zM64 192h3v3h-3zM67 192h3v3h-3zM112 192h3v3h-3zM115 192h3v3h-3zM136 192h3v3h-3zM76 195h3v3h-3zM100 195h3v3h-3zM112 195h3v3h-3zM67 198h3v3h-3zM73 198h3v3h-3zM103 198h3v3h-3zM106 198h3v3h-3zM115 198h3v3h-3zM121 198h3v3h-3zM124 201h3v3h-3zM91 204h3v3h-3zM106 204h3v3h-3zM115 204h3v3h-3zM64 207h3v3h-3zM70 207h3v3h-3zM127 207h3v3h-3zM163 207h3v3h-3zM94 210h3v3h-3zM100 210h3v3h-3zM109 210h3v3h-3zM154 210h3v3h-3zM94 213h3v3h-3zM103 213h3v3h-3zM115 213h3v3h-3zM154 213h3v3h-3zM46 216h3v3h-3zM64 216h3v3h-3zM67 216h3v3h-3zM73 216h3v3h-3zM88 216h3v3h-3zM94 216h3v3h-3zM109 216h3v3h-3zM67 219h3v3h-3zM73 219h3v3h-3zM112 219h3v3h-3zM58 222h3v3h-3zM85 222h3v3h-3zM112 222h3v3h-3zM133 222h3v3h-3zM58 225h3v3h-3zM73 225h3v3h-3zM82 225h3v3h-3zM91 225h3v3h-3zM109 225h3v3h-3zM64 228h3v3h-3zM46 231h3v3h-3zM67 231h3v3h-3zM73 231h3v3h-3zM76 231h3v3h-3zM94 231h3v3h-3zM46 234h3v3h-3zM52 234h3v3h-3zM94 234h3v3h-3zM103 234h3v3h-3zM46 237h3v3h-3zM58 237h3v3h-3zM82 237h3v3h-3zM52 240h3v3h-3zM61 240h3v3h-3zM67 240h3v3h-3zM76 240h3v3h-3zM100 240h3v3h-3zM61 243h3v3h-3zM79 243h3v3h-3zM55 246h3v3h-3zM58 246h3v3h-3zM76 246h3v3h-3zM97 246h3v3h-3zM67 258h3v3h-3z"/><path fill="#feae3b" d="M46 162h3v3h-3zM52 162h3v3h-3zM43 165h3v3h-3zM52 165h3v3h-3zM61 165h3v3h-3zM64 165h3v3h-3zM76 165h3v3h-3zM97 165h3v3h-3zM49 168h3v3h-3zM67 168h3v3h-3zM76 168h3v3h-3zM79 168h3v3h-3zM85 168h3v3h-3zM97 168h3v3h-3zM43 171h3v3h-3zM64 171h3v3h-3zM70 171h3v3h-3zM76 171h3v3h-3zM127 171h3v3h-3zM34 174h3v3h-3zM37 174h3v3h-3zM49 174h3v3h-3zM52 174h3v3h-3zM55 174h3v3h-3zM64 174h3v3h-3zM70 174h3v3h-3zM76 174h3v3h-3zM82 174h3v3h-3zM85 174h3v3h-3zM58 177h3v3h-3zM70 177h3v3h-3zM82 177h3v3h-3zM106 177h3v3h-3zM109 177h3v3h-3zM121 177h3v3h-3zM49 180h3v3h-3zM64 180h3v3h-3zM76 180h3v3h-3zM79 180h3v3h-3zM109 180h3v3h-3zM118 180h3v3h-3zM121 180h3v3h-3zM139 180h3v3h-3zM142 180h3v3h-3zM46 183h3v3h-3zM58 183h3v3h-3zM76 183h3v3h-3zM82 183h3v3h-3zM85 183h3v3h-3zM94 183h3v3h-3zM100 183h3v3h-3zM109 183h3v3h-3zM145 183h3v3h-3zM55 186h3v3h-3zM61 186h3v3h-3zM67 186h3v3h-3zM85 186h3v3h-3zM100 186h3v3h-3zM103 186h3v3h-3zM58 189h3v3h-3zM76 189h3v3h-3zM79 189h3v3h-3zM82 189h3v3h-3zM109 189h3v3h-3zM112 189h3v3h-3zM118 189h3v3h-3zM124 189h3v3h-3zM136 189h3v3h-3zM52 192h3v3h-3zM76 192h3v3h-3zM79 192h3v3h-3zM85 192h3v3h-3zM91 192h3v3h-3zM118 192h3v3h-3zM49 195h3v3h-3zM91 195h3v3h-3zM127 195h3v3h-3zM55 198h3v3h-3zM64 198h3v3h-3zM70 198h3v3h-3zM82 198h3v3h-3zM52 201h3v3h-3zM55 201h3v3h-3zM64 201h3v3h-3zM67 201h3v3h-3zM73 201h3v3h-3zM100 201h3v3h-3zM103 201h3v3h-3zM76 204h3v3h-3zM109 204h3v3h-3zM160 204h3v3h-3zM163 204h3v3h-3zM49 207h3v3h-3zM73 207h3v3h-3zM76 207h3v3h-3zM106 207h3v3h-3zM118 207h3v3h-3zM160 207h3v3h-3zM46 210h3v3h-3zM76 210h3v3h-3zM73 213h3v3h-3zM97 213h3v3h-3zM151 213h3v3h-3zM118 216h3v3h-3zM148 216h3v3h-3zM52 219h3v3h-3zM58 219h3v3h-3zM76 219h3v3h-3zM82 219h3v3h-3zM64 222h3v3h-3zM67 222h3v3h-3zM70 222h3v3h-3zM76 222h3v3h-3zM79 222h3v3h-3zM103 222h3v3h-3zM106 222h3v3h-3zM49 225h3v3h-3zM67 225h3v3h-3zM112 225h3v3h-3zM115 225h3v3h-3zM55 228h3v3h-3zM61 228h3v3h-3zM79 228h3v3h-3zM82 228h3v3h-3zM88 228h3v3h-3zM79 231h3v3h-3zM100 231h3v3h-3zM76 234h3v3h-3zM97 234h3v3h-3zM52 237h3v3h-3zM64 240h3v3h-3zM97 240h3v3h-3zM64 243h3v3h-3zM70 246h3v3h-3zM73 246h3v3h-3zM91 246h3v3h-3zM64 255h3v3h-3zM64 258h3v3h-3z"/><path fill="#fea030" d="M64 162h3v3h-3zM79 165h3v3h-3zM82 165h3v3h-3zM85 165h3v3h-3zM103 165h3v3h-3zM31 168h3v3h-3zM73 168h3v3h-3zM82 168h3v3h-3zM100 168h3v3h-3zM34 171h3v3h-3zM79 171h3v3h-3zM91 171h3v3h-3zM94 171h3v3h-3zM109 171h3v3h-3zM58 174h3v3h-3zM79 174h3v3h-3zM109 174h3v3h-3zM112 174h3v3h-3zM124 174h3v3h-3zM43 177h3v3h-3zM127 177h3v3h-3zM85 180h3v3h-3zM97 180h3v3h-3zM103 180h3v3h-3zM106 180h3v3h-3zM112 180h3v3h-3zM43 183h3v3h-3zM49 183h3v3h-3zM52 183h3v3h-3zM64 183h3v3h-3zM97 183h3v3h-3zM103 183h3v3h-3zM118 183h3v3h-3zM58 186h3v3h-3zM76 186h3v3h-3zM94 186h3v3h-3zM145 186h3v3h-3zM61 189h3v3h-3zM73 189h3v3h-3zM121 189h3v3h-3zM55 192h3v3h-3zM70 192h3v3h-3zM100 192h3v3h-3zM109 192h3v3h-3zM130 192h3v3h-3zM55 195h3v3h-3zM58 195h3v3h-3zM61 195h3v3h-3zM67 195h3v3h-3zM73 195h3v3h-3zM79 195h3v3h-3zM112 198h3v3h-3zM70 201h3v3h-3zM52 204h3v3h-3zM61 204h3v3h-3zM73 204h3v3h-3zM67 207h3v3h-3zM103 207h3v3h-3zM115 207h3v3h-3zM154 207h3v3h-3zM52 210h3v3h-3zM61 210h3v3h-3zM67 210h3v3h-3zM73 210h3v3h-3zM115 210h3v3h-3zM118 210h3v3h-3zM145 210h3v3h-3zM82 213h3v3h-3zM106 213h3v3h-3zM49 216h3v3h-3zM52 216h3v3h-3zM58 216h3v3h-3zM61 216h3v3h-3zM154 216h3v3h-3zM61 219h3v3h-3zM64 219h3v3h-3zM91 219h3v3h-3zM97 219h3v3h-3zM115 219h3v3h-3zM49 222h3v3h-3zM97 222h3v3h-3zM118 222h3v3h-3zM46 225h3v3h-3zM55 225h3v3h-3zM61 225h3v3h-3zM64 225h3v3h-3zM88 225h3v3h-3zM106 225h3v3h-3zM52 228h3v3h-3zM58 228h3v3h-3zM61 231h3v3h-3zM55 234h3v3h-3zM106 234h3v3h-3zM112 234h3v3h-3zM103 237h3v3h-3zM58 240h3v3h-3zM79 240h3v3h-3zM67 246h3v3h-3zM55 249h3v3h-3zM70 249h3v3h-3z"/><path fill="#fb9225" d="M70 165h3v3h-3zM91 165h3v3h-3zM94 165h3v3h-3zM100 165h3v3h-3zM94 168h3v3h-3zM106 168h3v3h-3zM73 171h3v3h-3zM106 171h3v3h-3zM112 171h3v3h-3zM73 174h3v3h-3zM91 174h3v3h-3zM103 174h3v3h-3zM106 174h3v3h-3zM76 177h3v3h-3zM79 177h3v3h-3zM85 177h3v3h-3zM91 177h3v3h-3zM100 177h3v3h-3zM58 180h3v3h-3zM91 180h3v3h-3zM100 180h3v3h-3zM79 183h3v3h-3zM88 183h3v3h-3zM121 183h3v3h-3zM73 186h3v3h-3zM127 186h3v3h-3zM70 189h3v3h-3zM106 192h3v3h-3zM133 192h3v3h-3zM115 195h3v3h-3zM52 198h3v3h-3zM61 198h3v3h-3zM109 198h3v3h-3zM58 201h3v3h-3zM55 204h3v3h-3zM64 204h3v3h-3zM67 204h3v3h-3zM52 207h3v3h-3zM55 207h3v3h-3zM49 210h3v3h-3zM58 210h3v3h-3zM64 210h3v3h-3zM49 213h3v3h-3zM58 213h3v3h-3zM82 216h3v3h-3zM133 219h3v3h-3zM46 222h3v3h-3zM52 222h3v3h-3zM61 222h3v3h-3zM121 222h3v3h-3zM52 225h3v3h-3zM46 228h3v3h-3zM100 228h3v3h-3zM109 228h3v3h-3zM112 228h3v3h-3zM49 231h3v3h-3zM112 231h3v3h-3zM61 234h3v3h-3zM79 246h3v3h-3z"/><path fill="#f5851f" d="M73 165h3v3h-3zM91 168h3v3h-3zM118 171h3v3h-3zM67 174h3v3h-3zM94 177h3v3h-3zM82 180h3v3h-3zM88 180h3v3h-3zM94 180h3v3h-3zM136 183h3v3h-3zM52 195h3v3h-3zM70 195h3v3h-3zM97 195h3v3h-3zM109 195h3v3h-3zM121 195h3v3h-3zM58 198h3v3h-3zM49 201h3v3h-3zM115 201h3v3h-3zM49 204h3v3h-3zM58 207h3v3h-3zM61 207h3v3h-3zM52 213h3v3h-3zM55 216h3v3h-3zM118 219h3v3h-3zM55 222h3v3h-3zM106 231h3v3h-3zM109 231h3v3h-3zM109 234h3v3h-3zM106 237h3v3h-3z"/><path fill="#f07818" d="M52 171h3v3h-3zM97 171h3v3h-3zM103 171h3v3h-3zM88 174h3v3h-3zM73 177h3v3h-3zM97 177h3v3h-3zM154 177h3v3h-3zM55 183h3v3h-3zM70 183h3v3h-3zM91 183h3v3h-3zM70 204h3v3h-3zM55 210h3v3h-3zM55 213h3v3h-3zM61 213h3v3h-3zM55 219h3v3h-3zM52 231h3v3h-3zM61 249h3v3h-3z"/><path fill="#e86c12" d="M103 168h3v3h-3zM97 174h3v3h-3zM115 189h3v3h-3zM118 198h3v3h-3zM70 216h3v3h-3zM76 216h3v3h-3zM115 222h3v3h-3zM91 259h3v3h-3z"/><path fill="#dd5f0c" d="M100 171h3v3h-3zM100 174h3v3h-3zM55 177h3v3h-3zM103 177h3v3h-3zM112 186h3v3h-3zM61 201h3v3h-3zM94 204h3v3h-3zM103 231h3v3h-3z"/><path fill="#d35406" d="M49 219h3v3h-3z"/><path fill="#c84a02" d="M43 240h3v3h-3z"/></g>
<path d="M49.1 164.2L49.5 168.4L51.1 172.1L49.5 174.6L51.1 177.0L49.5 180.7L50.6 183.9M50.1 170.2L54.7 170.8L59.9 170.8L65.0 170.2L70.2 169.0L73.3 167.8L75.4 165.9M73.3 167.8L76.4 170.8L80.5 172.7L83.6 172.7L85.7 170.8L88.8 169.6L89.3 166.5M88.8 169.6L90.9 172.1L91.9 175.8L96.0 177.0L99.1 175.8L101.2 173.9L100.2 170.8L103.3 168.4L103.8 166.8M90.9 175.2L89.8 178.3L91.9 182.0L96.0 183.2L100.2 183.8L102.7 183.2L104.3 180.7L101.2 177.6M114.1 171.5L111.5 174.6L110.5 178.3L107.4 182.0L104.3 183.8M104.3 183.8L102.2 188.1L100.2 191.8L102.2 195.6L105.3 200.5L105.3 205.4L108.4 207.9M129.1 172.7L128.6 177.0L126.0 183.2L125.5 188.1L123.9 191.8L125.5 196.8L123.9 200.5M123.9 200.5L119.8 199.3L115.7 201.7L113.6 206.7L108.4 207.9M123.9 200.5L127.0 201.5M51.6 203.6L57.8 204.2L65.0 205.4L70.2 205.4L75.4 204.2M75.4 204.2L78.5 200.5L81.6 197.4L85.7 193.7L88.8 194.3L90.3 198.0L89.8 203.0L90.9 206.7L85.7 207.9L79.5 207.3L75.4 204.2M85.7 193.7L90.9 192.5L96.0 191.8L100.2 191.8M70.2 205.4L67.1 210.4L70.2 215.3L67.1 220.2L70.2 224.0M70.2 224.0L65.0 227.7L59.9 231.4L54.7 232.6L49.5 232.0M70.2 224.0L75.4 226.4L80.5 228.3L85.7 227.7L90.9 227.0L96.0 228.9L98.1 231.4M98.1 231.4L102.2 227.7L106.4 225.2L110.5 226.4M98.1 231.4L101.2 235.1L103.3 238.8L105.1 240.3M110.5 226.4L111.5 230.1L113.6 233.8L114.6 234.5M110.5 226.4L111.5 221.5L108.4 216.5L106.4 212.8L109.5 209.1L108.4 207.9M103.5 166.3L101.4 166.9L99.1 167.0L96.9 166.9L93.4 165.3L90.3 166.5L88.6 166.0L86.2 165.3L82.7 164.8L77.5 166.0L72.8 165.7L69.6 165.0L63.4 164.1L61.4 162.7L60.6 163.6L58.3 163.8L54.3 164.1L49.1 164.2L46.9 163.8L45.8 162.7L42.4 161.1L40.6 161.3L38.7 162.7L35.9 163.8L36.6 165.0L35.1 166.2L30.8 166.8L29.0 168.1L26.7 168.9L26.6 169.6L25.8 170.2L26.1 172.3L26.9 171.6L27.6 173.1L28.3 173.7L28.1 176.0L29.0 176.4L31.3 175.8L30.2 177.1L30.8 178.3L32.5 177.9L30.2 180.1L31.8 180.2L30.4 181.7L30.2 184.8L32.5 183.0L34.6 182.2L37.5 181.3L38.4 182.6L37.1 184.4L40.2 184.9L43.3 185.3L45.2 185.2L48.0 183.3L50.6 183.9L53.9 183.7L54.2 187.3L56.9 188.4L57.9 188.4L55.9 190.9L53.2 192.6L51.6 194.9L50.3 195.3L51.6 197.4L51.6 201.7L51.1 204.6L50.1 206.4L49.3 208.1L50.8 209.5L49.3 212.0L46.1 212.3L44.1 212.1L46.4 214.7L47.2 216.8L49.0 219.0L50.1 220.9L49.0 221.9L47.5 223.3L46.4 227.0L48.5 230.4L50.3 230.0L49.5 232.4L47.0 232.8L44.4 238.2L44.9 240.0L45.4 242.7L46.2 242.6L50.1 242.5L51.6 243.3L54.2 244.9L56.2 247.5L55.4 248.2L56.2 249.6L56.8 250.8L58.1 252.6L59.6 255.1L60.7 255.0L63.9 257.2L65.6 255.7L66.6 255.8L68.7 252.1L71.4 251.0L74.1 250.6L76.2 248.5L81.8 248.0L85.5 248.4L90.7 248.2L94.9 247.9L96.4 247.0L99.2 248.4L102.2 245.1L103.0 242.7L105.5 240.0L108.8 238.0L111.7 237.8L114.7 237.2L114.4 235.1L114.8 232.8L116.5 230.3L116.9 228.4L119.5 226.4L120.5 226.1L122.4 224.7L124.2 223.6L122.9 222.2L120.3 220.6L119.5 218.3L118.5 214.7L119.6 212.1L121.6 208.3L123.3 206.8L126.1 203.5L126.8 202.1L130.8 199.0L129.6 198.0L130.1 197.0L133.8 194.7L134.8 194.2L140.5 192.7L144.4 190.9L147.2 188.9L150.8 187.3L154.2 185.1L155.1 183.8L154.2 181.7L154.7 180.0L156.1 179.2L154.6 177.9L152.3 177.5L149.4 179.0L147.5 179.0L145.6 178.0L142.5 178.6L142.0 177.6L139.7 177.0L136.8 177.6L132.2 173.4L128.8 172.8L124.9 174.6L121.8 174.7L118.6 172.8L116.2 173.4L114.1 171.5L111.5 170.8L108.4 170.0L106.9 167.5L105.3 167.8ZM146.1 213.1L147.9 214.6L149.9 213.5L150.3 215.7L153.4 216.9L155.4 215.6L157.8 211.4L154.9 210.1L155.0 208.4L153.4 209.1L150.6 209.9L146.6 212.5ZM161.3 207.9L161.6 208.8L164.2 210.0L166.5 209.5L165.8 208.1L162.7 207.0ZM134.6 220.9L135.5 222.0L136.8 221.7L138.0 220.0L136.8 219.1L135.5 220.1ZM136.3 223.7L138.2 224.3L137.3 224.7L136.1 224.2Z" fill="none" stroke="#6f6b52" stroke-width="0.45" stroke-linejoin="round" opacity="0.85"/>
<rect x="21.5" y="155.5" width="152.0" height="108.0" fill="none" stroke="#8f8f8f" stroke-width="1"/>
<line x1="19.5" y1="158.5" x2="21.5" y2="158.5" stroke="#555" stroke-width="0.7"/>
<text x="18.7" y="161.1" class="t" text-anchor="end">44N</text>
<line x1="19.5" y1="183.2" x2="21.5" y2="183.2" stroke="#555" stroke-width="0.7"/>
<text x="18.7" y="185.8" class="t" text-anchor="end">42N</text>
<line x1="19.5" y1="207.9" x2="21.5" y2="207.9" stroke="#555" stroke-width="0.7"/>
<text x="18.7" y="210.5" class="t" text-anchor="end">40N</text>
<line x1="19.5" y1="232.6" x2="21.5" y2="232.6" stroke="#555" stroke-width="0.7"/>
<text x="18.7" y="235.2" class="t" text-anchor="end">38N</text>
<line x1="19.5" y1="257.3" x2="21.5" y2="257.3" stroke="#555" stroke-width="0.7"/>
<text x="18.7" y="259.9" class="t" text-anchor="end">36N</text>
<line x1="39.2" y1="263.5" x2="39.2" y2="265.5" stroke="#555" stroke-width="0.7"/>
<text x="39.2" y="272.9" class="t" text-anchor="middle">8W</text>
<line x1="59.9" y1="263.5" x2="59.9" y2="265.5" stroke="#555" stroke-width="0.7"/>
<text x="59.9" y="272.9" class="t" text-anchor="middle">6W</text>
<line x1="80.5" y1="263.5" x2="80.5" y2="265.5" stroke="#555" stroke-width="0.7"/>
<text x="80.5" y="272.9" class="t" text-anchor="middle">4W</text>
<line x1="101.2" y1="263.5" x2="101.2" y2="265.5" stroke="#555" stroke-width="0.7"/>
<text x="101.2" y="272.9" class="t" text-anchor="middle">2W</text>
<line x1="121.8" y1="263.5" x2="121.8" y2="265.5" stroke="#555" stroke-width="0.7"/>
<text x="121.8" y="272.9" class="t" text-anchor="middle">0</text>
<line x1="142.5" y1="263.5" x2="142.5" y2="265.5" stroke="#555" stroke-width="0.7"/>
<text x="142.5" y="272.9" class="t" text-anchor="middle">2E</text>
<line x1="163.2" y1="263.5" x2="163.2" y2="265.5" stroke="#555" stroke-width="0.7"/>
<text x="163.2" y="272.9" class="t" text-anchor="middle">4E</text>
<defs><linearGradient id="g3" x1="0" x2="1" y1="0" y2="0"><stop offset="0.000" stop-color="#ffffe5"/><stop offset="0.050" stop-color="#fffcd7"/><stop offset="0.100" stop-color="#fff9c7"/><stop offset="0.150" stop-color="#fff5b8"/><stop offset="0.200" stop-color="#ffeea8"/><stop offset="0.250" stop-color="#fee697"/><stop offset="0.300" stop-color="#fedc82"/><stop offset="0.350" stop-color="#fed069"/><stop offset="0.400" stop-color="#fec550"/><stop offset="0.450" stop-color="#feb541"/><stop offset="0.500" stop-color="#fea433"/><stop offset="0.550" stop-color="#fd9627"/><stop offset="0.600" stop-color="#f6861f"/><stop offset="0.650" stop-color="#ef7718"/><stop offset="0.700" stop-color="#e56910"/><stop offset="0.750" stop-color="#d95b09"/><stop offset="0.800" stop-color="#cd4d03"/><stop offset="0.850" stop-color="#bb4403"/><stop offset="0.900" stop-color="#a83b03"/><stop offset="0.950" stop-color="#943304"/><stop offset="1.000" stop-color="#812d05"/></linearGradient></defs>
<rect x="27.9" y="277.5" width="139.4" height="3.9" fill="url(#g3)"/>
<path d="M28.2 277.5 L20.8 279.4 L28.2 281.4 Z" fill="#fffddc"/>
<path d="M167.0 277.5 L174.3 279.4 L167.0 281.4 Z" fill="#712806"/>
<path d="M27.9 277.5L20.8 279.4L27.9 281.4L167.3 281.4L174.3 279.4L167.3 277.5Z" fill="none" stroke="#3a3a3a" stroke-width="0.55"/>
<line x1="27.9" y1="281.4" x2="27.9" y2="283.0" stroke="#444" stroke-width="0.6"/>
<text x="27.9" y="290.3" class="t" text-anchor="middle">15</text>
<line x1="55.8" y1="281.4" x2="55.8" y2="283.0" stroke="#444" stroke-width="0.6"/>
<text x="55.8" y="290.3" class="t" text-anchor="middle">30</text>
<line x1="83.7" y1="281.4" x2="83.7" y2="283.0" stroke="#444" stroke-width="0.6"/>
<text x="83.7" y="290.3" class="t" text-anchor="middle">45</text>
<line x1="111.5" y1="281.4" x2="111.5" y2="283.0" stroke="#444" stroke-width="0.6"/>
<text x="111.5" y="290.3" class="t" text-anchor="middle">60</text>
<line x1="139.4" y1="281.4" x2="139.4" y2="283.0" stroke="#444" stroke-width="0.6"/>
<text x="139.4" y="290.3" class="t" text-anchor="middle">75</text>
<line x1="167.3" y1="281.4" x2="167.3" y2="283.0" stroke="#444" stroke-width="0.6"/>
<text x="167.3" y="290.3" class="t" text-anchor="middle">90</text>
<text x="97.4" y="301.4" class="t2" text-anchor="middle">Overestimation rate [%]</text>
<g fill="none" stroke-linecap="round" transform="scale(0.5)"><path stroke="#fedc82" stroke-width="6.00" d="M563 392h0M491 431h0"/><path stroke="#fed26d" stroke-width="6.00" d="M563 445h0M520 390h0M607 451h0M534 494h0"/><path stroke="#fec857" stroke-width="6.00" d="M592 380h0M589 403h0M463 350h0M626 355h0M616 390h0M599 413h0M577 371h0M613 416h0M517 446h0M466 430h0M478 390h0"/><path stroke="#febb47" stroke-width="6.00" d="M479 427h0M431 360h0M540 342h0M480 411h0M524 422h0M428 356h0M542 436h0M477 408h0M470 421h0M523 378h0M547 388h0M506 497h0M506 463h0M574 385h0M616 412h0M518 466h0M424 356h0M521 396h0M509 456h0M533 441h0M626 348h0M502 349h0M580 405h0"/><path stroke="#feae3b" stroke-width="6.00" d="M533 430h0M584 332h0M538 467h0M441 350h0M537 409h0M543 453h0M559 397h0M489 487h0M517 440h0M477 487h0M593 373h0M610 390h0M534 424h0M445 360h0M564 366h0M525 349h0M488 498h0M607 401h0M523 497h0M585 419h0M521 351h0M554 497h0M613 350h0M489 461h0M514 446h0M664 369h0M495 514h0M605 380h0M505 493h0M567 454h0M603 429h0M631 343h0M603 389h0M502 407h0M514 484h0M607 391h0M595 403h0M462 480h0M602 447h0M630 359h0M596 439h0M488 484h0M632 371h0M535 444h0M548 450h0M557 372h0M587 413h0M516 410h0M473 466h0M492 444h0M433 351h0M643 443h0M499 525h0"/><path stroke="#fea030" stroke-width="6.00" d="M515 361h0M546 356h0M664 369h0M473 403h0M559 409h0M428 360h0M606 434h0M498 325h0M428 344h0M599 477h0M467 390h0M632 346h0M516 417h0M510 446h0M518 463h0M515 418h0M517 423h0M534 424h0M584 365h0M582 476h0M527 454h0M474 435h0M540 406h0M594 419h0M541 500h0M560 474h0M481 454h0M634 369h0M579 483h0M520 436h0M540 435h0M487 416h0M530 482h0M580 417h0M558 367h0M536 412h0M556 451h0M460 432h0M446 324h0M602 377h0M439 349h0M474 386h0M646 385h0M631 342h0M580 372h0M635 343h0M635 358h0M577 437h0M532 494h0M518 386h0M572 430h0M571 460h0M436 337h0M581 465h0M605 435h0M532 360h0M467 437h0M495 346h0M503 469h0M568 487h0M474 485h0M552 380h0M558 420h0M554 435h0M422 336h0M441 350h0M490 429h0M607 420h0M467 413h0M458 322h0M542 493h0M490 438h0M499 326h0M527 438h0M479 327h0M676 432h0"/><path stroke="#fb9225" stroke-width="6.00" d="M441 340h0M479 424h0M439 347h0M570 456h0M547 443h0M436 351h0M581 477h0M574 352h0M630 374h0M494 512h0M562 454h0M442 332h0M522 386h0M584 343h0M586 337h0M663 367h0M530 484h0M450 317h0M555 459h0M533 476h0M600 441h0M507 479h0M542 353h0M613 370h0M525 436h0M526 469h0M575 474h0M619 365h0M556 352h0M488 412h0M581 401h0M558 384h0M487 499h0M469 333h0M525 482h0M499 378h0M492 349h0M524 390h0M448 365h0M449 338h0M565 406h0M559 413h0M539 371h0M523 403h0M520 418h0M596 462h0M595 455h0M508 424h0M428 345h0M509 446h0M537 480h0M542 433h0M425 362h0M465 339h0M540 383h0M510 372h0M530 327h0M548 497h0M513 425h0M565 472h0M495 339h0M572 415h0M555 434h0M566 458h0M513 368h0M438 339h0M608 383h0M531 425h0M571 429h0M562 432h0M573 427h0M487 377h0M620 390h0M516 481h0M469 431h0M473 408h0M520 436h0M602 372h0M519 370h0M679 366h0M621 374h0M542 354h0M597 347h0M478 463h0M503 370h0M676 419h0M682 422h0M679 433h0"/><path stroke="#f5851f" stroke-width="6.00" d="M562 353h0M440 343h0M477 361h0M528 373h0M494 337h0M489 408h0M566 436h0M463 345h0M494 375h0M526 378h0M534 425h0M526 331h0M574 463h0M559 365h0M508 415h0M580 474h0M642 375h0M487 437h0M465 459h0M503 377h0M669 361h0M528 499h0M623 397h0M576 487h0M524 440h0M580 341h0M519 409h0M523 456h0M613 398h0M542 464h0M647 383h0M477 496h0M594 382h0M559 439h0M548 447h0M515 495h0M576 387h0M537 499h0M579 395h0M605 408h0M468 450h0M519 349h0M554 402h0M621 375h0M493 496h0M505 404h0M517 491h0M509 387h0M506 390h0M591 358h0M488 365h0M596 348h0M523 474h0M464 415h0M617 408h0M680 353h0M479 443h0M467 485h0M526 356h0M530 413h0M508 346h0M519 334h0M459 344h0M642 443h0"/><path stroke="#f07818" stroke-width="6.00" d="M630 395h0M545 458h0M520 355h0M541 351h0M485 349h0M565 359h0M439 335h0M460 348h0M637 389h0M532 417h0M680 353h0M624 356h0M522 441h0M605 390h0M478 384h0M578 349h0M602 370h0M602 401h0M593 468h0M580 384h0M524 498h0M555 480h0M516 330h0M449 359h0M571 391h0M475 335h0M563 449h0M598 359h0M455 357h0M639 372h0M548 380h0M426 356h0M436 340h0M512 492h0M528 331h0M542 365h0M497 408h0M638 347h0M633 372h0M504 487h0M479 483h0M529 414h0M554 357h0M497 430h0M513 466h0M508 496h0M505 387h0M561 472h0M543 427h0M580 395h0M576 459h0M458 426h0M531 465h0M516 432h0M672 364h0M680 364h0M468 325h0M558 353h0M679 359h0M550 333h0M492 354h0M569 346h0M536 346h0M579 416h0M654 369h0M486 326h0M563 367h0M537 347h0M615 359h0M705 416h0M666 426h0"/><path stroke="#e86c12" stroke-width="6.00" d="M553 470h0M490 434h0M469 404h0M580 422h0M536 433h0M494 456h0M451 352h0M492 506h0M662 353h0M552 362h0M465 349h0M470 437h0M486 370h0M527 441h0M628 386h0M535 327h0M531 339h0M583 359h0M568 349h0M631 364h0M582 332h0M526 472h0M493 503h0M498 340h0M624 388h0M485 511h0M589 447h0M635 379h0M527 333h0M627 357h0M627 373h0M580 346h0M556 353h0M457 483h0M700 418h0"/><path stroke="#dd5f0c" stroke-width="6.00" d="M594 396h0M495 327h0M454 356h0M542 339h0M651 370h0M452 338h0M604 372h0M487 488h0M568 386h0M598 470h0M628 348h0M489 425h0M666 371h0M546 403h0M677 353h0"/><path stroke="#d35406" stroke-width="6.00" d="M607 417h0M673 360h0M502 326h0M644 365h0M480 325h0M648 381h0"/><path stroke="#c84a02" stroke-width="6.00" d="M492 457h0M641 373h0"/><path stroke="#963304" stroke-width="6.00" d="M559 352h0"/><path stroke="#fff2b1" stroke-width="6.00" d="M581 410h0"/><path stroke="#fee595" stroke-width="6.00" d="M525 418h0"/><path stroke="#fed26d" stroke-width="6.00" d="M538 410h0M542 426h0"/><path stroke="#fec857" stroke-width="6.00" d="M540 410h0M472 429h0M561 381h0M563 349h0M546 430h0M616 361h0M581 447h0M495 399h0M484 444h0M586 387h0M575 427h0"/><path stroke="#febb47" stroke-width="6.00" d="M523 389h0M529 472h0M478 332h0M477 341h0M581 472h0M616 389h0M542 426h0M597 430h0M491 369h0M563 433h0M608 399h0M456 331h0M481 415h0M556 453h0M590 418h0M608 408h0M564 363h0M547 404h0M512 502h0M616 359h0M641 383h0M507 425h0M585 335h0M618 402h0"/><path stroke="#feae3b" stroke-width="6.00" d="M557 449h0M576 461h0M494 452h0M522 451h0M513 415h0M462 435h0M444 323h0M486 513h0M517 362h0M567 478h0M609 351h0M547 459h0M604 365h0M578 365h0M502 361h0M517 455h0M588 372h0M519 429h0M569 331h0M574 473h0M593 356h0M587 339h0M542 455h0M488 394h0M599 425h0M562 494h0M557 454h0M588 347h0M540 468h0M584 364h0M474 343h0M614 399h0M540 422h0M490 329h0M536 439h0M597 387h0M504 355h0M566 382h0M551 420h0M526 432h0"/><path stroke="#fea030" stroke-width="6.00" d="M595 392h0M669 355h0M593 428h0M507 435h0M591 436h0M553 469h0M680 358h0M553 438h0M488 510h0M583 347h0M491 496h0M472 407h0M661 357h0M572 394h0M544 378h0M540 345h0M519 338h0M550 388h0M457 481h0M446 334h0M479 505h0M595 375h0M520 463h0M619 367h0M506 458h0M495 459h0M599 443h0M634 364h0M598 449h0M473 399h0M526 401h0M479 327h0M474 429h0M445 360h0M427 328h0M493 387h0M556 355h0M503 362h0M568 430h0M489 453h0M493 444h0M611 350h0M498 457h0M428 335h0M607 424h0M514 470h0M461 425h0M583 398h0M504 484h0M548 455h0M641 371h0M511 424h0M564 498h0M463 435h0M583 384h0M537 426h0M492 377h0M570 452h0M536 463h0M508 434h0M592 426h0M552 487h0M587 460h0M604 384h0M501 415h0M480 437h0M526 495h0M528 456h0M563 453h0M485 402h0M470 478h0M470 477h0M578 466h0M548 424h0M433 347h0M565 465h0M620 380h0M613 370h0M511 462h0M601 443h0M557 491h0M683 420h0M501 524h0"/><path stroke="#fb9225" stroke-width="6.00" d="M583 356h0M513 380h0M554 501h0M630 344h0M474 360h0M560 488h0M530 501h0M545 403h0M479 442h0M601 348h0M431 336h0M497 378h0M572 340h0M632 352h0M527 360h0M646 367h0M681 366h0M537 401h0M587 394h0M574 366h0M482 382h0M487 414h0M463 454h0M475 323h0M517 467h0M581 359h0M452 360h0M539 464h0M476 419h0M468 430h0M606 404h0M579 418h0M597 436h0M499 503h0M513 382h0M538 340h0M620 364h0M556 437h0M555 383h0M485 483h0M603 416h0M479 494h0M573 464h0M628 366h0M487 360h0M509 398h0M453 328h0M505 487h0M616 370h0M647 367h0M471 424h0M492 352h0M590 456h0M529 372h0M609 361h0M561 460h0M494 512h0M518 389h0M514 506h0M569 488h0M591 457h0M481 503h0M572 348h0M512 488h0M422 345h0M607 377h0M479 459h0M593 434h0M575 475h0M506 351h0M504 509h0M505 403h0M512 435h0M576 392h0M607 376h0M452 344h0M502 368h0M515 392h0M597 464h0M505 481h0M432 336h0M582 468h0M567 418h0M545 486h0M476 330h0M471 349h0M542 418h0M595 346h0M595 433h0M485 480h0M601 406h0M527 328h0M501 338h0M685 423h0M685 422h0"/><path stroke="#f5851f" stroke-width="6.00" d="M528 336h0M625 379h0M550 490h0M538 479h0M560 470h0M457 365h0M619 380h0M553 385h0M506 508h0M486 476h0M546 436h0M601 378h0M585 386h0M499 396h0M498 376h0M575 393h0M577 356h0M495 482h0M613 351h0M545 449h0M549 446h0M502 377h0M556 482h0M536 342h0M531 491h0M490 425h0M564 403h0M627 397h0M476 341h0M474 330h0M521 384h0M487 456h0M491 331h0M566 398h0M556 345h0M539 465h0M520 419h0M492 405h0M601 456h0M635 349h0M500 430h0M573 439h0M606 374h0M646 355h0M572 415h0M651 371h0M632 350h0M600 454h0M537 395h0M474 430h0M671 366h0M459 475h0M610 395h0M576 473h0M508 386h0M543 477h0M508 417h0M487 478h0M464 359h0M535 364h0M577 458h0M485 465h0M503 338h0M545 486h0M553 385h0M433 353h0M556 464h0M494 467h0M539 411h0M472 398h0M480 354h0M553 455h0M514 350h0M428 349h0M539 378h0M588 437h0M460 341h0M556 432h0M476 332h0"/><path stroke="#f07818" stroke-width="6.00" d="M539 402h0M562 359h0M493 345h0M605 458h0M532 374h0M491 487h0M466 472h0M578 451h0M628 362h0M520 332h0M501 389h0M505 347h0M451 362h0M553 352h0M433 330h0M598 458h0M578 372h0M465 353h0M487 470h0M633 347h0M571 425h0M589 355h0M602 373h0M470 451h0M495 479h0M543 367h0M569 365h0M470 334h0M463 472h0M552 367h0M650 379h0M509 362h0M645 359h0M610 450h0M607 365h0M542 386h0M558 410h0M539 406h0M640 349h0M591 437h0M499 449h0M550 369h0M501 337h0M467 467h0M500 457h0M516 354h0M452 351h0M626 400h0M606 438h0M505 458h0M677 423h0M708 420h0M689 425h0"/><path stroke="#e86c12" stroke-width="6.00" d="M501 468h0M504 393h0M662 353h0M496 508h0M585 465h0M512 414h0M602 433h0M538 435h0M555 362h0M457 339h0M556 336h0M527 351h0M489 426h0M509 480h0M474 432h0M542 346h0M468 479h0M579 443h0M561 332h0M539 433h0M441 349h0M582 475h0M463 333h0M569 427h0M585 457h0M527 342h0M512 347h0M575 359h0M519 388h0M551 335h0M470 476h0M492 337h0M647 444h0"/><path stroke="#dd5f0c" stroke-width="6.00" d="M441 341h0M559 372h0M563 415h0M478 385h0M586 393h0M587 347h0M454 425h0M621 375h0M533 437h0M455 487h0M674 366h0M555 358h0M575 432h0M449 346h0M533 328h0M577 468h0M571 441h0M465 355h0"/><path stroke="#d35406" stroke-width="6.00" d="M593 461h0M577 407h0M464 323h0M575 427h0M652 381h0M556 343h0M543 372h0"/><path stroke="#c84a02" stroke-width="6.00" d="M450 351h0M510 447h0"/><path stroke="#963304" stroke-width="6.00" d="M605 370h0"/><path stroke="#fed26d" stroke-width="6.00" d="M557 394h0M515 391h0M575 417h0"/><path stroke="#fec857" stroke-width="6.00" d="M554 489h0M496 439h0M622 367h0M628 349h0M552 396h0M584 449h0M523 445h0M512 380h0M566 473h0M550 430h0M568 417h0"/><path stroke="#febb47" stroke-width="6.00" d="M593 450h0M569 407h0M579 345h0M516 347h0M584 388h0M521 379h0M571 471h0M500 471h0M664 358h0M505 406h0M582 388h0M549 381h0M560 420h0M528 448h0M606 394h0M483 425h0M545 448h0M674 370h0M532 490h0M593 370h0M428 354h0M554 459h0M477 473h0M550 422h0M512 484h0M606 362h0M679 421h0"/><path stroke="#feae3b" stroke-width="6.00" d="M478 325h0M545 353h0M526 396h0M514 461h0M525 473h0M614 408h0M516 458h0M481 432h0M506 343h0M477 451h0M625 364h0M575 351h0M559 415h0M589 472h0M566 370h0M487 368h0M599 472h0M508 456h0M563 370h0M505 492h0M492 448h0M513 360h0M547 454h0M551 463h0M482 351h0M552 384h0M568 379h0M527 463h0M554 483h0M539 432h0M611 411h0M583 334h0M606 425h0M434 331h0M545 351h0M506 471h0M532 347h0M597 403h0M510 462h0M502 366h0M508 422h0M477 355h0M527 459h0M570 483h0M490 439h0M623 404h0M469 329h0M543 374h0M552 462h0M611 370h0M497 347h0M476 340h0M565 446h0M602 382h0M477 488h0M507 489h0M552 371h0"/><path stroke="#fea030" stroke-width="6.00" d="M509 438h0M501 357h0M597 365h0M511 385h0M505 340h0M531 447h0M478 481h0M437 334h0M568 479h0M553 345h0M636 387h0M652 377h0M506 371h0M509 502h0M632 353h0M505 496h0M472 474h0M527 342h0M519 501h0M575 368h0M530 372h0M581 393h0M613 345h0M567 346h0M555 410h0M492 494h0M564 409h0M511 434h0M539 448h0M576 473h0M523 432h0M584 414h0M514 348h0M598 354h0M452 326h0M541 483h0M564 404h0M493 454h0M522 446h0M473 344h0M495 414h0M585 379h0M569 478h0M427 340h0M495 483h0M608 398h0M542 494h0M563 399h0M507 464h0M493 490h0M463 452h0M576 452h0M475 342h0M528 417h0M541 422h0M567 368h0M530 396h0M560 487h0M491 451h0M527 412h0M477 480h0M518 341h0M451 319h0M576 454h0M438 325h0M529 501h0M479 420h0M525 395h0M683 431h0M679 434h0"/><path stroke="#fb9225" stroke-width="6.00" d="M477 464h0M517 407h0M488 379h0M582 444h0M498 414h0M562 477h0M564 456h0M529 388h0M491 423h0M580 378h0M563 361h0M677 361h0M510 450h0M501 416h0M526 359h0M475 420h0M456 339h0M561 386h0M553 402h0M567 483h0M497 484h0M532 374h0M499 374h0M472 451h0M486 473h0M462 479h0M441 332h0M547 354h0M497 377h0M481 496h0M683 357h0M483 385h0M605 450h0M506 422h0M544 455h0M547 447h0M542 357h0M508 457h0M574 426h0M475 416h0M500 405h0M517 502h0M591 432h0M602 400h0M542 401h0M557 481h0M642 364h0M487 454h0M618 357h0M568 398h0M482 360h0M550 335h0M484 437h0M446 340h0M536 407h0M582 432h0M491 347h0M498 389h0M602 367h0M464 450h0M462 350h0M513 419h0M534 431h0M629 398h0M541 413h0M490 438h0M558 413h0M612 361h0M519 339h0M565 345h0M511 453h0M497 478h0M613 414h0M542 340h0M643 374h0M616 369h0M602 371h0M582 342h0M600 432h0M492 516h0M537 400h0M521 391h0M679 431h0M676 427h0"/><path stroke="#f5851f" stroke-width="6.00" d="M582 366h0M573 342h0M573 484h0M456 488h0M576 372h0M498 398h0M512 505h0M606 356h0M472 451h0M577 353h0M468 344h0M643 354h0M584 356h0M555 459h0M637 359h0M597 423h0M651 368h0M657 380h0M550 474h0M496 511h0M503 508h0M455 327h0M459 428h0M493 441h0M608 446h0M568 415h0M563 484h0M500 516h0M480 409h0M487 505h0M467 452h0M639 382h0M580 387h0M603 359h0M514 411h0M593 405h0M493 482h0M576 361h0M469 446h0M434 332h0M603 424h0M595 412h0M603 376h0M465 347h0M574 430h0M612 357h0M565 405h0M527 351h0M545 417h0M494 501h0M532 479h0M587 431h0M588 433h0M612 364h0M581 429h0M495 435h0M520 463h0M571 375h0M484 335h0M583 439h0M508 484h0M529 470h0M506 391h0M574 484h0M626 376h0M614 445h0M631 345h0M682 352h0M623 382h0M534 479h0M522 461h0M480 453h0M618 393h0M483 432h0M566 494h0M647 439h0M703 417h0"/><path stroke="#f07818" stroke-width="6.00" d="M638 353h0M565 347h0M622 404h0M583 339h0M500 335h0M487 514h0M463 347h0M553 327h0M492 334h0M534 340h0M547 385h0M621 349h0M558 332h0M533 359h0M492 334h0M519 463h0M542 327h0M508 404h0M476 447h0M502 469h0M536 416h0M559 365h0M431 330h0M591 347h0M545 353h0M453 341h0M598 478h0M523 382h0M492 420h0M467 391h0M495 357h0M558 436h0M482 490h0M542 379h0M479 416h0M636 358h0M676 364h0M445 346h0M523 343h0M515 326h0M532 448h0M507 362h0M542 412h0M564 378h0M578 402h0M551 369h0M531 485h0M573 357h0M677 363h0M640 384h0M487 475h0M644 374h0M565 454h0M566 350h0M457 351h0M473 388h0M496 386h0M465 425h0M529 359h0M471 482h0M488 471h0M443 363h0M439 322h0M602 428h0M678 425h0M643 443h0"/><path stroke="#e86c12" stroke-width="6.00" d="M676 360h0M538 364h0M511 363h0M481 377h0M541 494h0M474 362h0M513 467h0M654 351h0M636 355h0M662 366h0M533 364h0M478 371h0M579 349h0M467 338h0M438 354h0M590 435h0M476 404h0M468 404h0M638 386h0M501 492h0M523 353h0M546 480h0M497 500h0M595 357h0M706 417h0M645 446h0M676 422h0"/><path stroke="#dd5f0c" stroke-width="6.00" d="M473 438h0M582 335h0M612 413h0M488 329h0M638 383h0M497 493h0M503 467h0M568 429h0M499 505h0M527 337h0M537 328h0M591 386h0M465 349h0"/><path stroke="#d35406" stroke-width="6.00" d="M504 420h0M506 348h0M518 393h0M653 377h0M502 392h0M638 346h0"/><path stroke="#c84a02" stroke-width="6.00" d="M504 440h0M467 322h0"/><path stroke="#fedc82" stroke-width="6.00" d="M487 418h0M548 499h0M521 415h0"/><path stroke="#fed26d" stroke-width="6.00" d="M472 442h0M571 454h0"/><path stroke="#fec857" stroke-width="6.00" d="M531 454h0M512 441h0M610 406h0M581 436h0M499 417h0M476 431h0M545 498h0M515 467h0"/><path stroke="#febb47" stroke-width="6.00" d="M512 461h0M594 391h0M477 449h0M532 497h0M485 348h0M546 451h0M617 363h0M581 365h0M548 386h0M611 404h0M535 493h0M578 439h0M440 330h0M467 469h0M567 368h0M535 420h0M467 429h0M507 395h0M561 472h0M441 331h0M612 384h0M524 398h0M576 361h0M436 351h0M502 391h0M594 428h0M557 362h0M534 428h0M533 433h0M580 435h0M475 437h0M602 392h0"/><path stroke="#feae3b" stroke-width="6.00" d="M510 492h0M527 431h0M537 385h0M561 435h0M551 436h0M568 473h0M562 488h0M454 333h0M619 379h0M602 458h0M533 409h0M578 423h0M599 453h0M528 392h0M567 406h0M508 381h0M572 375h0M511 470h0M608 382h0M497 487h0M521 404h0M474 334h0M670 359h0M537 401h0M551 435h0M524 432h0M529 413h0M473 488h0M536 434h0M521 373h0M555 483h0M524 347h0M419 333h0M514 345h0M516 440h0M562 397h0M526 475h0M501 426h0M570 408h0M612 347h0M502 496h0M472 462h0M563 439h0M482 348h0M554 465h0M532 389h0M468 411h0M539 481h0M431 341h0M584 419h0M614 377h0M585 425h0M507 483h0M635 367h0M608 429h0M456 486h0M507 489h0M468 344h0M567 434h0M532 384h0M594 475h0M527 461h0M588 358h0M687 424h0"/><path stroke="#fea030" stroke-width="6.00" d="M496 331h0M467 466h0M528 493h0M575 341h0M539 334h0M610 405h0M571 432h0M475 455h0M476 426h0M503 392h0M515 393h0M561 390h0M555 498h0M626 403h0M473 397h0M569 386h0M574 390h0M502 478h0M465 461h0M676 355h0M498 501h0M503 365h0M531 377h0M563 375h0M491 429h0M480 426h0M535 422h0M502 462h0M427 360h0M523 440h0M559 451h0M617 401h0M581 430h0M508 442h0M468 411h0M573 398h0M504 365h0M603 372h0M518 429h0M500 368h0M560 395h0M487 397h0M467 428h0M521 373h0M609 375h0M556 386h0M438 321h0M540 466h0M482 461h0M561 404h0M542 446h0M561 487h0M482 328h0M547 397h0M608 449h0M503 482h0M560 453h0M575 429h0M538 440h0M491 435h0M507 341h0M551 409h0M684 425h0"/><path stroke="#fb9225" stroke-width="6.00" d="M601 398h0M587 387h0M470 393h0M482 472h0M607 364h0M515 334h0M632 354h0M600 368h0M560 476h0M489 326h0M567 493h0M514 442h0M630 397h0M572 466h0M481 380h0M526 458h0M475 420h0M594 416h0M477 340h0M550 391h0M570 383h0M536 455h0M553 482h0M516 358h0M606 426h0M506 370h0M498 393h0M431 344h0M518 467h0M471 347h0M498 463h0M553 468h0M564 377h0M596 457h0M496 397h0M539 351h0M565 421h0M474 415h0M499 508h0M518 339h0M499 418h0M632 348h0M542 352h0M546 373h0M561 472h0M564 500h0M593 452h0M552 334h0M482 491h0M494 440h0M463 447h0M567 491h0M467 474h0M628 349h0M551 358h0M607 399h0M555 441h0M498 380h0M490 439h0M596 384h0M633 358h0M627 370h0M587 374h0M428 339h0M509 506h0M467 444h0M495 456h0M615 403h0M555 485h0M493 516h0M518 356h0M486 388h0M593 336h0M540 353h0M520 435h0M612 378h0M518 500h0M536 329h0M614 385h0M468 348h0M586 363h0M511 453h0M508 343h0M586 452h0M553 461h0M501 418h0M488 509h0M497 448h0M653 354h0M600 451h0M436 356h0M499 351h0M638 349h0M561 344h0M534 401h0M499 501h0M682 430h0M671 422h0"/><path stroke="#f5851f" stroke-width="6.00" d="M475 339h0M576 472h0M624 394h0M602 384h0M496 424h0M438 355h0M511 506h0M541 406h0M491 362h0M596 357h0M522 457h0M591 390h0M522 483h0M436 333h0M572 366h0M603 418h0M506 479h0M660 378h0M558 476h0M535 355h0M585 403h0M599 451h0M577 407h0M642 350h0M537 417h0M587 422h0M481 413h0M526 375h0M507 419h0M488 494h0M568 348h0M663 369h0M638 345h0M620 404h0M589 465h0M541 496h0M548 493h0M561 397h0M579 331h0M582 355h0M604 367h0M575 336h0M597 460h0M538 501h0M621 393h0M462 469h0M511 328h0M517 366h0M641 351h0M562 494h0M558 368h0M636 359h0M527 494h0M584 372h0M629 374h0M504 420h0M474 419h0M547 419h0M598 356h0M620 368h0M607 439h0M635 351h0M429 348h0M469 326h0M444 334h0M677 419h0"/><path stroke="#f07818" stroke-width="6.00" d="M600 459h0M598 476h0M503 403h0M608 384h0M477 439h0M563 361h0M547 492h0M605 397h0M537 409h0M563 498h0M515 435h0M461 328h0M645 368h0M477 496h0M597 436h0M606 455h0M543 438h0M636 370h0M567 332h0M491 331h0M498 333h0M637 371h0M547 381h0M495 414h0M511 367h0M596 387h0M530 413h0M475 325h0M497 457h0M543 415h0M545 482h0M534 449h0M537 406h0M514 364h0M552 373h0M465 469h0M487 328h0M469 484h0M485 443h0M524 343h0M512 345h0M613 411h0M486 470h0M600 398h0M468 356h0M598 466h0M452 337h0M563 343h0M548 408h0M582 452h0M508 461h0M493 455h0M455 355h0M465 428h0M478 387h0M498 338h0M488 412h0M465 442h0M606 362h0M589 432h0M610 436h0M466 325h0M497 476h0M685 428h0"/><path stroke="#e86c12" stroke-width="6.00" d="M573 340h0M576 373h0M500 430h0M624 382h0M517 347h0M549 366h0M467 434h0M573 473h0M603 435h0M444 350h0M448 338h0M480 491h0M481 331h0M468 441h0M519 352h0M628 379h0M450 364h0M525 338h0M495 387h0M487 476h0M534 390h0M553 332h0M609 406h0M473 491h0M464 471h0"/><path stroke="#dd5f0c" stroke-width="6.00" d="M495 325h0M503 432h0M596 464h0M445 343h0M522 343h0M523 362h0M565 492h0M553 396h0M500 509h0M596 389h0M596 423h0M461 359h0M498 476h0M522 463h0M539 366h0M555 328h0M522 347h0M573 341h0M519 379h0"/><path stroke="#d35406" stroke-width="6.00" d="M547 479h0M452 360h0M579 407h0M475 370h0M468 461h0M469 442h0M583 458h0M521 338h0M594 472h0M685 421h0"/><path stroke="#c84a02" stroke-width="6.00" d="M643 374h0"/><path stroke="#963304" stroke-width="6.00" d="M583 337h0"/><path stroke="#fed26d" stroke-width="6.00" d="M541 433h0"/><path stroke="#fec857" stroke-width="6.00" d="M527 501h0M531 404h0M592 431h0M542 437h0M534 348h0M513 439h0M528 485h0M604 343h0M472 414h0"/><path stroke="#febb47" stroke-width="6.00" d="M574 458h0M542 499h0M534 457h0M432 343h0M588 460h0M596 423h0M429 357h0M575 451h0M518 464h0M568 392h0M579 413h0M562 364h0M502 436h0M544 363h0M617 408h0M585 388h0M600 352h0M495 356h0M506 482h0M587 459h0M536 450h0M603 345h0M624 390h0M538 414h0M600 351h0M566 490h0M536 490h0M489 390h0M575 377h0M589 434h0M556 405h0"/><path stroke="#feae3b" stroke-width="6.00" d="M494 403h0M575 440h0M545 403h0M426 340h0M572 469h0M594 421h0M556 436h0M471 415h0M608 394h0M583 458h0M523 457h0M579 438h0M470 491h0M558 358h0M480 435h0M521 386h0M543 421h0M533 484h0M491 495h0M537 464h0M476 451h0M573 407h0M537 417h0M561 465h0M605 422h0M482 391h0M571 403h0M489 355h0M516 381h0M497 396h0M535 475h0M682 364h0M542 447h0M493 420h0M538 449h0M512 486h0M506 378h0M491 474h0M434 332h0M587 381h0M525 437h0M509 428h0M521 475h0M473 339h0M586 469h0M421 345h0M508 500h0M468 477h0M681 431h0"/><path stroke="#fea030" stroke-width="6.00" d="M578 399h0M502 435h0M568 334h0M515 420h0M530 402h0M654 350h0M563 375h0M596 411h0M530 420h0M486 323h0M603 454h0M479 493h0M500 460h0M618 368h0M537 391h0M565 398h0M470 441h0M627 378h0M599 464h0M518 407h0M541 408h0M573 380h0M566 495h0M502 505h0M611 392h0M522 415h0M564 430h0M547 409h0M523 391h0M520 341h0M538 485h0M501 358h0M475 488h0M617 411h0M427 329h0M436 336h0M469 463h0M490 415h0M576 361h0M498 506h0M485 387h0M521 464h0M510 487h0M599 400h0M531 489h0M572 497h0M469 361h0M561 457h0M544 468h0M498 432h0M583 387h0M583 360h0M501 460h0M552 447h0M577 453h0M530 491h0M427 340h0M508 390h0M486 395h0M534 327h0M542 368h0M478 394h0M549 346h0M578 474h0M525 481h0M505 489h0M537 387h0M554 341h0M582 408h0"/><path stroke="#fb9225" stroke-width="6.00" d="M511 419h0M588 390h0M588 426h0M630 352h0M522 396h0M568 449h0M596 468h0M499 376h0M622 357h0M566 467h0M541 396h0M515 369h0M473 395h0M569 481h0M519 486h0M537 500h0M493 375h0M615 376h0M470 354h0M518 487h0M589 413h0M539 376h0M609 424h0M679 363h0M551 417h0M504 400h0M541 467h0M500 354h0M523 387h0M538 434h0M470 389h0M446 326h0M513 448h0M523 487h0M488 320h0M668 369h0M562 440h0M527 358h0M476 341h0M555 334h0M590 417h0M574 460h0M564 331h0M614 451h0M588 373h0M579 365h0M576 419h0M574 410h0M559 417h0M504 436h0M435 350h0M597 357h0M481 452h0M630 366h0M466 441h0M486 351h0M558 432h0M473 357h0M509 441h0M536 449h0M489 436h0M560 426h0M498 424h0M503 411h0M487 347h0M560 358h0M465 432h0M529 405h0M662 375h0M667 364h0M537 468h0M467 471h0M605 351h0M559 482h0M423 339h0M570 475h0M571 454h0M560 443h0M503 356h0M484 463h0M550 410h0M466 436h0M462 328h0M584 330h0M472 449h0M675 426h0"/><path stroke="#f5851f" stroke-width="6.00" d="M573 409h0M577 436h0M492 448h0M585 378h0M551 343h0M496 404h0M569 354h0M622 352h0M452 362h0M543 501h0M426 332h0M515 442h0M608 397h0M523 452h0M619 382h0M591 454h0M539 382h0M602 410h0M588 437h0M572 377h0M498 475h0M480 433h0M589 391h0M560 380h0M633 396h0M598 460h0M496 374h0M570 438h0M452 340h0M451 348h0M576 394h0M580 469h0M591 356h0M475 474h0M583 352h0M498 507h0M597 426h0M465 358h0M550 439h0M589 450h0M503 421h0M496 474h0M539 406h0M611 417h0M510 458h0M496 336h0M502 432h0M574 478h0M490 391h0M591 438h0M601 413h0M597 363h0M477 502h0M470 336h0M442 322h0M551 355h0M565 334h0M564 330h0M541 428h0M491 449h0M498 344h0M585 448h0M448 360h0M582 410h0M508 365h0M514 407h0M582 476h0M561 419h0M597 451h0M439 353h0M476 472h0M467 485h0M610 384h0M509 354h0M534 378h0M448 321h0M591 377h0M581 388h0M513 466h0M504 459h0M519 341h0M602 404h0M566 359h0M676 361h0M698 416h0M702 416h0M669 428h0"/><path stroke="#f07818" stroke-width="6.00" d="M439 355h0M574 461h0M500 334h0M561 462h0M547 378h0M444 344h0M588 342h0M538 495h0M605 383h0M494 451h0M578 329h0M599 478h0M503 494h0M503 437h0M476 469h0M488 406h0M556 478h0M453 354h0M649 374h0M469 422h0M537 423h0M571 329h0M447 317h0M557 369h0M519 332h0M469 444h0M488 380h0M605 395h0M599 405h0M589 428h0M557 491h0M489 390h0M498 332h0M584 442h0M563 376h0M587 356h0M674 367h0M592 449h0M515 328h0M532 330h0M485 383h0M594 374h0M499 407h0M516 378h0M573 339h0M659 380h0M593 407h0M519 367h0M486 483h0M595 375h0M558 498h0M612 404h0M680 434h0M682 421h0"/><path stroke="#e86c12" stroke-width="6.00" d="M472 400h0M531 499h0M567 362h0M540 484h0M498 378h0M542 345h0M453 346h0M524 443h0M680 361h0M435 341h0M488 410h0M497 331h0M492 405h0M505 326h0M537 427h0M656 375h0M644 372h0M516 466h0M489 396h0M536 327h0M449 318h0M583 478h0M546 482h0M483 457h0M613 365h0M664 367h0M452 319h0M552 367h0M578 346h0M613 418h0M595 390h0M559 365h0"/><path stroke="#dd5f0c" stroke-width="6.00" d="M571 349h0M515 342h0M655 378h0M494 501h0M541 336h0M574 434h0M441 335h0M481 364h0M521 345h0M565 424h0M532 345h0M578 433h0M574 367h0M461 357h0M466 449h0M497 459h0"/><path stroke="#d35406" stroke-width="6.00" d="M444 341h0M445 356h0M500 349h0M582 454h0M553 469h0M549 366h0M564 372h0M533 342h0M561 458h0M685 421h0"/><path stroke="#c84a02" stroke-width="6.00" d="M473 357h0M483 476h0"/><path stroke="#963304" stroke-width="6.00" d="M474 489h0"/><path stroke="#fedc82" stroke-width="6.00" d="M618 402h0"/><path stroke="#fed26d" stroke-width="6.00" d="M515 412h0"/><path stroke="#fec857" stroke-width="6.00" d="M551 440h0M597 340h0M515 486h0M559 397h0M483 468h0M575 399h0M569 420h0M634 382h0M617 412h0M482 335h0M571 442h0M488 354h0"/><path stroke="#febb47" stroke-width="6.00" d="M531 496h0M573 488h0M548 402h0M629 386h0M543 449h0M434 342h0M438 333h0M621 383h0M422 342h0M469 477h0M488 426h0M578 386h0M603 360h0M472 356h0M509 393h0M475 344h0M681 431h0"/><path stroke="#feae3b" stroke-width="6.00" d="M501 491h0M513 326h0M539 371h0M551 426h0M459 322h0M579 468h0M530 399h0M578 467h0M489 481h0M658 379h0M574 458h0M522 349h0M539 446h0M601 387h0M536 381h0M495 441h0M532 448h0M536 416h0M515 362h0M473 464h0M473 361h0M550 343h0M589 401h0M478 347h0M572 408h0M569 396h0M601 387h0M545 389h0M442 327h0M459 326h0M478 442h0M609 426h0M518 429h0M607 380h0M487 441h0M543 420h0M655 365h0M558 423h0M575 425h0M497 426h0M475 420h0M542 423h0M530 393h0M643 361h0M542 470h0M481 372h0M497 405h0"/><path stroke="#fea030" stroke-width="6.00" d="M565 460h0M538 387h0M560 461h0M564 339h0M561 420h0M522 435h0M564 453h0M494 434h0M460 360h0M475 424h0M614 399h0M483 477h0M487 413h0M504 392h0M428 348h0M591 445h0M526 329h0M580 465h0M489 445h0M531 467h0M530 404h0M572 425h0M518 363h0M487 514h0M460 473h0M450 324h0M489 514h0M575 358h0M559 471h0M518 368h0M527 472h0M521 453h0M533 455h0M600 395h0M549 464h0M554 336h0M533 372h0M525 484h0M604 441h0M546 411h0M470 459h0M489 496h0M589 431h0M540 416h0M497 498h0M615 448h0M550 388h0M490 353h0M516 328h0M590 436h0M618 351h0M484 454h0M669 370h0M554 479h0M484 475h0M493 499h0M566 360h0M469 407h0M467 440h0M530 406h0M520 414h0M498 503h0M492 399h0M559 341h0M515 420h0M581 369h0M486 469h0M461 333h0M524 431h0M576 409h0M525 348h0M519 445h0M548 379h0M547 463h0M544 421h0M581 343h0M591 373h0M625 395h0"/><path stroke="#fb9225" stroke-width="6.00" d="M517 482h0M586 468h0M510 332h0M434 347h0M500 362h0M541 431h0M450 320h0M496 353h0M512 444h0M624 386h0M497 461h0M469 455h0M543 495h0M523 370h0M594 371h0M493 409h0M615 345h0M538 341h0M594 355h0M545 380h0M510 400h0M493 498h0M512 327h0M452 364h0M510 325h0M467 334h0M474 368h0M440 321h0M528 409h0M461 470h0M520 474h0M494 483h0M426 350h0M478 379h0M459 488h0M610 377h0M612 407h0M499 394h0M582 463h0M544 478h0M608 374h0M535 410h0M573 386h0M588 359h0M521 381h0M569 429h0M566 347h0M470 403h0M669 364h0M496 337h0M496 517h0M563 444h0M538 403h0M593 386h0M577 388h0M486 331h0M477 395h0M548 357h0M573 372h0M544 355h0M460 470h0M612 377h0M530 424h0M492 396h0M506 401h0M572 449h0M551 367h0M609 384h0M568 378h0M498 442h0M544 415h0M547 474h0M523 432h0M651 360h0M559 478h0M496 408h0M551 396h0M486 488h0M568 437h0M637 363h0M520 394h0M533 400h0M500 523h0"/><path stroke="#f5851f" stroke-width="6.00" d="M509 446h0M543 439h0M555 466h0M623 371h0M600 352h0M533 480h0M575 454h0M554 469h0M528 497h0M667 372h0M455 486h0M529 465h0M620 368h0M436 347h0M555 343h0M544 366h0M511 412h0M488 431h0M556 378h0M639 369h0M481 466h0M644 386h0M614 362h0M479 487h0M567 336h0M461 431h0M551 341h0M644 356h0M490 370h0M585 368h0M473 396h0M664 376h0M559 467h0M558 484h0M607 451h0M592 391h0M470 405h0M655 353h0M639 362h0M568 359h0M569 487h0M455 480h0M478 410h0M422 339h0M474 467h0M463 477h0M597 478h0M474 479h0M499 494h0M599 457h0M527 357h0M492 416h0M462 479h0M472 328h0M479 381h0M482 466h0M675 365h0M481 508h0M610 370h0M633 361h0M562 417h0M477 400h0M514 451h0M531 340h0M645 377h0M605 372h0M514 478h0M586 480h0M522 405h0M450 316h0M507 462h0M610 409h0M489 375h0M614 345h0M700 418h0M684 433h0"/><path stroke="#f07818" stroke-width="6.00" d="M477 421h0M668 369h0M525 326h0M615 361h0M579 410h0M496 337h0M547 363h0M513 377h0M490 337h0M585 352h0M554 365h0M636 387h0M530 392h0M658 379h0M600 390h0M534 433h0M618 398h0M597 405h0M565 335h0M467 349h0M541 333h0M478 425h0M534 343h0M560 344h0M501 367h0M475 462h0M479 428h0M487 446h0M518 445h0M557 494h0M668 356h0M599 342h0M513 356h0M531 432h0M509 354h0M538 473h0M543 489h0M612 352h0M582 444h0M478 364h0M684 430h0M645 440h0M647 440h0"/><path stroke="#e86c12" stroke-width="6.00" d="M679 352h0M573 382h0M541 438h0M640 357h0M461 329h0M531 470h0M502 489h0M479 388h0M504 422h0M640 353h0M600 434h0M551 358h0M560 335h0M595 474h0M524 332h0M597 456h0M568 380h0M484 492h0M451 343h0M558 349h0M581 464h0M660 377h0M701 419h0"/><path stroke="#dd5f0c" stroke-width="6.00" d="M515 346h0M680 362h0M468 471h0M551 403h0M537 325h0M548 347h0M499 336h0M500 366h0M589 346h0M442 331h0M484 397h0M605 444h0"/><path stroke="#d35406" stroke-width="6.00" d="M645 384h0M543 493h0M481 439h0M651 373h0M452 362h0M656 373h0M478 499h0M505 413h0M477 365h0"/><path stroke="#c84a02" stroke-width="6.00" d="M424 339h0M678 370h0"/><path stroke="#b84203" stroke-width="6.00" d="M533 474h0"/><path stroke="#a63a03" stroke-width="6.00" d="M579 479h0"/><path stroke="#fff" stroke-width="2.00" d="M541 397h0M561 456h0M554 372h0M461 452h0M543 347h0M429 335h0M601 470h0M563 358h0M417 344h0M521 431h0M495 483h0M479 489h0M603 417h0M471 443h0M577 397h0M499 457h0M588 338h0M602 342h0M471 460h0M515 340h0M444 358h0M491 447h0M537 351h0M557 474h0M478 398h0M517 380h0M602 447h0M550 431h0M518 410h0M518 357h0M488 432h0M464 453h0M428 336h0M456 454h0M598 431h0M580 411h0M446 314h0M615 385h0M577 405h0M521 460h0M492 429h0M525 351h0M482 464h0M530 477h0M475 442h0M458 479h0M622 366h0M487 483h0M479 444h0M600 467h0M593 416h0M570 496h0M478 430h0M578 431h0M602 340h0M602 477h0M485 498h0M607 408h0M545 359h0M605 456h0M516 490h0M609 422h0M675 353h0M572 425h0M552 396h0M580 449h0M563 455h0M549 330h0M549 497h0M540 477h0M538 450h0M555 445h0M492 412h0M595 391h0M529 410h0M464 325h0M503 420h0M584 342h0M476 398h0M497 486h0M589 363h0M584 397h0M476 497h0M609 457h0M589 437h0M550 344h0M558 347h0M542 430h0M547 332h0M500 411h0M578 350h0M523 326h0M477 325h0M556 491h0M583 384h0M650 362h0M478 474h0M517 352h0M487 439h0M583 380h0M559 478h0M466 484h0M545 484h0M447 361h0M589 387h0M518 423h0M476 473h0M621 399h0M470 359h0M580 374h0M582 457h0M480 402h0M591 382h0M487 501h0M543 457h0M569 404h0M550 444h0M490 345h0M578 490h0M572 424h0M487 403h0M465 404h0M607 411h0M498 443h0M501 428h0M449 326h0M529 448h0M544 364h0M545 483h0M639 371h0M508 473h0M513 365h0M494 481h0M471 459h0M474 403h0M596 419h0M652 370h0M557 502h0M527 433h0M560 437h0M569 360h0M654 371h0M533 495h0M544 438h0M621 342h0M607 339h0M584 407h0M566 341h0M479 404h0M469 434h0M507 349h0M537 331h0M503 417h0M562 488h0M618 382h0M479 447h0M496 429h0M466 431h0M505 417h0M491 480h0M569 360h0M520 417h0M474 399h0M543 435h0M530 418h0M535 384h0M577 492h0"/><path stroke="#fff" stroke-width="2.80" d="M548 348h0M582 486h0M534 377h0M590 363h0M468 455h0M529 447h0M609 393h0M503 467h0M436 341h0M515 365h0M524 343h0M657 351h0M559 462h0M470 348h0M624 369h0M606 357h0M499 467h0M565 408h0M656 353h0M606 442h0M472 407h0M521 498h0M458 364h0M537 457h0M460 328h0M567 349h0M579 437h0M552 328h0M577 433h0M653 347h0M591 374h0M594 334h0M511 441h0M531 494h0M527 462h0M465 326h0M595 402h0M503 389h0M541 383h0M507 485h0M530 441h0M616 394h0M499 427h0M582 340h0M537 463h0M512 385h0M667 366h0M579 430h0M484 482h0M572 385h0M589 352h0M558 493h0M491 347h0M562 410h0M460 472h0M526 421h0M551 330h0M517 360h0M513 442h0M527 408h0M501 406h0M507 509h0M622 383h0M533 388h0M515 430h0M574 418h0M569 399h0M480 426h0M609 380h0M504 426h0M631 358h0M619 410h0M555 437h0M622 342h0M598 387h0M539 355h0M552 474h0M563 368h0M602 400h0M480 485h0M514 483h0M459 341h0M495 431h0M504 429h0M468 333h0M549 398h0M630 367h0M544 483h0M581 357h0M495 458h0M547 413h0M451 324h0M487 409h0M575 419h0M590 368h0M486 405h0M603 418h0M568 491h0M432 327h0M466 402h0M473 396h0M606 432h0M534 444h0M594 420h0M587 342h0M629 375h0M584 378h0M546 381h0M584 409h0M491 508h0M613 358h0M544 476h0M529 384h0M544 397h0M468 450h0M509 464h0M558 339h0M574 463h0M586 353h0M512 342h0M676 374h0M506 396h0M472 403h0M502 510h0M595 435h0M558 324h0M592 338h0M516 462h0M523 449h0M580 401h0M486 447h0M575 429h0M419 343h0M578 426h0M469 423h0M616 395h0M516 478h0M534 465h0M470 337h0M507 469h0M590 439h0M470 386h0M507 389h0M579 365h0M489 337h0M508 508h0M487 429h0M486 325h0M531 391h0M543 377h0M501 452h0M574 466h0M603 465h0M492 325h0M476 396h0M502 339h0M555 346h0M605 350h0M600 473h0M437 345h0M519 356h0M633 366h0M613 353h0M495 510h0M627 399h0M556 429h0M506 494h0"/><path stroke="#fff" stroke-width="3.60" d="M429 338h0M517 500h0M542 380h0M585 418h0M502 403h0M468 414h0M620 452h0M458 343h0M606 411h0M495 432h0M476 372h0M594 453h0M488 493h0M471 408h0M608 419h0M572 479h0M632 393h0M520 467h0M555 344h0M541 483h0M542 430h0M444 323h0M476 371h0M504 328h0M493 439h0M491 490h0M629 343h0M446 347h0M581 379h0M484 341h0M488 485h0M616 452h0M518 468h0M549 462h0M500 322h0M544 442h0M547 447h0M475 399h0M593 427h0M527 391h0M477 409h0M558 464h0M587 464h0M571 450h0M475 415h0M628 399h0M575 374h0M514 328h0M579 337h0M489 417h0M418 335h0M476 366h0M509 469h0M480 508h0M588 407h0M499 473h0M481 350h0M556 364h0M502 423h0M512 341h0M546 409h0M484 362h0M551 467h0M620 376h0M611 394h0M502 459h0M581 403h0M582 470h0M591 387h0M594 380h0M466 476h0M634 339h0M585 433h0M542 391h0M498 358h0M602 376h0M513 396h0M489 446h0M515 335h0M559 447h0M610 342h0M457 358h0M620 388h0M481 401h0M425 334h0M643 368h0M645 358h0M647 380h0M554 390h0M662 380h0M576 478h0M555 493h0M531 331h0M504 395h0M620 375h0M506 366h0M465 476h0M540 483h0M459 361h0M523 461h0M502 402h0M501 370h0M500 514h0M498 463h0M467 396h0M583 388h0M461 481h0M608 340h0M572 422h0M561 429h0M464 435h0M597 400h0M488 370h0M506 474h0M504 336h0M521 421h0M427 349h0M459 472h0M472 337h0M622 360h0M514 418h0M476 332h0M529 484h0M540 483h0M537 364h0M600 381h0M585 354h0M587 376h0M552 487h0M587 343h0M487 348h0M485 345h0M509 384h0M654 354h0M500 485h0M554 348h0M540 385h0M538 429h0M649 354h0M483 420h0M441 321h0M680 353h0M508 481h0M517 345h0M467 473h0M519 408h0M502 439h0M576 472h0M522 483h0M611 390h0M556 428h0M508 330h0M569 358h0M444 343h0M505 492h0M533 366h0M534 450h0M570 363h0M688 355h0M519 374h0M594 395h0M542 393h0M505 381h0M529 502h0M546 327h0M536 355h0"/><path stroke="none" marker-start="url(#ra)" marker-mid="url(#ra)" marker-end="url(#ra)" d="M502 380L449 352L571 419L544 496L476 453L505 487L504 405L658 370L564 473L452 350L589 336L428 330L561 378L534 379L481 461L567 483L491 407L607 379L601 376L570 408L482 345L541 483L544 380L563 330L640 343L590 364L571 330L528 325L518 441L574 427L537 456L467 335L514 439L572 345L438 333L580 389L511 486L482 490L490 406L617 453L528 379L561 492L444 346L492 321L560 405L627 370L424 335L586 456L535 485L453 348L581 443L629 400L488 460L553 493L562 483L577 380L512 488L656 374L461 462L569 329L559 458L465 328L446 339L560 487L511 480L606 390L474 459L571 451L481 488L529 324L585 449L500 360L547 413L478 436L636 392L478 503L605 420L497 435L573 490L645 348L476 322L547 422L572 460L538 368L631 351L555 457L542 374L588 343L551 391L525 473L535 487L625 395L545 437L580 393L636 374L531 350L653 363L628 342L538 367L611 407L514 381L517 462L580 476L635 397L479 421L546 362L604 445L485 488L555 398L592 350L483 496L564 431L575 440L563 451L521 406L478 419L606 409L532 347L593 365L485 358L534 440L616 403L529 383L528 478L557 444L516 347L570 409L581 406L529 336L551 336L543 379L526 471L638 353L461 460L517 475L495 415L545 484L524 485L654 385L414 337L575 448L612 449L476 456L442 321L432 356L493 435L457 347L545 460L607 457L577 475L606 339L472 395L512 361L581 383L625 390L617 449L495 510L532 384L560 356L520 504L482 350L494 520L490 474L596 478L463 337L494 489L575 354L527 452L425 343L427 336L496 467L576 492L547 469L549 358L487 413L543 500L586 353L520 484L511 430L535 430L503 456L523 423L537 333L625 347L630 347L506 452L557 375L532 370L573 435L659 358L559 385L507 406L543 323L580 401L601 473L525 410L536 345L626 351L523 474L505 374L528 358L534 381L464 470L599 369L528 349L491 464L633 350L545 355L525 449L550 363L545 408L502 481L502 329L581 485L570 392L476 458L506 409L488 453L626 360L492 337L520 396L508 453L462 340L653 351L547 431L489 378L503 370L550 363L468 364L628 400L574 457L579 468L480 504L592 469L589 423L587 395L596 335L486 328L507 484L610 417L560 333L686 362L547 381L559 497L514 431L576 437L444 348L546 487L486 335L486 507L439 361L498 519L630 340L475 381L472 369L505 369L543 445L581 405L623 375L536 371L623 354L506 448L518 399L446 369L491 476L536 479L526 427L459 361L550 491L546 356L475 328L457 436L479 364L486 358L487 406L493 492L589 426L562 412L577 472L677 367L476 352L601 395L506 483L459 352L544 427L565 412L666 371L511 435L514 349L588 445L669 355L527 485L663 362L547 474L598 361L552 480L571 389L463 434L652 364L597 457L587 364L472 380L528 379L580 451L531 410L483 402L671 370L508 374L482 470L619 389L649 381L504 364L546 370L471 467L437 359L500 443L616 346L435 362L491 519L529 375L561 498L483 429L488 415L601 426L649 367"/><path stroke="none" marker-start="url(#rb)" marker-mid="url(#rb)" marker-end="url(#rb)" d="M528 498L463 353L560 475L611 347L492 446L491 484L586 368L559 419L627 383L643 386L579 370L462 450L509 483L481 485L491 496L521 355L676 360L459 470L524 396L672 371L572 442L532 416L464 464L542 328L577 448L594 415L518 487L536 387L599 422L436 361L619 374L560 336L527 343L469 384L503 479L488 440L549 376L642 361L494 358L423 363L478 464L487 343L489 439L561 424L567 478L612 445L477 350L499 369L458 324L546 455L588 378L603 346L470 473L491 332L477 419L615 345L458 460L467 443L574 387L575 367L528 473L564 381L582 443L496 493L539 324L501 486L582 459L552 353L464 420L468 478L470 358L488 490L496 411L562 360L682 369L580 406L577 368L608 450L544 430L575 424L491 500L524 369L533 326L491 467L488 485L510 344L564 437L587 460L445 341L484 491L461 341L538 419L474 422L615 402L582 478L506 382L596 436L554 470L468 396L578 334L485 380L558 367L527 453L587 396L563 330L553 391L654 360L435 321L490 403L496 487L460 428L552 502L552 347L507 374L435 328L499 448L518 338L528 441L536 349L528 433L543 430L517 434L498 360L585 378L457 475L481 472L522 505L609 426L495 402L507 463L541 349L465 409L658 361L531 399L589 455L544 352L466 466L520 323L518 506L638 363L571 423L535 329L482 356L628 393L586 417L465 416L582 339L586 479L471 462L539 406L540 338L470 488L536 354L552 463L643 376L541 466L504 512L599 380L508 421L445 366L677 356L583 349L577 400L612 403L495 486L473 436L544 459L501 413L562 383L579 381L605 433L537 335L571 497L515 336L501 396L583 401L562 488L515 403L645 367L426 340L603 461L550 486L522 441L518 411L500 476L512 353L536 455L577 405L524 349L586 427L591 353L485 508L506 419L567 348L525 366L607 364L579 384L639 352L603 420L567 390L537 371L583 431L610 438L596 347L509 464L529 413L540 358L619 386L580 346L566 461L592 400L537 329L579 457L639 346L569 411L463 448L550 457L511 388L628 364L595 448L577 431L643 364L471 381L483 325L563 355L574 418L469 428L598 351L557 490L593 456L612 390L569 355L542 444L486 422L546 410L495 337L511 467L576 428L477 380L511 352L487 448L581 402L480 428L478 486L526 430L483 388L571 382L464 485L545 470L475 496L610 347L490 342L513 450L610 393L504 474L606 419L564 339L460 328L494 445L566 366L589 428L596 384L531 333L504 451L419 332L600 469L456 489L476 424L474 374L594 404L557 390L612 373L502 454L539 355L473 474L512 510L500 494L536 329L464 467L423 344L468 365L566 441L482 357L588 426L595 475L613 418L599 389L538 434L566 469L575 483L478 387L574 461L679 355L564 417L512 436L487 510L493 380L609 443L433 326L538 407L586 421L528 388L482 323L572 418L503 380L550 375L494 407L510 353L489 343L490 373L606 436L529 464L638 370L535 383L573 393L519 395L602 434L609 429L517 346L674 375L463 443L494 418L616 405L516 490L499 427"/></g>
<path d="M231.6 161.1L232.0 165.6L233.6 169.5L232.0 172.2L233.6 174.8L232.0 178.8L233.1 182.2M232.5 167.5L237.4 168.2L242.8 168.2L248.2 167.5L253.6 166.2L256.8 164.9L259.0 162.9M256.8 164.9L260.1 168.2L264.4 170.2L267.6 170.2L269.8 168.2L273.0 166.9L273.6 163.6M273.0 166.9L275.2 169.5L276.3 173.5L280.6 174.8L283.8 173.5L286.0 171.5L284.9 168.2L288.2 165.6L288.7 163.8M275.2 172.8L274.1 176.1L276.3 180.1L280.6 181.4L284.9 182.1L287.6 181.4L289.2 178.8L286.0 175.5M299.5 168.9L296.8 172.2L295.7 176.1L292.5 180.1L289.2 182.1M289.2 182.1L287.1 186.7L284.9 190.6L287.1 194.6L290.3 199.9L290.3 205.2L293.6 207.8M315.2 170.2L314.6 174.8L311.9 181.4L311.4 186.7L309.8 190.6L311.4 195.9L309.8 199.9M309.8 199.9L305.4 198.6L301.1 201.2L299.0 206.5L293.6 207.8M309.8 199.9L313.0 200.9M234.2 203.2L240.6 203.8L248.2 205.2L253.6 205.2L259.0 203.8M259.0 203.8L262.2 199.9L265.5 196.6L269.8 192.6L273.0 193.3L274.7 197.2L274.1 202.5L275.2 206.5L269.8 207.8L263.3 207.1L259.0 203.8M269.8 192.6L275.2 191.3L280.6 190.6L284.9 190.6M253.6 205.2L250.4 210.4L253.6 215.7L250.4 221.0L253.6 225.0M253.6 225.0L248.2 228.9L242.8 232.9L237.4 234.2L232.0 233.5M253.6 225.0L259.0 227.6L264.4 229.6L269.8 228.9L275.2 228.3L280.6 230.2L282.8 232.9M282.8 232.9L287.1 228.9L291.4 226.3L295.7 227.6M282.8 232.9L286.0 236.8L288.2 240.8L290.1 242.4M295.7 227.6L296.8 231.6L299.0 235.5L300.0 236.2M295.7 227.6L296.8 222.3L293.6 217.0L291.4 213.1L294.6 209.1L293.6 207.8M288.4 163.3L286.2 164.0L283.8 164.1L281.5 164.0L277.9 162.3L274.7 163.6L272.8 163.1L270.3 162.3L266.7 161.7L261.3 163.1L256.3 162.7L253.0 162.0L246.5 160.9L244.4 159.5L243.6 160.4L241.2 160.7L237.0 160.9L231.6 161.1L229.2 160.7L228.1 159.5L224.5 157.8L222.6 158.0L220.7 159.5L217.7 160.7L218.5 162.0L216.9 163.2L212.5 163.8L210.5 165.3L208.1 166.1L208.0 166.9L207.2 167.5L207.5 169.8L208.3 169.0L209.1 170.6L209.8 171.2L209.5 173.7L210.5 174.1L212.9 173.5L211.8 174.9L212.5 176.1L214.2 175.7L211.8 178.1L213.4 178.2L212.0 179.8L211.8 183.1L214.2 181.1L216.3 180.3L219.4 179.4L220.3 180.7L219.0 182.7L222.3 183.2L225.5 183.6L227.5 183.5L230.4 181.5L233.1 182.2L236.5 181.9L236.9 185.8L239.7 186.9L240.7 186.9L238.7 189.6L235.8 191.4L234.2 193.9L232.8 194.3L234.2 196.6L234.2 201.2L233.6 204.2L232.5 206.2L231.8 208.1L233.3 209.5L231.8 212.2L228.4 212.6L226.3 212.3L228.8 215.1L229.5 217.3L231.5 219.7L232.5 221.7L231.5 222.7L229.8 224.3L228.8 228.3L230.9 231.8L232.8 231.4L232.0 233.9L229.3 234.5L226.6 240.1L227.1 242.1L227.7 245.0L228.5 244.9L232.5 244.8L234.2 245.7L236.9 247.4L238.9 250.2L238.2 250.8L238.9 252.4L239.6 253.6L241.0 255.6L242.5 258.2L243.7 258.1L247.0 260.5L248.7 258.9L249.8 259.0L252.0 255.1L254.9 253.9L257.7 253.5L259.9 251.2L265.7 250.7L269.6 251.1L275.0 250.8L279.4 250.6L281.0 249.6L283.9 251.1L287.1 247.5L287.9 245.0L290.5 242.1L294.0 240.0L297.0 239.7L300.1 239.1L299.8 236.8L300.3 234.5L302.0 231.7L302.4 229.7L305.1 227.6L306.2 227.2L308.1 225.8L310.1 224.6L308.7 223.1L306.0 221.4L305.1 218.9L304.1 215.1L305.2 212.3L307.4 208.2L309.1 206.6L312.0 203.0L312.8 201.6L317.0 198.3L315.7 197.2L316.2 196.2L320.1 193.7L321.1 193.1L327.1 191.6L331.1 189.6L334.1 187.5L337.8 185.8L341.4 183.4L342.4 182.1L341.4 179.8L341.9 178.0L343.5 177.2L341.8 175.7L339.5 175.3L336.4 176.9L334.4 176.9L332.4 175.9L329.2 176.5L328.7 175.5L326.3 174.8L323.3 175.5L318.4 171.0L314.8 170.3L310.8 172.2L307.6 172.3L304.3 170.3L301.7 171.0L299.5 168.9L296.8 168.2L293.6 167.3L291.9 164.6L290.3 164.9ZM333.0 213.3L334.8 214.9L337.0 213.7L337.3 216.1L340.5 217.4L342.7 216.0L345.2 211.5L342.2 210.2L342.3 208.3L340.5 209.1L337.6 209.9L333.5 212.7ZM348.9 207.8L349.2 208.7L351.9 210.0L354.3 209.5L353.5 208.1L350.3 206.9ZM320.9 221.7L321.9 222.8L323.3 222.6L324.4 220.7L323.3 219.8L321.9 220.9ZM322.7 224.7L324.7 225.4L323.8 225.8L322.5 225.2Z" fill="none" stroke="#6f6b52" stroke-width="0.45" stroke-linejoin="round" opacity="0.65"/>
<rect x="206.3" y="155.5" width="152.0" height="108.0" fill="none" stroke="#8f8f8f" stroke-width="1"/>
<line x1="204.3" y1="155.0" x2="206.3" y2="155.0" stroke="#555" stroke-width="0.7"/>
<text x="203.5" y="157.6" class="t" text-anchor="end">44N</text>
<line x1="204.3" y1="181.4" x2="206.3" y2="181.4" stroke="#555" stroke-width="0.7"/>
<text x="203.5" y="184.0" class="t" text-anchor="end">42N</text>
<line x1="204.3" y1="207.8" x2="206.3" y2="207.8" stroke="#555" stroke-width="0.7"/>
<text x="203.5" y="210.4" class="t" text-anchor="end">40N</text>
<line x1="204.3" y1="234.2" x2="206.3" y2="234.2" stroke="#555" stroke-width="0.7"/>
<text x="203.5" y="236.8" class="t" text-anchor="end">38N</text>
<line x1="204.3" y1="260.6" x2="206.3" y2="260.6" stroke="#555" stroke-width="0.7"/>
<text x="203.5" y="263.2" class="t" text-anchor="end">36N</text>
<line x1="221.2" y1="263.5" x2="221.2" y2="265.5" stroke="#555" stroke-width="0.7"/>
<text x="221.2" y="272.9" class="t" text-anchor="middle">8W</text>
<line x1="242.8" y1="263.5" x2="242.8" y2="265.5" stroke="#555" stroke-width="0.7"/>
<text x="242.8" y="272.9" class="t" text-anchor="middle">6W</text>
<line x1="264.4" y1="263.5" x2="264.4" y2="265.5" stroke="#555" stroke-width="0.7"/>
<text x="264.4" y="272.9" class="t" text-anchor="middle">4W</text>
<line x1="286.0" y1="263.5" x2="286.0" y2="265.5" stroke="#555" stroke-width="0.7"/>
<text x="286.0" y="272.9" class="t" text-anchor="middle">2W</text>
<line x1="307.6" y1="263.5" x2="307.6" y2="265.5" stroke="#555" stroke-width="0.7"/>
<text x="307.6" y="272.9" class="t" text-anchor="middle">0</text>
<line x1="329.2" y1="263.5" x2="329.2" y2="265.5" stroke="#555" stroke-width="0.7"/>
<text x="329.2" y="272.9" class="t" text-anchor="middle">2E</text>
<line x1="350.8" y1="263.5" x2="350.8" y2="265.5" stroke="#555" stroke-width="0.7"/>
<text x="350.8" y="272.9" class="t" text-anchor="middle">4E</text>
<defs><linearGradient id="g4" x1="0" x2="1" y1="0" y2="0"><stop offset="0.000" stop-color="#ffffe5"/><stop offset="0.050" stop-color="#fffcd7"/><stop offset="0.100" stop-color="#fff9c7"/><stop offset="0.150" stop-color="#fff5b8"/><stop offset="0.200" stop-color="#ffeea8"/><stop offset="0.250" stop-color="#fee697"/><stop offset="0.300" stop-color="#fedc82"/><stop offset="0.350" stop-color="#fed069"/><stop offset="0.400" stop-color="#fec550"/><stop offset="0.450" stop-color="#feb541"/><stop offset="0.500" stop-color="#fea433"/><stop offset="0.550" stop-color="#fd9627"/><stop offset="0.600" stop-color="#f6861f"/><stop offset="0.650" stop-color="#ef7718"/><stop offset="0.700" stop-color="#e56910"/><stop offset="0.750" stop-color="#d95b09"/><stop offset="0.800" stop-color="#cd4d03"/><stop offset="0.850" stop-color="#bb4403"/><stop offset="0.900" stop-color="#a83b03"/><stop offset="0.950" stop-color="#943304"/><stop offset="1.000" stop-color="#812d05"/></linearGradient></defs>
<rect x="212.7" y="277.5" width="139.4" height="3.9" fill="url(#g4)"/>
<path d="M213.0 277.5 L205.6 279.4 L213.0 281.4 Z" fill="#fffddc"/>
<path d="M351.8 277.5 L359.1 279.4 L351.8 281.4 Z" fill="#712806"/>
<path d="M212.7 277.5L205.6 279.4L212.7 281.4L352.1 281.4L359.1 279.4L352.1 277.5Z" fill="none" stroke="#3a3a3a" stroke-width="0.55"/>
<line x1="212.7" y1="281.4" x2="212.7" y2="283.0" stroke="#444" stroke-width="0.6"/>
<text x="212.7" y="290.3" class="t" text-anchor="middle">15</text>
<line x1="240.6" y1="281.4" x2="240.6" y2="283.0" stroke="#444" stroke-width="0.6"/>
<text x="240.6" y="290.3" class="t" text-anchor="middle">30</text>
<line x1="268.5" y1="281.4" x2="268.5" y2="283.0" stroke="#444" stroke-width="0.6"/>
<text x="268.5" y="290.3" class="t" text-anchor="middle">45</text>
<line x1="296.3" y1="281.4" x2="296.3" y2="283.0" stroke="#444" stroke-width="0.6"/>
<text x="296.3" y="290.3" class="t" text-anchor="middle">60</text>
<line x1="324.2" y1="281.4" x2="324.2" y2="283.0" stroke="#444" stroke-width="0.6"/>
<text x="324.2" y="290.3" class="t" text-anchor="middle">75</text>
<line x1="352.1" y1="281.4" x2="352.1" y2="283.0" stroke="#444" stroke-width="0.6"/>
<text x="352.1" y="290.3" class="t" text-anchor="middle">90</text>
<text x="282.2" y="301.4" class="t2" text-anchor="middle">Overestimation rate [%]</text>
<g fill="none" stroke-linecap="round" transform="scale(0.5)"><path stroke="#fff7be" stroke-width="6.00" d="M968 405h0M851 408h0"/><path stroke="#feeba2" stroke-width="6.00" d="M915 396h0M956 352h0M882 471h0M913 436h0M927 488h0M953 352h0M973 352h0"/><path stroke="#fee595" stroke-width="6.00" d="M921 437h0M939 495h0M942 377h0M1053 359h0M834 460h0M871 469h0M918 405h0M939 438h0M934 414h0M901 497h0M865 476h0M916 371h0M925 362h0M901 368h0M925 457h0"/><path stroke="#fedc82" stroke-width="6.00" d="M974 456h0M1009 383h0M871 444h0M964 366h0M795 355h0M819 330h0M904 407h0M906 423h0M804 341h0M890 393h0M931 397h0M900 376h0M888 422h0M913 495h0M965 396h0M930 466h0M943 467h0M977 365h0M905 477h0M851 453h0M855 331h0M905 350h0M882 469h0M935 367h0M909 368h0M933 329h0M888 375h0M858 321h0M980 401h0M913 452h0M951 421h0M978 345h0M991 404h0M973 459h0M931 401h0M923 426h0M868 356h0M919 522h0M1052 420h0"/><path stroke="#fed26d" stroke-width="6.00" d="M898 343h0M881 487h0M887 453h0M898 477h0M912 371h0M865 428h0M963 396h0M855 474h0M830 486h0M899 462h0M912 424h0M863 456h0M887 429h0M893 497h0M908 380h0M840 451h0M960 423h0M835 463h0M903 440h0M952 469h0M916 333h0M868 488h0M968 352h0M829 460h0M928 373h0M980 344h0M872 382h0M901 442h0M978 399h0M827 471h0M887 416h0M938 362h0M970 345h0M932 398h0M948 395h0M877 473h0M993 384h0M943 434h0M874 401h0M882 358h0M1059 425h0M1054 420h0M1047 426h0M1051 429h0"/><path stroke="#fec857" stroke-width="6.00" d="M861 511h0M897 329h0M941 455h0M904 430h0M1011 350h0M926 399h0M866 459h0M957 442h0M998 395h0M969 403h0M990 347h0M957 450h0M902 459h0M912 491h0M859 509h0M933 335h0M981 368h0M906 413h0M844 351h0M929 329h0M867 371h0M895 470h0M832 432h0M893 366h0M884 342h0M794 361h0M873 471h0M870 421h0M897 426h0M969 469h0M918 348h0M945 487h0M940 393h0M838 488h0M943 426h0M875 448h0M985 401h0M983 411h0M907 440h0M866 336h0M902 464h0M871 382h0M979 392h0M941 483h0M951 380h0M944 479h0M877 506h0M971 362h0M970 341h0M868 390h0M956 412h0M993 353h0M983 450h0M895 370h0M874 506h0M917 347h0M979 417h0M929 389h0M912 426h0M930 351h0M874 439h0M863 409h0M996 348h0M850 368h0M1014 441h0M1042 427h0M1042 426h0"/><path stroke="#febb47" stroke-width="6.00" d="M913 394h0M900 483h0M880 406h0M913 358h0M918 480h0M927 344h0M970 379h0M892 443h0M984 377h0M972 458h0M897 392h0M944 373h0M905 345h0M862 433h0M883 365h0M920 365h0M846 457h0M848 393h0M936 331h0M957 400h0M936 359h0M982 380h0M964 373h0M928 424h0M840 353h0M865 498h0M991 405h0M964 348h0M797 348h0M906 368h0M968 354h0M859 419h0M902 474h0M886 488h0M900 443h0M819 339h0M959 422h0M874 403h0M802 329h0M985 409h0M934 485h0M926 326h0M867 463h0M888 425h0M954 455h0M894 476h0M1046 371h0M909 368h0M931 385h0M973 357h0M889 495h0M974 387h0M879 370h0M809 331h0M837 348h0"/><path stroke="#feae3b" stroke-width="6.00" d="M1032 371h0M943 333h0M830 470h0M844 323h0M893 476h0M840 419h0M861 343h0M928 485h0M947 382h0M848 358h0M857 398h0M896 500h0M844 435h0M914 501h0M953 450h0M975 395h0M938 422h0M858 325h0M1043 369h0M970 386h0M829 431h0M886 464h0M986 352h0M928 370h0M967 449h0M827 345h0M864 354h0M883 395h0M994 393h0M891 475h0M875 441h0M933 371h0M1038 354h0M871 361h0M867 330h0M878 481h0M834 473h0M934 352h0M957 410h0M984 415h0M855 389h0M939 363h0M872 375h0M904 433h0M882 505h0M926 477h0M967 467h0M946 351h0M954 473h0M842 482h0M965 434h0M910 329h0M861 401h0M870 525h0M1051 422h0"/><path stroke="#fea030" stroke-width="6.00" d="M823 328h0M934 466h0M950 386h0M858 444h0M967 360h0M950 416h0M855 431h0M881 504h0M917 501h0M904 385h0M847 322h0M883 495h0M998 380h0M978 445h0M1013 351h0M844 442h0M971 437h0M958 453h0M958 413h0M1022 351h0M852 354h0M892 457h0M894 502h0M960 398h0M830 352h0M828 356h0M1026 374h0M923 449h0M921 333h0M873 498h0M971 384h0M894 392h0M829 349h0M949 468h0M886 489h0M987 352h0M865 324h0M886 403h0M919 451h0M916 363h0M886 502h0M798 327h0M802 355h0M931 489h0M869 352h0M976 427h0M827 354h0M906 437h0M1051 418h0M1040 423h0"/><path stroke="#fb9225" stroke-width="6.00" d="M938 488h0M832 481h0M991 377h0M950 367h0M1053 365h0M855 488h0M839 409h0M953 333h0M833 353h0M836 325h0M934 374h0M971 394h0M960 406h0M863 407h0M836 414h0M842 330h0M947 390h0M829 362h0M844 470h0M867 441h0M882 369h0M893 376h0M1013 371h0M936 462h0M849 463h0"/><path stroke="#f5851f" stroke-width="6.00" d="M843 404h0M853 377h0M1010 375h0M858 392h0M887 374h0M980 349h0M954 418h0M848 350h0M877 397h0M850 339h0M953 434h0M850 367h0M821 365h0M822 333h0M874 346h0M1072 414h0M1056 423h0"/><path stroke="#f07818" stroke-width="6.00" d="M969 453h0M1001 384h0M878 353h0M864 352h0M865 381h0M803 337h0M849 465h0M863 491h0M876 501h0M954 356h0"/><path stroke="#e86c12" stroke-width="6.00" d="M850 478h0M961 462h0M843 411h0M933 383h0M837 361h0M1050 419h0M1074 419h0"/><path stroke="#dd5f0c" stroke-width="6.00" d="M826 343h0M961 410h0"/><path stroke="#c84a02" stroke-width="6.00" d="M817 323h0"/><path stroke="#fff7be" stroke-width="6.00" d="M978 341h0M913 348h0"/><path stroke="#fff2b1" stroke-width="6.00" d="M915 495h0M880 475h0M923 483h0M948 410h0M910 368h0M906 334h0"/><path stroke="#feeba2" stroke-width="6.00" d="M905 428h0M981 358h0M942 484h0M926 334h0M894 399h0M932 399h0M974 363h0M904 485h0M934 435h0M863 432h0"/><path stroke="#fee595" stroke-width="6.00" d="M929 361h0M936 334h0M950 349h0M933 459h0M875 488h0M944 397h0M867 431h0M863 429h0M935 498h0M937 381h0M901 488h0M946 359h0M903 346h0M827 472h0M891 442h0M930 407h0M870 501h0M889 353h0M889 355h0M917 431h0M949 336h0M974 420h0M920 472h0M976 391h0"/><path stroke="#fedc82" stroke-width="6.00" d="M917 424h0M851 442h0M833 438h0M914 343h0M940 410h0M888 379h0M831 346h0M909 437h0M883 439h0M946 416h0M834 481h0M990 392h0M938 360h0M964 392h0M884 394h0M984 357h0M945 371h0M910 413h0M909 367h0M845 461h0M891 484h0M923 492h0M864 465h0M902 456h0M921 373h0M867 323h0M850 412h0M914 431h0M962 465h0M879 460h0M862 466h0M974 403h0M852 410h0M895 404h0M900 387h0M853 342h0M899 410h0M889 372h0M981 419h0M935 368h0M862 439h0M907 486h0M890 379h0M917 345h0M873 474h0M861 453h0M903 392h0M849 448h0M1038 426h0"/><path stroke="#fed26d" stroke-width="6.00" d="M896 354h0M1032 363h0M855 352h0M845 339h0M945 425h0M864 354h0M896 433h0M954 457h0M992 400h0M961 338h0M939 333h0M838 363h0M917 497h0M833 478h0M934 470h0M939 499h0M866 429h0M927 400h0M830 433h0M912 457h0M914 461h0M890 330h0M962 375h0M925 466h0M909 483h0M979 359h0M835 453h0M842 325h0M901 342h0M938 349h0M868 450h0M887 418h0M913 333h0M876 502h0M939 439h0M954 402h0M862 511h0M869 397h0M910 396h0M855 370h0M837 364h0M921 468h0M881 363h0M902 386h0M857 438h0M924 376h0M835 437h0M860 486h0M945 483h0M1012 443h0M919 522h0"/><path stroke="#fec857" stroke-width="6.00" d="M952 422h0M899 448h0M956 354h0M838 465h0M912 431h0M915 400h0M886 362h0M1024 363h0M852 344h0M946 471h0M940 466h0M939 331h0M924 417h0M875 372h0M987 351h0M872 455h0M949 371h0M914 423h0M862 363h0M917 479h0M937 340h0M882 370h0M852 406h0M933 353h0M937 384h0M915 340h0M948 443h0M872 434h0M855 391h0M998 361h0M895 372h0M860 508h0M883 331h0M872 354h0M856 494h0M835 443h0M984 356h0M923 485h0M918 499h0M963 464h0M846 491h0M940 351h0M927 394h0M937 398h0M956 436h0M901 340h0M841 405h0M923 351h0M886 441h0M997 356h0M874 350h0M886 487h0M996 365h0M879 365h0M903 389h0M859 336h0M838 443h0M944 428h0M948 382h0"/><path stroke="#febb47" stroke-width="6.00" d="M932 356h0M862 373h0M840 332h0M904 400h0M999 359h0M848 396h0M974 382h0M875 350h0M907 485h0M823 365h0M951 472h0M970 433h0M861 383h0M812 321h0M972 380h0M910 475h0M1041 367h0M861 399h0M812 326h0M986 364h0M894 474h0M925 428h0M927 425h0M956 379h0M845 362h0M804 355h0M943 374h0M873 479h0M954 421h0M906 459h0M962 445h0M943 463h0M950 439h0M863 351h0M963 401h0M991 369h0M852 475h0M906 439h0M895 328h0M911 471h0M971 404h0M948 433h0M855 454h0M970 407h0M907 460h0M827 333h0M924 366h0M839 439h0M873 433h0M920 374h0M964 456h0M881 346h0M852 509h0M796 359h0M869 484h0M865 492h0M838 451h0M853 328h0M852 474h0M851 465h0M913 408h0M896 477h0M975 388h0M1056 424h0"/><path stroke="#feae3b" stroke-width="6.00" d="M922 410h0M926 369h0M953 390h0M819 326h0M860 387h0M923 466h0M953 419h0M819 363h0M912 462h0M806 342h0M834 342h0M875 324h0M846 354h0M814 344h0M989 365h0M924 415h0M993 374h0M874 398h0M920 431h0M949 484h0M848 404h0M1001 377h0M972 375h0M963 452h0M831 324h0M921 336h0M848 432h0M897 485h0M931 328h0M876 470h0M849 412h0M839 439h0M943 451h0M870 355h0M976 392h0M862 384h0M949 427h0M941 492h0M950 404h0M879 498h0M816 362h0M1003 342h0M947 335h0M1045 369h0M977 371h0M882 339h0M797 361h0M836 488h0M961 365h0M957 417h0M864 363h0M904 384h0M817 322h0M871 437h0M825 323h0M856 485h0M961 479h0M909 425h0M869 328h0M913 337h0M917 419h0M1043 427h0M1069 414h0M1045 429h0"/><path stroke="#fea030" stroke-width="6.00" d="M902 389h0M1003 370h0M931 469h0M841 358h0M898 331h0M961 474h0M951 424h0M920 407h0M838 474h0M910 366h0M957 356h0M966 399h0M938 420h0M838 449h0M865 497h0M858 459h0M885 408h0M835 462h0M910 474h0M889 409h0M851 427h0M940 471h0M935 388h0M859 457h0M870 516h0M820 341h0M990 397h0M913 485h0M927 407h0M860 366h0M841 393h0M864 371h0M1052 421h0M1048 420h0"/><path stroke="#fb9225" stroke-width="6.00" d="M842 434h0M931 417h0M872 423h0M865 473h0M984 354h0M854 383h0M839 430h0M940 387h0M860 512h0M901 485h0M919 479h0M940 438h0M867 396h0M896 326h0M901 388h0M840 323h0M952 402h0M833 357h0M953 371h0M827 484h0M1027 367h0M921 442h0M866 428h0M896 373h0M876 478h0M885 410h0M892 346h0M934 415h0M889 465h0M918 493h0M906 385h0M976 374h0M878 390h0M959 407h0M822 364h0M886 360h0M1052 424h0"/><path stroke="#f5851f" stroke-width="6.00" d="M900 451h0M1049 352h0M970 455h0M857 362h0M835 348h0M976 420h0M1037 362h0M945 356h0M844 480h0M927 405h0M848 442h0M908 403h0M879 418h0M868 465h0M865 343h0M926 498h0M980 361h0M907 365h0M850 387h0M897 425h0M846 417h0M819 334h0M932 361h0M917 386h0M1024 356h0M1013 352h0"/><path stroke="#f07818" stroke-width="6.00" d="M829 360h0M847 371h0M818 343h0M832 355h0M960 476h0M826 346h0"/><path stroke="#e86c12" stroke-width="6.00" d="M832 362h0M863 426h0M1025 377h0M861 393h0M1018 353h0M822 348h0M869 523h0"/><path stroke="#dd5f0c" stroke-width="6.00" d="M792 332h0M856 411h0M873 393h0"/><path stroke="#fff2b1" stroke-width="6.00" d="M876 480h0M904 367h0M998 349h0M967 438h0"/><path stroke="#feeba2" stroke-width="6.00" d="M969 365h0M947 372h0M900 483h0M971 343h0M981 445h0M833 453h0M794 351h0M938 393h0M856 329h0M936 376h0M912 494h0M977 384h0M853 329h0"/><path stroke="#fee595" stroke-width="6.00" d="M888 347h0M880 481h0M951 354h0M942 414h0M960 443h0M878 454h0M952 384h0M852 460h0M920 499h0M887 468h0M886 446h0M915 385h0M852 331h0M914 459h0M873 366h0M900 431h0"/><path stroke="#fedc82" stroke-width="6.00" d="M966 419h0M842 467h0M921 473h0M882 408h0M908 422h0M925 495h0M927 469h0M894 358h0M999 370h0M1043 359h0M1000 380h0M954 370h0M955 481h0M971 340h0M959 462h0M844 322h0M842 457h0M932 398h0M833 329h0M944 412h0M884 445h0M918 378h0M908 397h0M896 356h0M972 397h0M968 415h0M835 418h0M910 387h0M906 410h0M909 331h0M914 388h0M962 392h0M993 350h0M911 389h0M957 432h0M853 451h0M955 467h0M933 416h0M1075 419h0M1050 423h0"/><path stroke="#fed26d" stroke-width="6.00" d="M867 451h0M835 487h0M858 476h0M955 372h0M913 422h0M926 466h0M962 423h0M841 343h0M1006 369h0M934 340h0M837 489h0M904 478h0M949 394h0M887 440h0M878 372h0M917 409h0M947 399h0M853 490h0M873 435h0M919 454h0M871 464h0M1024 378h0M935 419h0M909 502h0M933 493h0M896 350h0M935 333h0M897 459h0M864 357h0M949 443h0M851 499h0M814 343h0M966 463h0M958 462h0M967 348h0M839 446h0M995 355h0M1047 355h0M856 322h0M900 356h0M1004 362h0M1001 348h0M866 413h0M928 396h0M961 423h0M978 358h0M795 362h0M876 410h0M902 473h0M900 376h0M922 379h0M940 369h0M863 518h0"/><path stroke="#fec857" stroke-width="6.00" d="M967 443h0M934 495h0M916 328h0M913 421h0M1022 379h0M884 330h0M988 378h0M906 428h0M945 450h0M968 456h0M837 438h0M958 404h0M994 404h0M868 362h0M968 343h0M948 436h0M970 412h0M790 336h0M985 400h0M854 484h0M925 341h0M931 474h0M844 355h0M1013 373h0M968 443h0M877 503h0M915 451h0M795 338h0M903 402h0M907 395h0M921 347h0M912 343h0M948 332h0M1004 342h0M901 346h0M919 414h0M934 361h0M979 356h0M870 513h0M962 373h0M936 493h0M837 412h0M934 446h0M961 358h0M915 483h0M899 400h0M975 419h0M862 459h0M875 403h0M906 483h0M1047 424h0"/><path stroke="#febb47" stroke-width="6.00" d="M833 450h0M902 359h0M862 358h0M940 372h0M894 452h0M802 352h0M868 445h0M981 417h0M879 503h0M890 338h0M913 393h0M1017 377h0M989 349h0M918 477h0M878 334h0M931 423h0M883 492h0M951 478h0M925 471h0M914 342h0M863 473h0M854 335h0M912 430h0M916 501h0M965 465h0M996 386h0M856 342h0M918 448h0M972 463h0M882 345h0M902 370h0M961 417h0M850 346h0M882 435h0M853 352h0M851 371h0M943 401h0M997 399h0M862 495h0M870 344h0M903 389h0M857 431h0M817 335h0M927 478h0M1025 351h0M900 350h0M921 419h0M892 459h0M873 339h0M858 446h0M843 491h0M862 425h0M948 465h0M904 429h0M826 351h0M928 365h0M942 444h0M952 410h0M863 484h0M889 421h0M981 366h0M953 398h0M991 391h0M840 490h0M937 396h0M833 453h0M864 434h0M925 392h0M924 401h0M846 470h0M983 366h0M965 389h0M1021 384h0M1015 441h0M1056 423h0M1047 419h0"/><path stroke="#feae3b" stroke-width="6.00" d="M1032 379h0M954 409h0M839 342h0M894 495h0M883 356h0M993 381h0M923 405h0M998 357h0M943 453h0M915 486h0M1030 372h0M861 492h0M875 410h0M891 389h0M917 368h0M990 363h0M849 328h0M850 350h0M957 385h0M849 345h0M960 421h0M853 458h0M924 392h0M952 394h0M873 377h0M856 403h0M927 377h0M915 501h0M843 349h0M917 457h0M867 485h0M965 428h0M904 448h0M866 367h0M923 432h0M833 361h0M847 342h0M992 363h0M820 340h0M842 392h0M1029 371h0M811 334h0M1007 384h0M882 410h0M868 492h0M1036 365h0M1051 364h0M945 429h0M865 447h0M974 410h0M917 365h0M931 351h0M952 357h0M977 449h0M870 381h0M946 351h0M937 489h0M943 461h0M1038 363h0M811 346h0M951 420h0M947 455h0M902 349h0M878 435h0M998 360h0M1071 414h0"/><path stroke="#fea030" stroke-width="6.00" d="M861 430h0M861 505h0M884 338h0M884 435h0M874 497h0M889 377h0M996 396h0M977 357h0M903 437h0M948 365h0M865 462h0M938 364h0M917 484h0M863 379h0M948 397h0M920 439h0M866 347h0M825 362h0M906 486h0M870 358h0M966 402h0M935 499h0M880 503h0M995 370h0M906 334h0M878 482h0M864 352h0M879 394h0M888 446h0M851 429h0M948 359h0M818 349h0M882 345h0M919 369h0M945 374h0M969 433h0M919 413h0M849 336h0M976 377h0M849 368h0M949 472h0M836 421h0M891 471h0M927 389h0M972 374h0M856 388h0M1045 369h0M1003 378h0M1021 367h0M860 332h0M889 424h0M873 413h0M1001 418h0"/><path stroke="#fb9225" stroke-width="6.00" d="M884 423h0M917 395h0M874 350h0M892 329h0M818 358h0M959 461h0M839 339h0M821 337h0M1026 365h0M827 365h0M1030 378h0M860 473h0M877 393h0M835 326h0M941 486h0M965 413h0M873 336h0M994 367h0M1016 360h0M821 338h0M929 360h0M947 465h0M839 483h0M1009 363h0M875 360h0M868 484h0M945 445h0M942 414h0M819 319h0M976 441h0M922 349h0M965 458h0M956 348h0M908 437h0M798 347h0M918 482h0M952 398h0M865 381h0M926 355h0M981 344h0M976 430h0M929 405h0"/><path stroke="#f5851f" stroke-width="6.00" d="M897 499h0M940 431h0M914 368h0M837 356h0M820 316h0M849 428h0M841 347h0M844 401h0M1000 363h0M892 340h0M999 386h0M865 425h0M903 485h0M842 446h0M818 353h0M1017 376h0M863 392h0M866 441h0M847 345h0M903 366h0"/><path stroke="#f07818" stroke-width="6.00" d="M823 336h0M824 360h0M929 476h0M951 355h0M837 453h0M909 327h0M998 351h0M824 328h0M861 361h0M828 354h0M1035 366h0M896 409h0M841 404h0M794 343h0M933 376h0"/><path stroke="#e86c12" stroke-width="6.00" d="M838 387h0M808 332h0M833 430h0"/><path stroke="#dd5f0c" stroke-width="6.00" d="M934 455h0M920 406h0"/><path stroke="#d35406" stroke-width="6.00" d="M827 365h0M859 386h0M825 355h0M1017 381h0"/><path stroke="#fffacb" stroke-width="6.00" d="M1040 428h0"/><path stroke="#fff7be" stroke-width="6.00" d="M951 461h0"/><path stroke="#fff2b1" stroke-width="6.00" d="M908 414h0M949 407h0M885 351h0M930 372h0M966 401h0M885 327h0M900 476h0"/><path stroke="#feeba2" stroke-width="6.00" d="M943 382h0M884 370h0M850 427h0M960 449h0M888 464h0M904 500h0M934 456h0M900 411h0M951 405h0"/><path stroke="#fee595" stroke-width="6.00" d="M871 496h0M902 390h0M947 373h0M893 404h0M869 504h0M855 389h0M905 430h0M976 423h0M993 351h0M871 496h0M1046 420h0"/><path stroke="#fedc82" stroke-width="6.00" d="M890 486h0M942 432h0M948 339h0M883 470h0M932 387h0M945 356h0M862 463h0M917 398h0M970 437h0M814 365h0M865 325h0M983 398h0M913 382h0M930 443h0M933 388h0M929 356h0M901 477h0M952 372h0M928 388h0M939 489h0M926 387h0M831 452h0M872 423h0M895 443h0M912 394h0M902 324h0M932 478h0M916 449h0M963 444h0M863 472h0M895 402h0M869 506h0M914 410h0M972 411h0M807 357h0M864 329h0M926 398h0M1017 443h0M918 524h0"/><path stroke="#fed26d" stroke-width="6.00" d="M889 452h0M964 408h0M932 381h0M916 382h0M942 488h0M871 342h0M890 373h0M846 332h0M942 437h0M994 379h0M898 453h0M970 433h0M894 330h0M882 436h0M971 365h0M870 335h0M969 434h0M873 476h0M938 469h0M861 424h0M1036 358h0M879 445h0M896 496h0M845 493h0M977 345h0M879 327h0M834 345h0M855 461h0M941 370h0M906 474h0M929 401h0M960 441h0M1041 373h0M886 407h0M958 360h0M981 447h0M908 430h0M922 492h0M908 496h0M904 412h0M835 484h0M900 397h0M891 402h0M885 500h0M936 417h0M899 411h0M926 378h0M906 364h0M848 441h0M990 355h0M908 394h0M959 345h0M911 497h0M956 399h0M840 457h0M1044 425h0"/><path stroke="#fec857" stroke-width="6.00" d="M933 382h0M915 404h0M931 391h0M966 435h0M975 407h0M899 434h0M899 373h0M899 412h0M970 456h0M893 351h0M1036 353h0M903 462h0M863 480h0M867 451h0M841 468h0M968 379h0M926 435h0M915 340h0M957 391h0M842 417h0M945 337h0M1038 359h0M949 438h0M839 466h0M915 393h0M967 434h0M957 442h0M970 363h0M938 419h0M888 460h0M936 438h0M932 469h0M920 379h0M927 432h0M874 397h0M866 463h0M945 421h0M954 400h0M985 393h0M937 459h0M907 481h0M870 384h0M879 485h0M1051 435h0M1057 424h0M1039 428h0M1041 425h0"/><path stroke="#febb47" stroke-width="6.00" d="M886 464h0M869 375h0M985 392h0M920 422h0M856 337h0M966 465h0M917 475h0M976 370h0M1008 386h0M902 368h0M929 408h0M910 340h0M1046 371h0M831 325h0M974 360h0M991 350h0M932 425h0M805 346h0M953 468h0M883 400h0M920 345h0M859 495h0M924 461h0M951 418h0M910 426h0M943 363h0M932 374h0M975 346h0M915 486h0M936 498h0M916 421h0M897 450h0M917 447h0M940 359h0M841 470h0M964 361h0M943 328h0M878 488h0M862 450h0M965 408h0M944 466h0M965 420h0M1023 350h0M860 442h0M871 468h0M939 332h0M901 451h0M1004 348h0M871 345h0M876 441h0M982 375h0M951 423h0M800 342h0M911 373h0M840 357h0M846 430h0M879 472h0M974 442h0M941 469h0M841 424h0M865 348h0M1043 359h0M1060 422h0"/><path stroke="#feae3b" stroke-width="6.00" d="M898 407h0M848 473h0M837 455h0M970 363h0M929 415h0M934 353h0M940 419h0M939 437h0M941 440h0M958 400h0M940 372h0M956 466h0M830 341h0M942 413h0M915 405h0M888 336h0M849 367h0M921 475h0M935 396h0M1010 373h0M855 479h0M1011 350h0M921 440h0M920 476h0M808 356h0M855 452h0M941 353h0M901 372h0M1052 360h0M884 330h0M894 393h0M879 382h0M863 469h0M910 376h0M1003 371h0M974 346h0M923 396h0M1022 379h0M912 396h0M933 490h0M979 342h0M881 500h0M947 473h0M944 395h0M995 381h0M980 387h0M864 387h0M965 460h0M905 446h0M935 477h0M968 361h0M878 457h0M969 398h0M937 451h0M924 348h0M884 473h0M810 347h0M826 348h0M871 413h0M867 368h0M1006 345h0M843 323h0M952 448h0M929 419h0M872 445h0M896 366h0M867 346h0M903 492h0M928 496h0M931 472h0M875 412h0M1070 418h0M1056 431h0M1053 418h0M1054 419h0M1054 421h0M1050 430h0"/><path stroke="#fea030" stroke-width="6.00" d="M959 450h0M831 335h0M831 477h0M1015 381h0M926 395h0M883 347h0M857 395h0M843 392h0M901 473h0M978 383h0M1033 353h0M865 383h0M895 392h0M959 368h0M926 490h0M905 377h0M848 340h0M894 354h0M981 406h0M835 484h0M884 470h0M849 485h0M909 378h0M837 427h0M996 398h0M939 434h0M841 438h0M838 345h0M969 372h0M959 354h0M908 420h0M914 470h0M919 412h0M880 345h0M881 394h0M903 332h0M925 344h0M873 414h0M1004 348h0M974 410h0M903 408h0M915 468h0M974 383h0M856 431h0M852 510h0M936 490h0M861 407h0M851 414h0M879 330h0M865 419h0M816 363h0M935 451h0M1040 427h0"/><path stroke="#fb9225" stroke-width="6.00" d="M986 348h0M929 457h0M953 390h0M876 396h0M867 366h0M941 475h0M991 405h0M873 419h0M963 467h0M907 411h0M904 465h0M863 517h0M954 464h0M884 377h0M854 342h0M879 388h0M838 489h0M824 360h0M853 465h0M893 495h0M860 406h0M862 504h0M964 359h0M854 457h0M925 480h0M981 346h0M900 472h0M895 363h0M879 360h0M843 332h0M900 363h0M925 359h0M941 390h0M896 427h0M1043 424h0"/><path stroke="#f5851f" stroke-width="6.00" d="M955 412h0M840 482h0M817 356h0M1012 381h0M923 487h0M931 392h0M1037 362h0M921 458h0M892 472h0M945 407h0M839 411h0M804 339h0M1003 391h0M1044 354h0M881 376h0M857 457h0M863 368h0M816 352h0M866 465h0M974 350h0M892 399h0M842 487h0M936 445h0M905 346h0M986 358h0M966 462h0M816 331h0M935 489h0M932 437h0M854 383h0"/><path stroke="#f07818" stroke-width="6.00" d="M1044 363h0M835 340h0M852 428h0M1026 357h0M875 465h0M867 411h0M994 387h0M857 340h0M922 377h0M848 408h0M848 400h0M979 389h0"/><path stroke="#e86c12" stroke-width="6.00" d="M965 458h0M831 457h0M822 333h0M955 442h0"/><path stroke="#dd5f0c" stroke-width="6.00" d="M864 430h0M941 394h0M999 343h0M854 380h0M1070 415h0"/><path stroke="#d35406" stroke-width="6.00" d="M927 415h0"/><path stroke="#fff7be" stroke-width="6.00" d="M846 425h0"/><path stroke="#fff2b1" stroke-width="6.00" d="M980 349h0M915 428h0M949 406h0M899 495h0M915 350h0M915 374h0M897 440h0"/><path stroke="#feeba2" stroke-width="6.00" d="M858 501h0M908 380h0M914 337h0M966 371h0M880 468h0M856 493h0M897 401h0M887 373h0M1010 355h0M948 369h0"/><path stroke="#fee595" stroke-width="6.00" d="M915 496h0M1049 361h0M884 398h0M872 333h0M974 417h0M947 432h0M970 459h0M927 487h0M996 400h0M956 367h0M876 350h0M945 332h0M973 427h0M881 470h0M889 331h0M993 376h0M1040 361h0M878 508h0M869 390h0M960 383h0"/><path stroke="#fedc82" stroke-width="6.00" d="M961 372h0M917 381h0M963 430h0M956 437h0M805 347h0M893 433h0M905 428h0M946 389h0M894 419h0M877 377h0M853 427h0M902 334h0M907 499h0M923 497h0M859 328h0M961 342h0M944 415h0M926 426h0M963 429h0M1038 360h0M908 350h0M920 433h0M987 394h0M914 461h0M914 420h0M870 362h0M944 467h0M883 368h0M980 403h0M917 349h0M929 465h0M856 431h0M990 377h0M882 494h0M896 402h0M912 430h0M897 400h0M931 464h0M939 476h0M927 413h0M1029 358h0M901 369h0M852 450h0"/><path stroke="#fed26d" stroke-width="6.00" d="M971 396h0M861 467h0M900 396h0M829 482h0M920 380h0M907 428h0M796 339h0M930 412h0M981 376h0M880 458h0M990 359h0M864 471h0M992 354h0M814 320h0M896 444h0M899 447h0M929 452h0M947 451h0M967 370h0M940 452h0M890 406h0M950 351h0M894 399h0M889 411h0M887 386h0M793 339h0M841 402h0M977 386h0M893 463h0M972 437h0M881 474h0M974 357h0M872 402h0M872 479h0M961 364h0M939 359h0M958 356h0M911 391h0M838 450h0M964 438h0M881 431h0M929 476h0M898 456h0M965 430h0M902 342h0M935 357h0M942 346h0M986 401h0M885 455h0M866 412h0M849 451h0M934 341h0M881 465h0M851 489h0M912 471h0M892 405h0M835 451h0M961 404h0M960 402h0M1052 425h0M1052 422h0"/><path stroke="#fec857" stroke-width="6.00" d="M1056 355h0M983 366h0M960 442h0M902 416h0M911 326h0M913 432h0M962 337h0M849 483h0M844 421h0M880 502h0M842 342h0M985 357h0M961 439h0M888 502h0M906 401h0M896 437h0M864 471h0M876 425h0M939 497h0M947 366h0M896 436h0M833 348h0M873 405h0M942 349h0M887 461h0M999 354h0M969 428h0M860 465h0M917 496h0M913 398h0M1043 368h0M1043 371h0M873 481h0M864 442h0M888 501h0M866 365h0M911 479h0M860 483h0M886 409h0M848 437h0M958 403h0M956 373h0M918 490h0M806 335h0M913 407h0M969 445h0M896 375h0M934 373h0M855 454h0M838 459h0M926 412h0M910 336h0M798 345h0M920 330h0M946 359h0M953 378h0M914 416h0M864 462h0M904 490h0M880 423h0M878 408h0M872 413h0M869 337h0M954 367h0M842 403h0"/><path stroke="#febb47" stroke-width="6.00" d="M913 442h0M928 490h0M899 360h0M958 402h0M886 504h0M842 456h0M905 366h0M936 480h0M898 443h0M842 443h0M877 441h0M981 407h0M944 389h0M991 370h0M956 391h0M930 337h0M935 499h0M869 484h0M941 349h0M885 403h0M921 352h0M939 347h0M958 341h0M913 477h0M852 419h0M942 382h0M946 370h0M918 495h0M905 326h0M924 347h0M950 421h0M969 349h0M867 420h0M1011 358h0M947 390h0M959 360h0M992 384h0M916 329h0M895 376h0M861 382h0M953 457h0M850 325h0M980 375h0M979 361h0M899 360h0M923 329h0M979 403h0M890 350h0M908 442h0M824 337h0M926 404h0M1027 368h0M851 347h0M870 362h0M893 343h0M972 405h0M868 404h0M902 493h0M922 426h0M839 472h0M884 333h0M883 349h0M1048 423h0M1054 419h0"/><path stroke="#feae3b" stroke-width="6.00" d="M939 450h0M907 492h0M969 387h0M865 478h0M943 403h0M990 389h0M987 377h0M930 375h0M935 351h0M826 335h0M899 366h0M997 401h0M1009 381h0M964 430h0M1038 373h0M966 420h0M895 456h0M859 427h0M994 378h0M930 336h0M952 480h0M990 410h0M1025 351h0M878 428h0M890 490h0M905 449h0M844 491h0M922 491h0M945 452h0M839 340h0M838 332h0M955 478h0M1051 355h0M921 385h0M974 355h0M833 330h0M890 346h0M959 379h0M869 464h0M930 453h0M891 434h0M978 449h0M834 458h0M859 446h0M961 388h0M1045 369h0M892 377h0M946 364h0M878 337h0M925 396h0M967 408h0M853 403h0M845 421h0M843 408h0M860 325h0M856 443h0M917 415h0M869 420h0M919 439h0M941 460h0M1025 363h0M902 412h0M881 468h0M853 490h0M925 413h0M867 367h0M874 342h0M879 399h0M832 454h0M1060 424h0M1078 418h0"/><path stroke="#fea030" stroke-width="6.00" d="M831 353h0M841 344h0M876 446h0M1017 380h0M865 427h0M866 480h0M863 336h0M910 412h0M871 334h0M834 350h0M1008 345h0M898 418h0M1025 364h0M856 341h0M899 359h0M959 370h0M850 389h0M849 451h0M875 486h0M921 478h0M962 444h0M853 499h0M844 496h0M928 356h0M877 481h0M848 428h0M848 336h0M847 362h0M866 342h0M966 375h0M837 431h0M967 446h0M871 434h0M842 342h0M905 352h0M799 330h0M911 394h0M884 431h0M975 387h0M900 431h0M915 370h0M873 383h0M834 439h0M1013 348h0M854 405h0M916 332h0M997 390h0M825 361h0M864 389h0"/><path stroke="#fb9225" stroke-width="6.00" d="M1023 362h0M961 460h0M886 346h0M886 377h0M857 386h0M844 391h0M911 497h0M940 415h0M821 321h0M877 406h0M851 444h0M863 464h0M1045 366h0M957 426h0M858 391h0M827 364h0M942 458h0M898 344h0M841 342h0M992 388h0M822 332h0M835 483h0M825 325h0M879 376h0M964 458h0M957 351h0M942 415h0M832 359h0M974 414h0M884 501h0M919 494h0M871 446h0M939 430h0M883 449h0M868 438h0M879 448h0M830 356h0M863 326h0M1070 416h0"/><path stroke="#f5851f" stroke-width="6.00" d="M854 340h0M849 356h0M814 323h0M876 357h0M873 406h0M868 413h0M857 419h0M866 413h0M917 471h0M802 329h0M817 344h0M875 355h0"/><path stroke="#f07818" stroke-width="6.00" d="M816 346h0M836 348h0M912 425h0M868 431h0M894 438h0M843 436h0M996 383h0M846 396h0M1016 444h0M1040 424h0M1039 428h0"/><path stroke="#e86c12" stroke-width="6.00" d="M848 372h0M871 399h0M1018 351h0M844 326h0M824 358h0M847 484h0M830 358h0M1000 382h0M847 384h0M843 409h0M858 390h0"/><path stroke="#dd5f0c" stroke-width="6.00" d="M869 393h0M809 357h0M817 355h0M1017 351h0M848 395h0M813 332h0M887 408h0M896 395h0M862 370h0"/><path stroke="#d35406" stroke-width="6.00" d="M949 476h0M817 346h0M926 412h0"/><path stroke="#fff7be" stroke-width="6.00" d="M934 346h0M906 427h0"/><path stroke="#feeba2" stroke-width="6.00" d="M1035 354h0M847 454h0M917 393h0M913 492h0M925 386h0M1029 360h0M953 334h0M910 375h0"/><path stroke="#fee595" stroke-width="6.00" d="M971 388h0M900 453h0M904 385h0M909 397h0M926 451h0M886 433h0M918 390h0M979 386h0M997 396h0M987 357h0M956 387h0M927 486h0M843 495h0M882 431h0M928 368h0M911 410h0M909 340h0M883 461h0M917 497h0M1017 440h0"/><path stroke="#fedc82" stroke-width="6.00" d="M997 392h0M925 334h0M953 408h0M960 459h0M917 445h0M904 385h0M849 464h0M918 339h0M868 347h0M889 338h0M946 469h0M943 479h0M828 334h0M1003 364h0M934 436h0M832 336h0M915 393h0M916 475h0M854 431h0M905 404h0M937 332h0M899 457h0M907 484h0M888 343h0M958 417h0M878 477h0M897 461h0M886 472h0M883 356h0M870 491h0M894 340h0M899 483h0M992 406h0M990 406h0M878 506h0M887 427h0M920 447h0M899 410h0M1071 419h0M1050 422h0M1035 427h0"/><path stroke="#fed26d" stroke-width="6.00" d="M883 421h0M924 327h0M922 394h0M903 479h0M915 417h0M863 454h0M954 435h0M840 322h0M867 331h0M897 434h0M943 473h0M847 461h0M927 390h0M876 398h0M909 495h0M928 372h0M877 470h0M978 441h0M864 445h0M956 415h0M890 502h0M924 406h0M879 478h0M855 383h0M974 431h0M963 414h0M918 350h0M973 354h0M800 350h0M843 364h0M912 424h0M907 400h0M960 432h0M945 465h0M849 336h0M852 322h0M875 331h0M897 387h0M986 406h0M872 396h0M945 465h0M881 379h0M904 501h0M926 501h0M903 401h0M1005 387h0M917 441h0M993 400h0M936 371h0M866 493h0M854 480h0M934 425h0M909 455h0M919 464h0M997 375h0M884 375h0M847 325h0"/><path stroke="#fec857" stroke-width="6.00" d="M1027 379h0M895 341h0M912 428h0M896 433h0M963 472h0M818 323h0M967 468h0M849 489h0M972 421h0M839 405h0M964 454h0M1007 344h0M970 397h0M910 436h0M972 420h0M1004 363h0M903 403h0M880 499h0M828 474h0M975 457h0M898 347h0M917 342h0M893 456h0M927 402h0M858 345h0M921 369h0M880 328h0M806 353h0M880 344h0M970 421h0M864 454h0M890 411h0M1010 352h0M949 427h0M899 358h0M920 382h0M959 426h0M919 339h0M972 414h0M910 366h0M916 479h0M868 378h0M885 505h0M942 410h0M802 361h0M826 489h0M864 472h0M1039 355h0M1053 352h0M919 374h0M1015 373h0M867 450h0M938 390h0M906 362h0M963 398h0M924 402h0M829 427h0M821 325h0M1044 427h0M1044 430h0"/><path stroke="#febb47" stroke-width="6.00" d="M943 347h0M903 369h0M915 399h0M859 494h0M844 356h0M875 417h0M952 397h0M858 504h0M881 464h0M993 344h0M993 350h0M947 344h0M997 381h0M899 492h0M861 384h0M948 332h0M1041 354h0M924 334h0M849 335h0M867 420h0M937 365h0M888 487h0M844 489h0M941 463h0M791 337h0M921 501h0M979 409h0M791 342h0M956 461h0M882 375h0M868 350h0M840 465h0M919 355h0M851 419h0M814 339h0M858 323h0M969 361h0M843 463h0M892 440h0M856 418h0M893 468h0M884 349h0M909 445h0M940 433h0M842 454h0M939 337h0M873 373h0M896 476h0M846 334h0M856 361h0M890 428h0M902 412h0M982 448h0M940 433h0M884 473h0M970 373h0M1007 360h0M944 481h0M900 370h0M924 415h0M829 345h0M851 502h0M886 331h0M893 382h0M826 335h0"/><path stroke="#feae3b" stroke-width="6.00" d="M918 422h0M923 449h0M946 427h0M912 438h0M918 354h0M957 404h0M985 416h0M917 374h0M955 475h0M792 335h0M1040 361h0M958 459h0M856 376h0M860 339h0M851 450h0M952 392h0M911 449h0M962 397h0M915 331h0M881 420h0M960 356h0M994 377h0M1028 363h0M877 377h0M865 420h0M843 359h0M926 449h0M954 432h0M915 420h0M875 354h0M888 487h0M864 485h0M855 348h0M859 332h0M942 422h0M894 391h0M887 439h0M1014 358h0M917 341h0M912 359h0M883 359h0M873 453h0M904 355h0M1043 355h0M871 474h0M883 472h0M863 493h0M891 341h0M925 449h0M966 436h0M944 345h0M871 447h0M896 415h0M922 475h0M849 433h0M818 316h0M902 440h0M1040 429h0M1068 417h0"/><path stroke="#fea030" stroke-width="6.00" d="M864 456h0M845 386h0M914 381h0M877 500h0M877 344h0M891 430h0M910 446h0M1031 366h0M926 349h0M888 477h0M869 467h0M921 451h0M842 408h0M823 360h0M884 370h0M979 354h0M875 372h0M839 433h0M1011 370h0M1028 375h0M808 352h0M864 425h0M947 475h0M841 466h0M857 492h0M871 437h0M888 446h0M998 388h0M880 418h0M977 350h0M986 447h0M921 335h0M944 479h0M926 468h0M864 413h0M825 359h0M899 472h0M863 371h0M816 360h0M822 337h0M858 366h0M992 385h0M938 476h0M941 456h0M896 500h0M851 416h0M828 483h0M842 348h0M895 344h0M860 481h0M982 369h0M965 344h0M867 515h0M848 354h0M1015 369h0M894 429h0M859 402h0M1044 427h0"/><path stroke="#fb9225" stroke-width="6.00" d="M908 499h0M919 408h0M890 473h0M825 323h0M835 447h0M819 342h0M952 468h0M893 328h0M906 431h0M907 338h0M1001 353h0M1010 365h0M857 327h0M983 371h0M877 408h0M892 443h0M938 466h0M859 394h0M823 366h0M964 400h0M937 380h0M858 394h0M1007 343h0M902 390h0M844 440h0M913 460h0M998 394h0M850 426h0M817 359h0M894 355h0M865 471h0M882 480h0M869 433h0"/><path stroke="#f5851f" stroke-width="6.00" d="M851 415h0M1002 355h0M900 414h0M1007 358h0M863 387h0M944 334h0M871 361h0M792 338h0M829 426h0M973 357h0M1018 360h0M871 421h0M931 419h0M851 366h0M1037 364h0M840 409h0M938 500h0M860 396h0M858 401h0M806 347h0M968 468h0M889 389h0M1032 358h0M881 507h0"/><path stroke="#f07818" stroke-width="6.00" d="M913 370h0M854 444h0M859 389h0M854 502h0M891 473h0M812 349h0M819 340h0M968 463h0M832 460h0"/><path stroke="#e86c12" stroke-width="6.00" d="M835 349h0M855 355h0M955 440h0M1071 417h0M1045 426h0"/><path stroke="#dd5f0c" stroke-width="6.00" d="M825 339h0M864 407h0M793 333h0M969 461h0"/><path stroke="#d35406" stroke-width="6.00" d="M1000 374h0M865 390h0M912 369h0M821 346h0"/><path stroke="#c84a02" stroke-width="6.00" d="M863 516h0M828 348h0"/><path stroke="#b84203" stroke-width="6.00" d="M843 394h0"/><path stroke="#a63a03" stroke-width="6.00" d="M855 399h0"/><path stroke="#fff" stroke-width="2.00" d="M998 384h0M910 336h0M978 450h0M940 427h0M898 350h0M1004 373h0M973 448h0M902 385h0M1050 369h0M816 344h0M866 467h0M849 429h0M922 468h0M834 325h0M854 445h0M935 433h0M930 357h0M954 362h0M866 360h0M911 449h0M841 366h0M858 472h0M916 354h0M946 368h0M982 441h0M839 482h0M836 456h0M989 345h0M923 340h0M877 447h0M863 370h0M866 518h0M941 487h0M917 492h0M909 430h0M940 415h0M936 351h0M877 321h0M912 445h0M809 356h0M848 346h0M938 433h0M875 441h0M873 499h0M967 376h0M836 386h0M834 328h0M947 397h0M788 329h0M906 347h0M828 349h0M942 388h0M844 437h0M921 432h0M914 333h0M879 511h0M817 345h0M904 463h0M874 493h0M943 490h0M852 436h0M901 371h0M801 324h0M802 341h0M936 431h0M852 320h0M826 488h0M884 492h0M845 415h0M1023 347h0M812 345h0M910 331h0M897 429h0M965 448h0M866 457h0M853 517h0M893 391h0M933 479h0M1049 354h0M943 331h0M926 370h0M900 338h0M876 331h0M978 452h0M866 326h0M915 412h0M888 411h0M941 439h0M916 328h0M984 401h0M917 459h0M853 471h0M984 387h0M1036 378h0M1012 364h0M970 468h0M974 454h0M909 324h0M920 356h0M905 468h0M931 443h0M830 474h0M959 378h0M826 469h0M868 376h0M869 323h0M839 433h0M953 413h0M847 423h0M848 418h0M919 427h0M912 441h0M908 375h0M930 441h0M833 482h0M832 429h0M898 432h0M951 396h0M914 468h0M970 427h0M918 386h0M865 356h0M853 382h0M880 402h0M930 362h0M934 440h0M982 355h0M876 472h0M956 330h0M961 428h0M867 379h0M874 368h0M959 467h0M901 400h0M854 363h0M976 449h0M935 373h0M859 378h0M876 493h0M822 478h0M883 501h0M850 344h0M938 371h0M850 321h0M957 363h0M817 359h0M900 397h0M894 460h0M887 394h0M861 509h0M945 428h0M1012 351h0M910 434h0M969 464h0M934 464h0M889 371h0M885 502h0M994 397h0M922 477h0M878 463h0M860 516h0M962 381h0M881 505h0M921 425h0M842 406h0M914 350h0M802 363h0M903 376h0M902 417h0M1001 345h0M871 459h0M803 326h0M1008 389h0M953 481h0"/><path stroke="#fff" stroke-width="2.80" d="M939 331h0M992 411h0M892 492h0M952 336h0M954 387h0M1045 368h0M948 485h0M957 350h0M812 365h0M884 434h0M839 412h0M935 333h0M974 394h0M874 343h0M854 429h0M840 347h0M967 378h0M924 504h0M873 438h0M896 384h0M885 485h0M920 481h0M963 397h0M840 463h0M871 443h0M993 375h0M966 449h0M872 441h0M881 341h0M874 364h0M837 327h0M947 344h0M845 449h0M841 357h0M941 451h0M879 327h0M1008 342h0M900 370h0M835 437h0M921 482h0M972 367h0M981 440h0M980 396h0M901 417h0M853 365h0M973 397h0M849 461h0M947 335h0M873 483h0M983 402h0M967 353h0M872 451h0M979 400h0M1001 347h0M845 483h0M894 495h0M884 449h0M964 344h0M904 387h0M950 361h0M947 476h0M861 458h0M943 338h0M952 460h0M920 426h0M850 439h0M939 502h0M968 395h0M880 404h0M889 331h0M938 396h0M962 477h0M871 408h0M907 388h0M905 402h0M893 355h0M859 477h0M842 455h0M901 414h0M874 374h0M880 488h0M868 358h0M925 496h0M993 357h0M962 342h0M901 413h0M907 461h0M815 331h0M977 395h0M822 333h0M843 454h0M848 447h0M992 379h0M905 463h0M959 460h0M919 421h0M948 332h0M845 404h0M875 397h0M844 442h0M871 367h0M848 460h0M1011 344h0M904 367h0M868 431h0M981 394h0M889 458h0M904 479h0M965 350h0M856 437h0M812 327h0M953 439h0M854 432h0M956 369h0M893 459h0M927 495h0M862 458h0M934 364h0M919 397h0M929 437h0M831 445h0M926 481h0M883 382h0M957 403h0M841 416h0M846 487h0M869 512h0M897 406h0M858 382h0M874 361h0M911 415h0M920 374h0M914 352h0M925 325h0M868 364h0M867 493h0M851 385h0M851 395h0M859 514h0M865 466h0M867 473h0M876 511h0M881 429h0M868 351h0M898 350h0M986 362h0M867 393h0M918 328h0M949 400h0M968 453h0M850 457h0M837 393h0M937 364h0M936 381h0M872 442h0M977 449h0M845 413h0M854 502h0M858 324h0M874 471h0M920 465h0M863 387h0M817 355h0M845 490h0M972 386h0M909 460h0M920 483h0M910 339h0M817 336h0M970 388h0M853 507h0M960 422h0M896 329h0"/><path stroke="#fff" stroke-width="3.60" d="M845 368h0M956 381h0M986 362h0M912 434h0M849 432h0M891 407h0M889 341h0M922 357h0M998 354h0M855 391h0M930 400h0M923 378h0M879 490h0M931 333h0M898 387h0M970 417h0M987 371h0M933 332h0M983 388h0M887 378h0M904 461h0M844 361h0M924 484h0M833 481h0M847 383h0M984 386h0M858 443h0M790 341h0M990 449h0M874 413h0M1030 354h0M963 442h0M847 366h0M803 339h0M828 428h0M803 353h0M924 382h0M973 379h0M981 457h0M928 482h0M932 497h0M994 366h0M894 449h0M882 330h0M994 372h0M949 354h0M990 353h0M832 417h0M816 369h0M965 377h0M1020 356h0M827 458h0M899 368h0M885 379h0M844 452h0M992 385h0M886 403h0M832 468h0M902 384h0M926 423h0M849 493h0M897 472h0M949 357h0M942 389h0M890 421h0M929 460h0M930 352h0M880 414h0M872 350h0M939 366h0M937 485h0M915 410h0M917 404h0M851 500h0M901 368h0M888 499h0M898 486h0M924 487h0M840 351h0M971 459h0M886 465h0M944 409h0M920 479h0M838 403h0M835 418h0M864 421h0M920 327h0M926 490h0M852 430h0M850 336h0M794 343h0M888 377h0M912 376h0M888 336h0M880 450h0M867 394h0M898 401h0M927 440h0M957 398h0M914 462h0M881 456h0M918 462h0M917 455h0M976 407h0M945 372h0M912 482h0M972 382h0M858 486h0M953 438h0M981 399h0M962 421h0M971 377h0M901 416h0M857 330h0M886 375h0M897 333h0M841 459h0M979 346h0M1006 374h0M926 441h0M955 417h0M920 357h0M966 395h0M873 385h0M931 417h0M1023 369h0M939 494h0M815 363h0M925 476h0M896 367h0M825 353h0M956 382h0M961 412h0M839 320h0M947 437h0M880 351h0M947 447h0M846 502h0M940 326h0M930 328h0M982 345h0M860 375h0M946 490h0M932 472h0M982 456h0M910 413h0M905 440h0M782 336h0M942 401h0M986 447h0M960 352h0M874 465h0M863 341h0M963 399h0M855 394h0M954 453h0M869 354h0M919 453h0M868 423h0M864 334h0M953 455h0M923 493h0M1002 396h0M934 406h0M995 351h0M919 460h0M972 429h0M960 420h0M963 425h0M952 346h0M837 411h0M874 400h0M965 424h0"/><path stroke="none" marker-start="url(#ra)" marker-mid="url(#ra)" marker-end="url(#ra)" d="M836 486L926 410L930 423L917 419L1043 366L847 435L862 462L864 353L893 440L883 380L957 362L886 452L841 401L982 452L888 439L988 398L889 462L1003 379L999 403L980 443L921 446L882 499L816 324L899 423L860 469L922 361L821 318L919 371L919 358L948 335L1006 383L876 496L843 334L797 339L982 355L844 445L1010 378L899 392L874 378L846 490L848 474L911 402L801 350L796 351L955 467L816 328L897 448L971 343L845 477L879 376L918 387L996 399L852 376L1039 357L962 383L924 492L850 373L877 423L1019 367L965 448L911 408L972 464L899 343L899 498L872 441L939 372L882 362L978 374L873 366L882 353L985 353L958 385L964 388L845 458L819 366L817 317L962 480L856 327L891 371L850 501L811 343L855 470L901 367L951 445L872 471L908 362L926 322L953 393L959 347L860 438L937 404L1002 339L980 454L933 378L908 452L962 377L864 462L798 354L904 346L1030 381L845 448L887 360L974 381L999 343L892 430L894 474L891 490L837 442L907 366L863 334L1008 369L852 430L866 369L879 499L972 366L860 379L976 431L1022 358L875 395L836 443L969 445L851 439L869 352L884 492L953 332L938 331L981 386L935 443L901 436L954 369L946 384L913 380L841 421L865 333L977 349L954 391L865 482L860 476L887 361L954 402L800 340L942 376L836 462L863 347L946 425L1029 352L949 378L805 345L880 426L995 394L838 425L915 396L1005 343L996 390L942 332L999 377L961 383L924 435L851 433L939 353L981 372L872 327L932 390L930 363L934 478L887 487L973 445L1035 377L859 490L986 383L837 334L973 354L910 480L811 321L859 465L920 452L888 410L887 372L806 356L875 463L898 395L937 355L868 349L930 445L900 446L839 493L829 356L932 406L938 346L926 465L908 326L971 454L932 368L1052 357L868 332L793 336L930 330L929 414L888 424L902 497L846 418L940 326L858 473L849 406L933 403L864 414L935 458L972 388L906 422L831 343L1053 365L915 376L919 333L998 350L871 389L898 483L929 371L938 440L958 421L859 516L1041 360L882 379L945 448L949 369L951 349L970 425L903 485L883 406L836 423L840 456L929 364L960 370L963 336L896 357L883 442L969 393L945 353L991 392L972 394L948 397L971 363L906 486L898 422L942 476L965 389L929 499L927 378L787 338L845 359L849 502L844 358L996 351L896 402L846 409L971 469L840 387L914 343L871 353L955 447L906 346L961 335L1034 369L860 517L944 388L876 498L800 345L925 327L862 380L876 510L983 417L796 352L834 441L805 347L938 366L870 512L852 324L942 343L904 354L943 371L870 461L888 385L903 375L927 483L940 479L888 444L952 428L854 445L992 385L910 450L792 333L968 345L818 316L944 468L870 400L942 439L950 482L928 324L931 498L919 460L881 340L963 458L957 334L876 468L926 415L880 452L878 418L846 354L898 339L872 346L922 466"/><path stroke="none" marker-start="url(#rb)" marker-mid="url(#rb)" marker-end="url(#rb)" d="M912 402L888 464L912 424L914 409L936 398L907 464L912 344L946 460L863 448L859 474L853 366L940 392L890 395L865 457L1018 377L947 401L909 363L924 430L810 355L872 389L940 373L873 406L833 418L896 411L988 386L861 415L853 481L945 330L874 457L925 411L949 455L968 455L1019 364L916 439L967 447L961 379L907 433L882 466L965 429L868 421L902 357L818 361L880 487L877 505L858 506L961 391L1046 368L1016 377L1031 374L853 475L826 480L909 429L1003 354L902 425L896 344L912 385L996 401L954 397L841 487L813 366L888 337L957 474L950 379L903 414L840 466L851 465L953 346L876 337L921 339L878 335L826 332L805 359L899 503L946 493L895 455L840 420L911 325L850 510L883 386L984 375L917 434L936 414L1012 357L956 440L874 502L860 409L825 333L893 504L878 448L980 424L928 430L862 503L905 409L873 410L907 481L899 500L855 414L968 437L981 368L895 399L887 372L830 425L956 483L862 522L833 458L949 437L833 353L873 417L842 332L962 381L992 393L881 344L907 389L1007 368L838 342L796 356L995 386L899 461L921 334L840 322L894 393L1018 357L909 349L935 473L1034 359L938 424L999 388L863 482L802 355L874 494L960 375L1017 370L891 441L883 433L930 440L852 443L959 378L886 444L886 444L961 463L936 350L862 422L970 463L860 320L867 321L880 372L1028 374L976 381L889 347L943 410L930 480L962 427L889 345L836 483L853 355L852 484L968 435L864 506L962 384L949 360L806 350L853 346L843 362L861 466L854 475L988 403L900 364L930 449L869 325L907 439L867 326L908 358L882 401L989 344L1006 374L917 435L987 342L794 333L794 350L959 440L958 396L867 370L967 421L1002 367L911 480L944 478L931 425L919 484L935 426L972 435L897 324L915 402L926 389L876 415L810 329L928 492L923 478L938 413L990 411L849 459L915 388L909 384L977 403L869 422L984 452L990 401L998 372L861 360L844 446L828 332L926 352L825 322L863 432L1027 374L861 495L976 446L993 352L976 390L901 407L873 516L892 413L889 476L914 478L959 410L1001 400L998 360L846 479L882 347L876 389L867 447L867 387L906 413L949 339L885 391L910 474L891 367L909 352L884 325L786 341L855 413L985 343L911 352L1005 346L1009 346L821 362L986 379L893 393L948 456L952 427L791 366L956 471L943 380L825 350L838 396L954 420L839 472L907 420L943 465L910 415L936 476L957 338L929 413L963 404L1018 353L924 332L928 410L922 333L863 390L846 404L883 391L965 362L956 440L972 389L928 485L941 473L936 493L877 485L828 432L917 325L963 473L903 370L834 320L952 382L881 474L965 362L935 469L933 459L866 408L1034 376L948 488L907 475L872 504L969 404L870 489L953 418L976 423L826 453L846 414L934 419L982 419L915 504L1049 371L937 339L918 497L836 455L916 357L910 382L831 363L915 440L908 372"/></g>
<path d="M416.4 161.1L416.8 165.6L418.4 169.5L416.8 172.2L418.4 174.8L416.8 178.8L417.9 182.2M417.3 167.5L422.2 168.2L427.6 168.2L433.0 167.5L438.4 166.2L441.6 164.9L443.8 162.9M441.6 164.9L444.9 168.2L449.2 170.2L452.4 170.2L454.6 168.2L457.8 166.9L458.4 163.6M457.8 166.9L460.0 169.5L461.1 173.5L465.4 174.8L468.6 173.5L470.8 171.5L469.7 168.2L473.0 165.6L473.5 163.8M460.0 172.8L458.9 176.1L461.1 180.1L465.4 181.4L469.7 182.1L472.4 181.4L474.0 178.8L470.8 175.5M484.3 168.9L481.6 172.2L480.5 176.1L477.3 180.1L474.0 182.1M474.0 182.1L471.9 186.7L469.7 190.6L471.9 194.6L475.1 199.9L475.1 205.2L478.4 207.8M500.0 170.2L499.4 174.8L496.7 181.4L496.2 186.7L494.6 190.6L496.2 195.9L494.6 199.9M494.6 199.9L490.2 198.6L485.9 201.2L483.8 206.5L478.4 207.8M494.6 199.9L497.8 200.9M419.0 203.2L425.4 203.8L433.0 205.2L438.4 205.2L443.8 203.8M443.8 203.8L447.0 199.9L450.3 196.6L454.6 192.6L457.8 193.3L459.5 197.2L458.9 202.5L460.0 206.5L454.6 207.8L448.1 207.1L443.8 203.8M454.6 192.6L460.0 191.3L465.4 190.6L469.7 190.6M438.4 205.2L435.2 210.4L438.4 215.7L435.2 221.0L438.4 225.0M438.4 225.0L433.0 228.9L427.6 232.9L422.2 234.2L416.8 233.5M438.4 225.0L443.8 227.6L449.2 229.6L454.6 228.9L460.0 228.3L465.4 230.2L467.6 232.9M467.6 232.9L471.9 228.9L476.2 226.3L480.5 227.6M467.6 232.9L470.8 236.8L473.0 240.8L474.9 242.4M480.5 227.6L481.6 231.6L483.8 235.5L484.8 236.2M480.5 227.6L481.6 222.3L478.4 217.0L476.2 213.1L479.4 209.1L478.4 207.8M473.2 163.3L471.0 164.0L468.6 164.1L466.3 164.0L462.7 162.3L459.5 163.6L457.6 163.1L455.1 162.3L451.5 161.7L446.1 163.1L441.1 162.7L437.8 162.0L431.3 160.9L429.2 159.5L428.4 160.4L426.0 160.7L421.8 160.9L416.4 161.1L414.0 160.7L412.9 159.5L409.3 157.8L407.4 158.0L405.5 159.5L402.5 160.7L403.3 162.0L401.7 163.2L397.3 163.8L395.3 165.3L392.9 166.1L392.8 166.9L392.0 167.5L392.3 169.8L393.1 169.0L393.9 170.6L394.6 171.2L394.3 173.7L395.3 174.1L397.7 173.5L396.6 174.9L397.3 176.1L399.0 175.7L396.6 178.1L398.2 178.2L396.8 179.8L396.6 183.1L399.0 181.1L401.1 180.3L404.2 179.4L405.1 180.7L403.8 182.7L407.1 183.2L410.3 183.6L412.3 183.5L415.2 181.5L417.9 182.2L421.3 181.9L421.7 185.8L424.5 186.9L425.5 186.9L423.5 189.6L420.6 191.4L419.0 193.9L417.6 194.3L419.0 196.6L419.0 201.2L418.4 204.2L417.3 206.2L416.6 208.1L418.1 209.5L416.6 212.2L413.2 212.6L411.1 212.3L413.6 215.1L414.3 217.3L416.3 219.7L417.3 221.7L416.3 222.7L414.6 224.3L413.6 228.3L415.7 231.8L417.6 231.4L416.8 233.9L414.1 234.5L411.4 240.1L411.9 242.1L412.5 245.0L413.3 244.9L417.3 244.8L419.0 245.7L421.7 247.4L423.7 250.2L423.0 250.8L423.7 252.4L424.4 253.6L425.8 255.6L427.3 258.2L428.5 258.1L431.8 260.5L433.5 258.9L434.6 259.0L436.8 255.1L439.7 253.9L442.5 253.5L444.7 251.2L450.5 250.7L454.4 251.1L459.8 250.8L464.2 250.6L465.8 249.6L468.7 251.1L471.9 247.5L472.7 245.0L475.3 242.1L478.8 240.0L481.8 239.7L484.9 239.1L484.6 236.8L485.1 234.5L486.8 231.7L487.2 229.7L489.9 227.6L491.0 227.2L492.9 225.8L494.9 224.6L493.5 223.1L490.8 221.4L489.9 218.9L488.9 215.1L490.0 212.3L492.2 208.2L493.9 206.6L496.8 203.0L497.6 201.6L501.8 198.3L500.5 197.2L501.0 196.2L504.9 193.7L505.9 193.1L511.9 191.6L515.9 189.6L518.9 187.5L522.6 185.8L526.2 183.4L527.2 182.1L526.2 179.8L526.7 178.0L528.3 177.2L526.6 175.7L524.3 175.3L521.2 176.9L519.2 176.9L517.2 175.9L514.0 176.5L513.5 175.5L511.1 174.8L508.1 175.5L503.2 171.0L499.6 170.3L495.6 172.2L492.4 172.3L489.1 170.3L486.5 171.0L484.3 168.9L481.6 168.2L478.4 167.3L476.7 164.6L475.1 164.9ZM517.8 213.3L519.6 214.9L521.8 213.7L522.1 216.1L525.3 217.4L527.5 216.0L530.0 211.5L527.0 210.2L527.1 208.3L525.3 209.1L522.4 209.9L518.3 212.7ZM533.7 207.8L534.0 208.7L536.7 210.0L539.1 209.5L538.3 208.1L535.1 206.9ZM505.7 221.7L506.7 222.8L508.1 222.6L509.2 220.7L508.1 219.8L506.7 220.9ZM507.5 224.7L509.5 225.4L508.6 225.8L507.3 225.2Z" fill="none" stroke="#6f6b52" stroke-width="0.45" stroke-linejoin="round" opacity="0.65"/>
<rect x="391.1" y="155.5" width="152.0" height="108.0" fill="none" stroke="#8f8f8f" stroke-width="1"/>
<line x1="389.1" y1="155.0" x2="391.1" y2="155.0" stroke="#555" stroke-width="0.7"/>
<text x="388.3" y="157.6" class="t" text-anchor="end">44N</text>
<line x1="389.1" y1="181.4" x2="391.1" y2="181.4" stroke="#555" stroke-width="0.7"/>
<text x="388.3" y="184.0" class="t" text-anchor="end">42N</text>
<line x1="389.1" y1="207.8" x2="391.1" y2="207.8" stroke="#555" stroke-width="0.7"/>
<text x="388.3" y="210.4" class="t" text-anchor="end">40N</text>
<line x1="389.1" y1="234.2" x2="391.1" y2="234.2" stroke="#555" stroke-width="0.7"/>
<text x="388.3" y="236.8" class="t" text-anchor="end">38N</text>
<line x1="389.1" y1="260.6" x2="391.1" y2="260.6" stroke="#555" stroke-width="0.7"/>
<text x="388.3" y="263.2" class="t" text-anchor="end">36N</text>
<line x1="406.0" y1="263.5" x2="406.0" y2="265.5" stroke="#555" stroke-width="0.7"/>
<text x="406.0" y="272.9" class="t" text-anchor="middle">8W</text>
<line x1="427.6" y1="263.5" x2="427.6" y2="265.5" stroke="#555" stroke-width="0.7"/>
<text x="427.6" y="272.9" class="t" text-anchor="middle">6W</text>
<line x1="449.2" y1="263.5" x2="449.2" y2="265.5" stroke="#555" stroke-width="0.7"/>
<text x="449.2" y="272.9" class="t" text-anchor="middle">4W</text>
<line x1="470.8" y1="263.5" x2="470.8" y2="265.5" stroke="#555" stroke-width="0.7"/>
<text x="470.8" y="272.9" class="t" text-anchor="middle">2W</text>
<line x1="492.4" y1="263.5" x2="492.4" y2="265.5" stroke="#555" stroke-width="0.7"/>
<text x="492.4" y="272.9" class="t" text-anchor="middle">0</text>
<line x1="514.0" y1="263.5" x2="514.0" y2="265.5" stroke="#555" stroke-width="0.7"/>
<text x="514.0" y="272.9" class="t" text-anchor="middle">2E</text>
<line x1="535.6" y1="263.5" x2="535.6" y2="265.5" stroke="#555" stroke-width="0.7"/>
<text x="535.6" y="272.9" class="t" text-anchor="middle">4E</text>
<defs><linearGradient id="g5" x1="0" x2="1" y1="0" y2="0"><stop offset="0.000" stop-color="#ffffe5"/><stop offset="0.050" stop-color="#fffcd7"/><stop offset="0.100" stop-color="#fff9c7"/><stop offset="0.150" stop-color="#fff5b8"/><stop offset="0.200" stop-color="#ffeea8"/><stop offset="0.250" stop-color="#fee697"/><stop offset="0.300" stop-color="#fedc82"/><stop offset="0.350" stop-color="#fed069"/><stop offset="0.400" stop-color="#fec550"/><stop offset="0.450" stop-color="#feb541"/><stop offset="0.500" stop-color="#fea433"/><stop offset="0.550" stop-color="#fd9627"/><stop offset="0.600" stop-color="#f6861f"/><stop offset="0.650" stop-color="#ef7718"/><stop offset="0.700" stop-color="#e56910"/><stop offset="0.750" stop-color="#d95b09"/><stop offset="0.800" stop-color="#cd4d03"/><stop offset="0.850" stop-color="#bb4403"/><stop offset="0.900" stop-color="#a83b03"/><stop offset="0.950" stop-color="#943304"/><stop offset="1.000" stop-color="#812d05"/></linearGradient></defs>
<rect x="397.5" y="277.5" width="139.4" height="3.9" fill="url(#g5)"/>
<path d="M397.8 277.5 L390.4 279.4 L397.8 281.4 Z" fill="#fffddc"/>
<path d="M536.6 277.5 L543.9 279.4 L536.6 281.4 Z" fill="#712806"/>
<path d="M397.5 277.5L390.4 279.4L397.5 281.4L536.9 281.4L543.9 279.4L536.9 277.5Z" fill="none" stroke="#3a3a3a" stroke-width="0.55"/>
<line x1="397.5" y1="281.4" x2="397.5" y2="283.0" stroke="#444" stroke-width="0.6"/>
<text x="397.5" y="290.3" class="t" text-anchor="middle">15</text>
<line x1="425.4" y1="281.4" x2="425.4" y2="283.0" stroke="#444" stroke-width="0.6"/>
<text x="425.4" y="290.3" class="t" text-anchor="middle">30</text>
<line x1="453.3" y1="281.4" x2="453.3" y2="283.0" stroke="#444" stroke-width="0.6"/>
<text x="453.3" y="290.3" class="t" text-anchor="middle">45</text>
<line x1="481.1" y1="281.4" x2="481.1" y2="283.0" stroke="#444" stroke-width="0.6"/>
<text x="481.1" y="290.3" class="t" text-anchor="middle">60</text>
<line x1="509.0" y1="281.4" x2="509.0" y2="283.0" stroke="#444" stroke-width="0.6"/>
<text x="509.0" y="290.3" class="t" text-anchor="middle">75</text>
<line x1="536.9" y1="281.4" x2="536.9" y2="283.0" stroke="#444" stroke-width="0.6"/>
<text x="536.9" y="290.3" class="t" text-anchor="middle">90</text>
<text x="467.0" y="301.4" class="t2" text-anchor="middle">Overestimation rate [%]</text>
</svg></body></html>
